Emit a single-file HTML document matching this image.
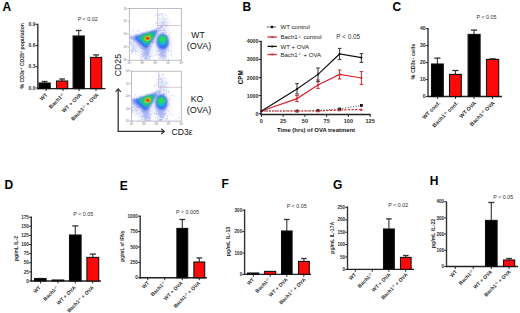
<!DOCTYPE html>
<html><head><meta charset="utf-8"><style>
html,body{margin:0;padding:0;background:#fff;}
svg{display:block;font-family:"Liberation Sans", sans-serif;}
</style></head><body>
<svg width="520" height="313" viewBox="0 0 520 313">
<defs>
<filter id="b03" x="-50%" y="-50%" width="200%" height="200%"><feGaussianBlur stdDeviation="0.35"/></filter>
<filter id="b05" x="-50%" y="-50%" width="200%" height="200%"><feGaussianBlur stdDeviation="0.6"/></filter>
<filter id="b08" x="-50%" y="-50%" width="200%" height="200%"><feGaussianBlur stdDeviation="0.8"/></filter>
<filter id="b1" x="-50%" y="-50%" width="200%" height="200%"><feGaussianBlur stdDeviation="1"/></filter>
<filter id="b15" x="-50%" y="-50%" width="200%" height="200%"><feGaussianBlur stdDeviation="1.5"/></filter>
<filter id="b2" x="-50%" y="-50%" width="200%" height="200%"><feGaussianBlur stdDeviation="2.2"/></filter>
<filter id="b3" x="-50%" y="-50%" width="200%" height="200%"><feGaussianBlur stdDeviation="3"/></filter>
<filter id="b4" x="-50%" y="-50%" width="200%" height="200%"><feGaussianBlur stdDeviation="4"/></filter>
</defs>
<rect width="520" height="313" fill="#fff"/>
<text x="2.6" y="11" font-size="12" text-anchor="start" font-weight="bold" fill="#000">A</text>
<line x1="37.8" y1="23.7" x2="37.8" y2="89.19999999999999" stroke="#333" stroke-width="1.4"/>
<line x1="37.199999999999996" y1="88.6" x2="105.5" y2="88.6" stroke="#222" stroke-width="1.4"/>
<line x1="35.599999999999994" y1="24.3" x2="37.8" y2="24.3" stroke="#222" stroke-width="1.0"/>
<text x="35.4" y="26.064" font-size="4.9" text-anchor="end" font-weight="bold" fill="#2a2a2a">0.9</text>
<line x1="35.599999999999994" y1="45.5" x2="37.8" y2="45.5" stroke="#222" stroke-width="1.0"/>
<text x="35.4" y="47.264" font-size="4.9" text-anchor="end" font-weight="bold" fill="#2a2a2a">0.6</text>
<line x1="35.599999999999994" y1="66.7" x2="37.8" y2="66.7" stroke="#222" stroke-width="1.0"/>
<text x="35.4" y="68.464" font-size="4.9" text-anchor="end" font-weight="bold" fill="#2a2a2a">0.3</text>
<line x1="35.599999999999994" y1="88" x2="37.8" y2="88" stroke="#222" stroke-width="1.0"/>
<text x="35.4" y="89.764" font-size="4.9" text-anchor="end" font-weight="bold" fill="#2a2a2a">0.0</text>
<line x1="44.6" y1="83" x2="44.6" y2="81.5" stroke="#333" stroke-width="1.1"/>
<line x1="41.688" y1="81.5" x2="47.512" y2="81.5" stroke="#333" stroke-width="1.32"/>
<rect x="39.0" y="83" width="11.200000000000003" height="5.599999999999994" fill="#000" stroke="#111" stroke-width="1.1"/>
<line x1="62.1" y1="81" x2="62.1" y2="79.0" stroke="#333" stroke-width="1.1"/>
<line x1="59.188" y1="79.0" x2="65.012" y2="79.0" stroke="#333" stroke-width="1.32"/>
<rect x="56.5" y="81" width="11.200000000000003" height="7.599999999999994" fill="#fc0a0a" stroke="#111" stroke-width="1.1"/>
<line x1="78.69999999999999" y1="36" x2="78.69999999999999" y2="30.5" stroke="#333" stroke-width="1.1"/>
<line x1="75.78799999999998" y1="30.5" x2="81.612" y2="30.5" stroke="#333" stroke-width="1.32"/>
<rect x="73.1" y="36" width="11.200000000000003" height="52.599999999999994" fill="#000" stroke="#111" stroke-width="1.1"/>
<line x1="96.1" y1="57.4" x2="96.1" y2="54.9" stroke="#333" stroke-width="1.1"/>
<line x1="93.18799999999999" y1="54.9" x2="99.012" y2="54.9" stroke="#333" stroke-width="1.32"/>
<rect x="90.5" y="57.4" width="11.200000000000003" height="31.199999999999996" fill="#fc0a0a" stroke="#111" stroke-width="1.1"/>
<line x1="46.1" y1="88.6" x2="46.1" y2="91.0" stroke="#222" stroke-width="1.0"/>
<line x1="63.0" y1="88.6" x2="63.0" y2="91.0" stroke="#222" stroke-width="1.0"/>
<line x1="79.1" y1="88.6" x2="79.1" y2="91.0" stroke="#222" stroke-width="1.0"/>
<line x1="96.0" y1="88.6" x2="96.0" y2="91.0" stroke="#222" stroke-width="1.0"/>
<text x="47.8" y="95.19999999999999" font-size="5.3" text-anchor="end" font-weight="bold" fill="#2a2a2a" transform="rotate(-45 47.8 95.19999999999999)">WT</text>
<text x="64.8" y="95.19999999999999" font-size="5.3" text-anchor="end" font-weight="bold" fill="#2a2a2a" transform="rotate(-45 64.8 95.19999999999999)">Bach1<tspan font-size="70%" dy="-1.6">-/-</tspan><tspan dy="1.6"></tspan></text>
<text x="82" y="95.19999999999999" font-size="5.3" text-anchor="end" font-weight="bold" fill="#2a2a2a" transform="rotate(-45 82 95.19999999999999)">WT + OVA</text>
<text x="99" y="95.19999999999999" font-size="5.3" text-anchor="end" font-weight="bold" fill="#2a2a2a" transform="rotate(-45 99 95.19999999999999)">Bach1<tspan font-size="70%" dy="-1.6">-/-</tspan><tspan dy="1.6"> + OVA</tspan></text>
<text x="23.7" y="55.8" font-size="5.3" text-anchor="middle" font-weight="bold" fill="#2a2a2a" transform="rotate(-90 23.7 55.8)" textLength="65.6" lengthAdjust="spacingAndGlyphs">% CD3ε<tspan font-size="70%" dy="-1.6">+</tspan><tspan dy="1.6"> CD25</tspan><tspan font-size="70%" dy="-1.6">+</tspan><tspan dy="1.6"> population</tspan></text>
<text x="87.7" y="21.3" font-size="5.4" text-anchor="middle" font-weight="normal" fill="#333">P &lt; 0.02</text>
<text x="392.5" y="11" font-size="12" text-anchor="start" font-weight="bold" fill="#000">C</text>
<line x1="428" y1="28.0" x2="428" y2="97.1" stroke="#333" stroke-width="1.4"/>
<line x1="427.4" y1="96.5" x2="502" y2="96.5" stroke="#222" stroke-width="1.4"/>
<line x1="425.8" y1="28.6" x2="428" y2="28.6" stroke="#222" stroke-width="1.0"/>
<text x="425.6" y="30.400000000000002" font-size="5.0" text-anchor="end" font-weight="bold" fill="#2a2a2a">40</text>
<line x1="425.8" y1="45.6" x2="428" y2="45.6" stroke="#222" stroke-width="1.0"/>
<text x="425.6" y="47.4" font-size="5.0" text-anchor="end" font-weight="bold" fill="#2a2a2a">30</text>
<line x1="425.8" y1="62.6" x2="428" y2="62.6" stroke="#222" stroke-width="1.0"/>
<text x="425.6" y="64.4" font-size="5.0" text-anchor="end" font-weight="bold" fill="#2a2a2a">20</text>
<line x1="425.8" y1="79.6" x2="428" y2="79.6" stroke="#222" stroke-width="1.0"/>
<text x="425.6" y="81.39999999999999" font-size="5.0" text-anchor="end" font-weight="bold" fill="#2a2a2a">10</text>
<line x1="425.8" y1="96.6" x2="428" y2="96.6" stroke="#222" stroke-width="1.0"/>
<text x="425.6" y="98.39999999999999" font-size="5.0" text-anchor="end" font-weight="bold" fill="#2a2a2a">0</text>
<line x1="437.4" y1="64" x2="437.4" y2="58.1" stroke="#333" stroke-width="1.1"/>
<line x1="434.332" y1="58.1" x2="440.46799999999996" y2="58.1" stroke="#333" stroke-width="1.32"/>
<rect x="431.5" y="64" width="11.800000000000011" height="32.5" fill="#000" stroke="#111" stroke-width="1.1"/>
<line x1="455.4" y1="74.4" x2="455.4" y2="70.5" stroke="#333" stroke-width="1.1"/>
<line x1="452.332" y1="70.5" x2="458.46799999999996" y2="70.5" stroke="#333" stroke-width="1.32"/>
<rect x="449.5" y="74.4" width="11.800000000000011" height="22.099999999999994" fill="#fc0a0a" stroke="#111" stroke-width="1.1"/>
<line x1="474.1" y1="34.4" x2="474.1" y2="30.1" stroke="#333" stroke-width="1.1"/>
<line x1="470.98" y1="30.1" x2="477.22" y2="30.1" stroke="#333" stroke-width="1.32"/>
<rect x="468.1" y="34.4" width="11.999999999999943" height="62.1" fill="#000" stroke="#111" stroke-width="1.1"/>
<line x1="492.6" y1="59.4" x2="492.6" y2="58.9" stroke="#333" stroke-width="1.1"/>
<line x1="489.428" y1="58.9" x2="495.77200000000005" y2="58.9" stroke="#333" stroke-width="1.32"/>
<rect x="486.5" y="59.4" width="12.199999999999989" height="37.1" fill="#fc0a0a" stroke="#111" stroke-width="1.1"/>
<line x1="437.6" y1="96.5" x2="437.6" y2="98.9" stroke="#222" stroke-width="1.0"/>
<line x1="455.5" y1="96.5" x2="455.5" y2="98.9" stroke="#222" stroke-width="1.0"/>
<line x1="474.1" y1="96.5" x2="474.1" y2="98.9" stroke="#222" stroke-width="1.0"/>
<line x1="492.5" y1="96.5" x2="492.5" y2="98.9" stroke="#222" stroke-width="1.0"/>
<text x="440.6" y="103.5" font-size="5.4" text-anchor="end" font-weight="bold" fill="#2a2a2a" transform="rotate(-45 440.6 103.5)">WT conf.</text>
<text x="458.6" y="103.5" font-size="5.4" text-anchor="end" font-weight="bold" fill="#2a2a2a" transform="rotate(-45 458.6 103.5)">Bach1<tspan font-size="70%" dy="-1.6">-/-</tspan><tspan dy="1.6"> conf.</tspan></text>
<text x="476.5" y="103.5" font-size="5.4" text-anchor="end" font-weight="bold" fill="#2a2a2a" transform="rotate(-45 476.5 103.5)">WT OVA</text>
<text x="495" y="103.5" font-size="5.4" text-anchor="end" font-weight="bold" fill="#2a2a2a" transform="rotate(-45 495 103.5)">Bach1<tspan font-size="70%" dy="-1.6">-/-</tspan><tspan dy="1.6"> OVA</tspan></text>
<text x="415.2" y="61.6" font-size="5.3" text-anchor="middle" font-weight="bold" fill="#2a2a2a" transform="rotate(-90 415.2 61.6)" textLength="35.6" lengthAdjust="spacingAndGlyphs">% CD3ε<tspan font-size="70%" dy="-1.6">+</tspan><tspan dy="1.6"> cells</tspan></text>
<text x="486.5" y="19.4" font-size="5.4" text-anchor="middle" font-weight="normal" fill="#333">P &lt; 0.05</text>
<text x="4.5" y="189" font-size="12" text-anchor="start" font-weight="bold" fill="#000">D</text>
<line x1="31.3" y1="216.4" x2="31.3" y2="281.6" stroke="#333" stroke-width="1.4"/>
<line x1="30.7" y1="281" x2="101" y2="281" stroke="#222" stroke-width="1.4"/>
<line x1="29.1" y1="217.16000000000003" x2="31.3" y2="217.16000000000003" stroke="#222" stroke-width="1.0"/>
<text x="28.900000000000002" y="218.81600000000003" font-size="4.6" text-anchor="end" font-weight="bold" fill="#2a2a2a">175</text>
<line x1="29.1" y1="226.28" x2="31.3" y2="226.28" stroke="#222" stroke-width="1.0"/>
<text x="28.900000000000002" y="227.936" font-size="4.6" text-anchor="end" font-weight="bold" fill="#2a2a2a">150</text>
<line x1="29.1" y1="235.4" x2="31.3" y2="235.4" stroke="#222" stroke-width="1.0"/>
<text x="28.900000000000002" y="237.056" font-size="4.6" text-anchor="end" font-weight="bold" fill="#2a2a2a">125</text>
<line x1="29.1" y1="244.52" x2="31.3" y2="244.52" stroke="#222" stroke-width="1.0"/>
<text x="28.900000000000002" y="246.17600000000002" font-size="4.6" text-anchor="end" font-weight="bold" fill="#2a2a2a">100</text>
<line x1="29.1" y1="253.64000000000001" x2="31.3" y2="253.64000000000001" stroke="#222" stroke-width="1.0"/>
<text x="28.900000000000002" y="255.29600000000002" font-size="4.6" text-anchor="end" font-weight="bold" fill="#2a2a2a">75</text>
<line x1="29.1" y1="262.76" x2="31.3" y2="262.76" stroke="#222" stroke-width="1.0"/>
<text x="28.900000000000002" y="264.416" font-size="4.6" text-anchor="end" font-weight="bold" fill="#2a2a2a">50</text>
<line x1="29.1" y1="271.88" x2="31.3" y2="271.88" stroke="#222" stroke-width="1.0"/>
<text x="28.900000000000002" y="273.536" font-size="4.6" text-anchor="end" font-weight="bold" fill="#2a2a2a">25</text>
<line x1="29.1" y1="281.0" x2="31.3" y2="281.0" stroke="#222" stroke-width="1.0"/>
<text x="28.900000000000002" y="282.656" font-size="4.6" text-anchor="end" font-weight="bold" fill="#2a2a2a">0</text>
<line x1="40.3" y1="278.6" x2="40.3" y2="278.5" stroke="#333" stroke-width="1.1"/>
<line x1="37.284" y1="278.5" x2="43.315999999999995" y2="278.5" stroke="#333" stroke-width="1.32"/>
<rect x="34.5" y="278.6" width="11.600000000000001" height="2.3999999999999773" fill="#000" stroke="#111" stroke-width="1.1"/>
<rect x="52.1" y="280" width="11.600000000000001" height="1" fill="#000" stroke="#111" stroke-width="1.1"/>
<line x1="75.30000000000001" y1="235" x2="75.30000000000001" y2="225.9" stroke="#333" stroke-width="1.1"/>
<line x1="72.284" y1="225.9" x2="78.31600000000002" y2="225.9" stroke="#333" stroke-width="1.32"/>
<rect x="69.5" y="235" width="11.600000000000009" height="46" fill="#000" stroke="#111" stroke-width="1.1"/>
<line x1="92.80000000000001" y1="257.4" x2="92.80000000000001" y2="254.1" stroke="#333" stroke-width="1.1"/>
<line x1="89.73200000000001" y1="254.1" x2="95.86800000000001" y2="254.1" stroke="#333" stroke-width="1.32"/>
<rect x="86.9" y="257.4" width="11.799999999999997" height="23.600000000000023" fill="#fc0a0a" stroke="#111" stroke-width="1.1"/>
<line x1="40.5" y1="281" x2="40.5" y2="283.4" stroke="#222" stroke-width="1.0"/>
<line x1="58.0" y1="281" x2="58.0" y2="283.4" stroke="#222" stroke-width="1.0"/>
<line x1="75.3" y1="281" x2="75.3" y2="283.4" stroke="#222" stroke-width="1.0"/>
<line x1="92.7" y1="281" x2="92.7" y2="283.4" stroke="#222" stroke-width="1.0"/>
<text x="41" y="288" font-size="5.1" text-anchor="end" font-weight="bold" fill="#2a2a2a" transform="rotate(-45 41 288)">WT</text>
<text x="58.5" y="288" font-size="5.1" text-anchor="end" font-weight="bold" fill="#2a2a2a" transform="rotate(-45 58.5 288)">Bach1<tspan font-size="70%" dy="-1.6">-/-</tspan><tspan dy="1.6"></tspan></text>
<text x="76" y="288" font-size="5.1" text-anchor="end" font-weight="bold" fill="#2a2a2a" transform="rotate(-45 76 288)">WT + OVA</text>
<text x="94" y="288" font-size="5.1" text-anchor="end" font-weight="bold" fill="#2a2a2a" transform="rotate(-45 94 288)">Bach1<tspan font-size="70%" dy="-1.6">-/-</tspan><tspan dy="1.6"> + OVA</tspan></text>
<text x="18.3" y="248.5" font-size="5.0" text-anchor="middle" font-weight="bold" fill="#2a2a2a" transform="rotate(-90 18.3 248.5)" textLength="25" lengthAdjust="spacingAndGlyphs">pg/mL IL-2</text>
<text x="83.3" y="215.79999999999998" font-size="5.4" text-anchor="middle" font-weight="normal" fill="#333">P &lt; 0.05</text>
<text x="119.8" y="189.5" font-size="12" text-anchor="start" font-weight="bold" fill="#000">E</text>
<line x1="140.2" y1="215.6" x2="140.2" y2="278.40000000000003" stroke="#333" stroke-width="1.4"/>
<line x1="139.6" y1="277.8" x2="207" y2="277.8" stroke="#222" stroke-width="1.4"/>
<line x1="138.0" y1="216.20000000000002" x2="140.2" y2="216.20000000000002" stroke="#222" stroke-width="1.0"/>
<text x="137.79999999999998" y="217.85600000000002" font-size="4.6" text-anchor="end" font-weight="bold" fill="#2a2a2a">1000</text>
<line x1="138.0" y1="231.60000000000002" x2="140.2" y2="231.60000000000002" stroke="#222" stroke-width="1.0"/>
<text x="137.79999999999998" y="233.25600000000003" font-size="4.6" text-anchor="end" font-weight="bold" fill="#2a2a2a">750</text>
<line x1="138.0" y1="247.0" x2="140.2" y2="247.0" stroke="#222" stroke-width="1.0"/>
<text x="137.79999999999998" y="248.656" font-size="4.6" text-anchor="end" font-weight="bold" fill="#2a2a2a">500</text>
<line x1="138.0" y1="262.40000000000003" x2="140.2" y2="262.40000000000003" stroke="#222" stroke-width="1.0"/>
<text x="137.79999999999998" y="264.05600000000004" font-size="4.6" text-anchor="end" font-weight="bold" fill="#2a2a2a">250</text>
<line x1="138.0" y1="277.8" x2="140.2" y2="277.8" stroke="#222" stroke-width="1.0"/>
<text x="137.79999999999998" y="279.456" font-size="4.6" text-anchor="end" font-weight="bold" fill="#2a2a2a">0</text>
<rect x="142.0" y="277.8" width="11.199999999999989" height="0.0" fill="#000" stroke="#111" stroke-width="1.1"/>
<rect x="159.0" y="277.8" width="11.199999999999989" height="0.0" fill="#000" stroke="#111" stroke-width="1.1"/>
<line x1="182.3" y1="228.4" x2="182.3" y2="219.5" stroke="#333" stroke-width="1.1"/>
<line x1="179.49200000000002" y1="219.5" x2="185.108" y2="219.5" stroke="#333" stroke-width="1.32"/>
<rect x="176.9" y="228.4" width="10.799999999999983" height="49.400000000000006" fill="#000" stroke="#111" stroke-width="1.1"/>
<line x1="199.3" y1="262" x2="199.3" y2="257.9" stroke="#333" stroke-width="1.1"/>
<line x1="196.49200000000002" y1="257.9" x2="202.108" y2="257.9" stroke="#333" stroke-width="1.32"/>
<rect x="193.9" y="262" width="10.799999999999983" height="15.800000000000011" fill="#fc0a0a" stroke="#111" stroke-width="1.1"/>
<line x1="147.8" y1="277.8" x2="147.8" y2="280.2" stroke="#222" stroke-width="1.0"/>
<line x1="164.7" y1="277.8" x2="164.7" y2="280.2" stroke="#222" stroke-width="1.0"/>
<line x1="182.29999999999998" y1="277.8" x2="182.29999999999998" y2="280.2" stroke="#222" stroke-width="1.0"/>
<line x1="199.2" y1="277.8" x2="199.2" y2="280.2" stroke="#222" stroke-width="1.0"/>
<text x="149.5" y="283.40000000000003" font-size="5.1" text-anchor="end" font-weight="bold" fill="#2a2a2a" transform="rotate(-45 149.5 283.40000000000003)">WT</text>
<text x="166" y="283.40000000000003" font-size="5.1" text-anchor="end" font-weight="bold" fill="#2a2a2a" transform="rotate(-45 166 283.40000000000003)">Bach1<tspan font-size="70%" dy="-1.6">-/-</tspan><tspan dy="1.6"></tspan></text>
<text x="183" y="283.40000000000003" font-size="5.1" text-anchor="end" font-weight="bold" fill="#2a2a2a" transform="rotate(-45 183 283.40000000000003)">WT + OVA</text>
<text x="200.5" y="283.40000000000003" font-size="5.1" text-anchor="end" font-weight="bold" fill="#2a2a2a" transform="rotate(-45 200.5 283.40000000000003)">Bach1<tspan font-size="70%" dy="-1.6">-/-</tspan><tspan dy="1.6"> + OVA</tspan></text>
<text x="124.3" y="246.2" font-size="5.0" text-anchor="middle" font-weight="bold" fill="#2a2a2a" transform="rotate(-90 124.3 246.2)" textLength="31" lengthAdjust="spacingAndGlyphs">pg/mL of IFNγ</text>
<text x="187.5" y="214.4" font-size="5.4" text-anchor="middle" font-weight="normal" fill="#333">P &lt; 0.005</text>
<text x="221.5" y="188.3" font-size="12" text-anchor="start" font-weight="bold" fill="#000">F</text>
<line x1="244.6" y1="209.4" x2="244.6" y2="275.0" stroke="#333" stroke-width="1.4"/>
<line x1="244.0" y1="274.4" x2="311" y2="274.4" stroke="#222" stroke-width="1.4"/>
<line x1="242.4" y1="210.2" x2="244.6" y2="210.2" stroke="#222" stroke-width="1.0"/>
<text x="242.2" y="211.856" font-size="4.6" text-anchor="end" font-weight="bold" fill="#2a2a2a">300</text>
<line x1="242.4" y1="231.59999999999997" x2="244.6" y2="231.59999999999997" stroke="#222" stroke-width="1.0"/>
<text x="242.2" y="233.25599999999997" font-size="4.6" text-anchor="end" font-weight="bold" fill="#2a2a2a">200</text>
<line x1="242.4" y1="252.99999999999997" x2="244.6" y2="252.99999999999997" stroke="#222" stroke-width="1.0"/>
<text x="242.2" y="254.65599999999998" font-size="4.6" text-anchor="end" font-weight="bold" fill="#2a2a2a">100</text>
<line x1="242.4" y1="274.4" x2="244.6" y2="274.4" stroke="#222" stroke-width="1.0"/>
<text x="242.2" y="276.056" font-size="4.6" text-anchor="end" font-weight="bold" fill="#2a2a2a">0</text>
<rect x="247.5" y="273" width="11.199999999999989" height="1.3999999999999773" fill="#000" stroke="#111" stroke-width="1.1"/>
<rect x="264.5" y="271.4" width="11.199999999999989" height="3.0" fill="#fc0a0a" stroke="#111" stroke-width="1.1"/>
<line x1="286.79999999999995" y1="231" x2="286.79999999999995" y2="219.5" stroke="#333" stroke-width="1.1"/>
<line x1="284.044" y1="219.5" x2="289.5559999999999" y2="219.5" stroke="#333" stroke-width="1.32"/>
<rect x="281.5" y="231" width="10.599999999999966" height="43.39999999999998" fill="#000" stroke="#111" stroke-width="1.1"/>
<line x1="303.9" y1="261.4" x2="303.9" y2="258.5" stroke="#333" stroke-width="1.1"/>
<line x1="301.092" y1="258.5" x2="306.70799999999997" y2="258.5" stroke="#333" stroke-width="1.32"/>
<rect x="298.5" y="261.4" width="10.800000000000011" height="13.0" fill="#fc0a0a" stroke="#111" stroke-width="1.1"/>
<line x1="253.3" y1="274.4" x2="253.3" y2="276.79999999999995" stroke="#222" stroke-width="1.0"/>
<line x1="270.2" y1="274.4" x2="270.2" y2="276.79999999999995" stroke="#222" stroke-width="1.0"/>
<line x1="286.8" y1="274.4" x2="286.8" y2="276.79999999999995" stroke="#222" stroke-width="1.0"/>
<line x1="303.8" y1="274.4" x2="303.8" y2="276.79999999999995" stroke="#222" stroke-width="1.0"/>
<text x="254.5" y="280.0" font-size="5.1" text-anchor="end" font-weight="bold" fill="#2a2a2a" transform="rotate(-45 254.5 280.0)">WT</text>
<text x="270.5" y="280.0" font-size="5.1" text-anchor="end" font-weight="bold" fill="#2a2a2a" transform="rotate(-45 270.5 280.0)">Bach1<tspan font-size="70%" dy="-1.6">-/-</tspan><tspan dy="1.6"></tspan></text>
<text x="288" y="280.0" font-size="5.1" text-anchor="end" font-weight="bold" fill="#2a2a2a" transform="rotate(-45 288 280.0)">WT + OVA</text>
<text x="306" y="280.0" font-size="5.1" text-anchor="end" font-weight="bold" fill="#2a2a2a" transform="rotate(-45 306 280.0)">Bach1<tspan font-size="70%" dy="-1.6">-/-</tspan><tspan dy="1.6"> + OVA</tspan></text>
<text x="229.8" y="241.5" font-size="5.0" text-anchor="middle" font-weight="bold" fill="#2a2a2a" transform="rotate(-90 229.8 241.5)" textLength="29.5" lengthAdjust="spacingAndGlyphs">pg/mL  IL-13</text>
<text x="296.7" y="208.4" font-size="5.4" text-anchor="middle" font-weight="normal" fill="#333">P &lt; 0.05</text>
<text x="333" y="188.7" font-size="12" text-anchor="start" font-weight="bold" fill="#000">G</text>
<line x1="347.5" y1="206.4" x2="347.5" y2="270.0" stroke="#333" stroke-width="1.4"/>
<line x1="346.9" y1="269.4" x2="414" y2="269.4" stroke="#222" stroke-width="1.4"/>
<line x1="345.3" y1="207.39999999999998" x2="347.5" y2="207.39999999999998" stroke="#222" stroke-width="1.0"/>
<text x="345.1" y="209.05599999999998" font-size="4.6" text-anchor="end" font-weight="bold" fill="#2a2a2a">250</text>
<line x1="345.3" y1="219.79999999999998" x2="347.5" y2="219.79999999999998" stroke="#222" stroke-width="1.0"/>
<text x="345.1" y="221.456" font-size="4.6" text-anchor="end" font-weight="bold" fill="#2a2a2a">200</text>
<line x1="345.3" y1="232.2" x2="347.5" y2="232.2" stroke="#222" stroke-width="1.0"/>
<text x="345.1" y="233.856" font-size="4.6" text-anchor="end" font-weight="bold" fill="#2a2a2a">150</text>
<line x1="345.3" y1="244.59999999999997" x2="347.5" y2="244.59999999999997" stroke="#222" stroke-width="1.0"/>
<text x="345.1" y="246.25599999999997" font-size="4.6" text-anchor="end" font-weight="bold" fill="#2a2a2a">100</text>
<line x1="345.3" y1="257.0" x2="347.5" y2="257.0" stroke="#222" stroke-width="1.0"/>
<text x="345.1" y="258.656" font-size="4.6" text-anchor="end" font-weight="bold" fill="#2a2a2a">50</text>
<line x1="345.3" y1="269.4" x2="347.5" y2="269.4" stroke="#222" stroke-width="1.0"/>
<text x="345.1" y="271.056" font-size="4.6" text-anchor="end" font-weight="bold" fill="#2a2a2a">0</text>
<rect x="349.5" y="269.4" width="11.199999999999989" height="0.0" fill="#000" stroke="#111" stroke-width="1.1"/>
<rect x="366.5" y="269.4" width="11.199999999999989" height="0.0" fill="#000" stroke="#111" stroke-width="1.1"/>
<line x1="388.9" y1="229" x2="388.9" y2="218.9" stroke="#333" stroke-width="1.1"/>
<line x1="386.092" y1="218.9" x2="391.70799999999997" y2="218.9" stroke="#333" stroke-width="1.32"/>
<rect x="383.5" y="229" width="10.800000000000011" height="40.39999999999998" fill="#000" stroke="#111" stroke-width="1.1"/>
<line x1="405.79999999999995" y1="257.4" x2="405.79999999999995" y2="255.5" stroke="#333" stroke-width="1.1"/>
<line x1="403.044" y1="255.5" x2="408.5559999999999" y2="255.5" stroke="#333" stroke-width="1.32"/>
<rect x="400.5" y="257.4" width="10.599999999999966" height="12.0" fill="#fc0a0a" stroke="#111" stroke-width="1.1"/>
<line x1="355.3" y1="269.4" x2="355.3" y2="271.79999999999995" stroke="#222" stroke-width="1.0"/>
<line x1="372.2" y1="269.4" x2="372.2" y2="271.79999999999995" stroke="#222" stroke-width="1.0"/>
<line x1="388.90000000000003" y1="269.4" x2="388.90000000000003" y2="271.79999999999995" stroke="#222" stroke-width="1.0"/>
<line x1="405.7" y1="269.4" x2="405.7" y2="271.79999999999995" stroke="#222" stroke-width="1.0"/>
<text x="356.5" y="275.0" font-size="5.1" text-anchor="end" font-weight="bold" fill="#2a2a2a" transform="rotate(-45 356.5 275.0)">WT</text>
<text x="373" y="275.0" font-size="5.1" text-anchor="end" font-weight="bold" fill="#2a2a2a" transform="rotate(-45 373 275.0)">Bach1<tspan font-size="70%" dy="-1.6">-/-</tspan><tspan dy="1.6"></tspan></text>
<text x="391" y="275.0" font-size="5.1" text-anchor="end" font-weight="bold" fill="#2a2a2a" transform="rotate(-45 391 275.0)">WT + OVA</text>
<text x="408" y="275.0" font-size="5.1" text-anchor="end" font-weight="bold" fill="#2a2a2a" transform="rotate(-45 408 275.0)">Bach1<tspan font-size="70%" dy="-1.6">-/-</tspan><tspan dy="1.6"> + OVA</tspan></text>
<text x="334.2" y="237.8" font-size="5.0" text-anchor="middle" font-weight="bold" fill="#2a2a2a" transform="rotate(-90 334.2 237.8)" textLength="31.7" lengthAdjust="spacingAndGlyphs">pg/mL  IL-17A</text>
<text x="398.3" y="207.4" font-size="5.4" text-anchor="middle" font-weight="normal" fill="#333">P &lt; 0.02</text>
<text x="429.8" y="184.7" font-size="12" text-anchor="start" font-weight="bold" fill="#000">H</text>
<line x1="446.5" y1="201.4" x2="446.5" y2="267.1" stroke="#333" stroke-width="1.4"/>
<line x1="445.9" y1="266.5" x2="518" y2="266.5" stroke="#222" stroke-width="1.4"/>
<line x1="444.3" y1="201.7" x2="446.5" y2="201.7" stroke="#222" stroke-width="1.0"/>
<text x="444.1" y="203.356" font-size="4.6" text-anchor="end" font-weight="bold" fill="#2a2a2a">400</text>
<line x1="444.3" y1="217.9" x2="446.5" y2="217.9" stroke="#222" stroke-width="1.0"/>
<text x="444.1" y="219.556" font-size="4.6" text-anchor="end" font-weight="bold" fill="#2a2a2a">300</text>
<line x1="444.3" y1="234.1" x2="446.5" y2="234.1" stroke="#222" stroke-width="1.0"/>
<text x="444.1" y="235.756" font-size="4.6" text-anchor="end" font-weight="bold" fill="#2a2a2a">200</text>
<line x1="444.3" y1="250.3" x2="446.5" y2="250.3" stroke="#222" stroke-width="1.0"/>
<text x="444.1" y="251.95600000000002" font-size="4.6" text-anchor="end" font-weight="bold" fill="#2a2a2a">100</text>
<line x1="444.3" y1="266.5" x2="446.5" y2="266.5" stroke="#222" stroke-width="1.0"/>
<text x="444.1" y="268.156" font-size="4.6" text-anchor="end" font-weight="bold" fill="#2a2a2a">0</text>
<rect x="449.5" y="266.5" width="11.199999999999989" height="0.0" fill="#000" stroke="#111" stroke-width="1.1"/>
<rect x="467.5" y="266.5" width="11.199999999999989" height="0.0" fill="#000" stroke="#111" stroke-width="1.1"/>
<line x1="491.29999999999995" y1="220.4" x2="491.29999999999995" y2="202.5" stroke="#333" stroke-width="1.1"/>
<line x1="488.284" y1="202.5" x2="494.3159999999999" y2="202.5" stroke="#333" stroke-width="1.32"/>
<rect x="485.5" y="220.4" width="11.599999999999966" height="46.099999999999994" fill="#000" stroke="#111" stroke-width="1.1"/>
<line x1="509.1" y1="260" x2="509.1" y2="258.5" stroke="#333" stroke-width="1.1"/>
<line x1="506.188" y1="258.5" x2="512.0120000000001" y2="258.5" stroke="#333" stroke-width="1.32"/>
<rect x="503.5" y="260" width="11.200000000000045" height="6.5" fill="#fc0a0a" stroke="#111" stroke-width="1.1"/>
<line x1="455.3" y1="266.5" x2="455.3" y2="268.9" stroke="#222" stroke-width="1.0"/>
<line x1="473.2" y1="266.5" x2="473.2" y2="268.9" stroke="#222" stroke-width="1.0"/>
<line x1="491.3" y1="266.5" x2="491.3" y2="268.9" stroke="#222" stroke-width="1.0"/>
<line x1="509.0" y1="266.5" x2="509.0" y2="268.9" stroke="#222" stroke-width="1.0"/>
<text x="457.5" y="272.1" font-size="5.1" text-anchor="end" font-weight="bold" fill="#2a2a2a" transform="rotate(-45 457.5 272.1)">WT</text>
<text x="474" y="272.1" font-size="5.1" text-anchor="end" font-weight="bold" fill="#2a2a2a" transform="rotate(-45 474 272.1)">Bach1<tspan font-size="70%" dy="-1.6">-/-</tspan><tspan dy="1.6"></tspan></text>
<text x="492.5" y="272.1" font-size="5.1" text-anchor="end" font-weight="bold" fill="#2a2a2a" transform="rotate(-45 492.5 272.1)">WT + OVA</text>
<text x="511" y="272.1" font-size="5.1" text-anchor="end" font-weight="bold" fill="#2a2a2a" transform="rotate(-45 511 272.1)">Bach1<tspan font-size="70%" dy="-1.6">-/-</tspan><tspan dy="1.6"> + OVA</tspan></text>
<text x="435" y="233.5" font-size="5.0" text-anchor="middle" font-weight="bold" fill="#2a2a2a" transform="rotate(-90 435 233.5)" textLength="29.5" lengthAdjust="spacingAndGlyphs">pg/mL  IL-22</text>
<text x="503.3" y="198.79999999999998" font-size="5.4" text-anchor="middle" font-weight="normal" fill="#333">P &lt; 0.05</text>
<text x="242.5" y="11" font-size="12" text-anchor="start" font-weight="bold" fill="#000">B</text>
<line x1="261.1" y1="40.8" x2="261.1" y2="115.1" stroke="#222" stroke-width="1.4"/>
<line x1="260.5" y1="114.5" x2="370.6" y2="114.5" stroke="#222" stroke-width="1.4"/>
<line x1="258.70000000000005" y1="41.4" x2="261.1" y2="41.4" stroke="#222" stroke-width="1.0"/>
<text x="258.5" y="43.3" font-size="5.3" text-anchor="end" font-weight="bold" fill="#2a2a2a">4000</text>
<line x1="258.70000000000005" y1="59.4" x2="261.1" y2="59.4" stroke="#222" stroke-width="1.0"/>
<text x="258.5" y="61.3" font-size="5.3" text-anchor="end" font-weight="bold" fill="#2a2a2a">3000</text>
<line x1="258.70000000000005" y1="77.6" x2="261.1" y2="77.6" stroke="#222" stroke-width="1.0"/>
<text x="258.5" y="79.5" font-size="5.3" text-anchor="end" font-weight="bold" fill="#2a2a2a">2000</text>
<line x1="258.70000000000005" y1="95.6" x2="261.1" y2="95.6" stroke="#222" stroke-width="1.0"/>
<text x="258.5" y="97.5" font-size="5.3" text-anchor="end" font-weight="bold" fill="#2a2a2a">1000</text>
<line x1="258.70000000000005" y1="113.6" x2="261.1" y2="113.6" stroke="#222" stroke-width="1.0"/>
<text x="258.5" y="115.5" font-size="5.3" text-anchor="end" font-weight="bold" fill="#2a2a2a">0</text>
<line x1="261.4" y1="114.5" x2="261.4" y2="116.9" stroke="#222" stroke-width="1.0"/>
<text x="261.4" y="122.7" font-size="5.5" text-anchor="middle" font-weight="bold" fill="#2a2a2a">0</text>
<line x1="283.15" y1="114.5" x2="283.15" y2="116.9" stroke="#222" stroke-width="1.0"/>
<text x="283.15" y="122.7" font-size="5.5" text-anchor="middle" font-weight="bold" fill="#2a2a2a">25</text>
<line x1="304.9" y1="114.5" x2="304.9" y2="116.9" stroke="#222" stroke-width="1.0"/>
<text x="304.9" y="122.7" font-size="5.5" text-anchor="middle" font-weight="bold" fill="#2a2a2a">50</text>
<line x1="326.65" y1="114.5" x2="326.65" y2="116.9" stroke="#222" stroke-width="1.0"/>
<text x="326.65" y="122.7" font-size="5.5" text-anchor="middle" font-weight="bold" fill="#2a2a2a">75</text>
<line x1="348.4" y1="114.5" x2="348.4" y2="116.9" stroke="#222" stroke-width="1.0"/>
<text x="348.4" y="122.7" font-size="5.5" text-anchor="middle" font-weight="bold" fill="#2a2a2a">100</text>
<line x1="370.15" y1="114.5" x2="370.15" y2="116.9" stroke="#222" stroke-width="1.0"/>
<text x="370.15" y="122.7" font-size="5.5" text-anchor="middle" font-weight="bold" fill="#2a2a2a">125</text>
<text x="316" y="131.6" font-size="6.2" text-anchor="middle" font-weight="bold" fill="#111" textLength="78" lengthAdjust="spacingAndGlyphs">Time (hrs) of OVA treatment</text>
<text x="242.6" y="77.3" font-size="6.3" text-anchor="middle" font-weight="bold" fill="#111" transform="rotate(-90 242.6 77.3)">CPM</text>
<text x="348.2" y="38.5" font-size="6.4" text-anchor="middle" font-weight="normal" fill="#333">P &lt; 0.05</text>
<polyline points="261.5,111 297,111 318,110.5 339.6,109 361.4,105.4" fill="none" stroke="#222" stroke-width="1.0" stroke-dasharray="0.9,1.8"/>
<polyline points="261.5,111 297,111 318,111 339.6,110 361.4,109.4" fill="none" stroke="#d8262c" stroke-width="1.2" stroke-dasharray="2.2,1.4"/>
<rect x="295.6" y="109.6" width="2.8" height="2.8" fill="#111"/>
<rect x="316.6" y="109.1" width="2.8" height="2.8" fill="#111"/>
<rect x="338.20000000000005" y="107.6" width="2.8" height="2.8" fill="#111"/>
<rect x="360.0" y="104.0" width="2.8" height="2.8" fill="#111"/>
<polygon points="295.4,112.3 298.6,112.3 297,109.5" fill="#d8262c"/>
<polygon points="316.4,112.3 319.6,112.3 318,109.5" fill="#d8262c"/>
<polygon points="338.0,111.3 341.20000000000005,111.3 339.6,108.5" fill="#d8262c"/>
<polygon points="359.79999999999995,110.7 363.0,110.7 361.4,107.9" fill="#d8262c"/>
<line x1="297" y1="95.6" x2="297" y2="101.6" stroke="#d8262c" stroke-width="1.0"/>
<line x1="295.2" y1="95.6" x2="298.8" y2="95.6" stroke="#d8262c" stroke-width="1.0"/>
<line x1="295.2" y1="101.6" x2="298.8" y2="101.6" stroke="#d8262c" stroke-width="1.0"/>
<line x1="318" y1="80" x2="318" y2="88.4" stroke="#d8262c" stroke-width="1.0"/>
<line x1="316.2" y1="80" x2="319.8" y2="80" stroke="#d8262c" stroke-width="1.0"/>
<line x1="316.2" y1="88.4" x2="319.8" y2="88.4" stroke="#d8262c" stroke-width="1.0"/>
<line x1="339.6" y1="70" x2="339.6" y2="79" stroke="#d8262c" stroke-width="1.0"/>
<line x1="337.8" y1="70" x2="341.40000000000003" y2="70" stroke="#d8262c" stroke-width="1.0"/>
<line x1="337.8" y1="79" x2="341.40000000000003" y2="79" stroke="#d8262c" stroke-width="1.0"/>
<line x1="361.4" y1="71.6" x2="361.4" y2="84.4" stroke="#d8262c" stroke-width="1.0"/>
<line x1="359.59999999999997" y1="71.6" x2="363.2" y2="71.6" stroke="#d8262c" stroke-width="1.0"/>
<line x1="359.59999999999997" y1="84.4" x2="363.2" y2="84.4" stroke="#d8262c" stroke-width="1.0"/>
<polyline points="261.5,111 297,98.6 318,85 339.6,74.4 361.4,78" fill="none" stroke="#d8262c" stroke-width="1.2"/>
<line x1="297" y1="83.6" x2="297" y2="94" stroke="#333" stroke-width="1.0"/>
<line x1="295.2" y1="83.6" x2="298.8" y2="83.6" stroke="#333" stroke-width="1.0"/>
<line x1="295.2" y1="94" x2="298.8" y2="94" stroke="#333" stroke-width="1.0"/>
<line x1="318" y1="68" x2="318" y2="81.6" stroke="#333" stroke-width="1.0"/>
<line x1="316.2" y1="68" x2="319.8" y2="68" stroke="#333" stroke-width="1.0"/>
<line x1="316.2" y1="81.6" x2="319.8" y2="81.6" stroke="#333" stroke-width="1.0"/>
<line x1="339.6" y1="48.4" x2="339.6" y2="59.6" stroke="#333" stroke-width="1.0"/>
<line x1="337.8" y1="48.4" x2="341.40000000000003" y2="48.4" stroke="#333" stroke-width="1.0"/>
<line x1="337.8" y1="59.6" x2="341.40000000000003" y2="59.6" stroke="#333" stroke-width="1.0"/>
<line x1="361.4" y1="53.6" x2="361.4" y2="62.4" stroke="#333" stroke-width="1.0"/>
<line x1="359.59999999999997" y1="53.6" x2="363.2" y2="53.6" stroke="#333" stroke-width="1.0"/>
<line x1="359.59999999999997" y1="62.4" x2="363.2" y2="62.4" stroke="#333" stroke-width="1.0"/>
<polyline points="261.5,111 297,89 318,74.4 339.6,54 361.4,57.6" fill="none" stroke="#111" stroke-width="1.2"/>
<circle cx="261.5" cy="111" r="1.1" fill="#d8262c"/>
<circle cx="297" cy="98.6" r="1.1" fill="#d8262c"/>
<circle cx="318" cy="85" r="1.1" fill="#d8262c"/>
<circle cx="339.6" cy="74.4" r="1.1" fill="#d8262c"/>
<circle cx="361.4" cy="78" r="1.1" fill="#d8262c"/>
<circle cx="261.5" cy="111" r="1.1" fill="#111"/>
<circle cx="297" cy="89" r="1.1" fill="#111"/>
<circle cx="318" cy="74.4" r="1.1" fill="#111"/>
<circle cx="339.6" cy="54" r="1.1" fill="#111"/>
<circle cx="361.4" cy="57.6" r="1.1" fill="#111"/>
<line x1="267.5" y1="27" x2="276.8" y2="27" stroke="#111" stroke-width="1.3" stroke-dasharray="0.9,1.4"/>
<rect x="271.0" y="25.8" width="2.4" height="2.4" fill="#111"/>
<text x="280.4" y="29.2" font-size="6.1" text-anchor="start" font-weight="normal" fill="#1a1a1a">WT control</text>
<line x1="267.5" y1="37" x2="276.8" y2="37" stroke="#d8262c" stroke-width="1.3"/>
<polygon points="270.9,38.1 273.5,38.1 272.2,35.8" fill="#d8262c"/>
<text x="280.4" y="39.2" font-size="6.1" text-anchor="start" font-weight="normal" fill="#1a1a1a">Bach1<tspan font-size="70%" dy="-1.6">-/-</tspan><tspan dy="1.6"> control</tspan></text>
<line x1="267.5" y1="46.4" x2="276.8" y2="46.4" stroke="#111" stroke-width="1.3"/>
<circle cx="272.2" cy="46.4" r="1" fill="#111"/>
<text x="280.4" y="48.6" font-size="6.1" text-anchor="start" font-weight="normal" fill="#1a1a1a">WT + OVA</text>
<line x1="267.5" y1="54.5" x2="276.8" y2="54.5" stroke="#d8262c" stroke-width="1.3"/>
<circle cx="272.2" cy="54.5" r="1" fill="#d8262c"/>
<text x="280.4" y="56.7" font-size="6.1" text-anchor="start" font-weight="normal" fill="#1a1a1a">Bach1<tspan font-size="70%" dy="-1.6">-/-</tspan><tspan dy="1.6">  + OVA</tspan></text>
<rect x="129.3" y="8.5" width="52.0" height="51.7" fill="#fff" stroke="#a6a2b0" stroke-width="0.7"/>
<clipPath id="clip1"><rect x="129.70000000000002" y="8.9" width="51.2" height="50.900000000000006"/></clipPath>
<g clip-path="url(#clip1)">
<polygon points="127.45,38.70 162.40,28.05 146.05,55.65" fill="#dfe2f8" filter="url(#b3)"/>
<ellipse cx="146.1" cy="53.2" rx="4.5" ry="7" fill="#d6dbf6" filter="url(#b2)"/>
<ellipse cx="162.5" cy="44.2" rx="8" ry="13" fill="#dfe2f8" filter="url(#b3)"/>
<ellipse cx="163.5" cy="24.200000000000003" rx="5" ry="7" fill="#e3e5f8" filter="url(#b2)"/>
<ellipse cx="134.6" cy="44.2" rx="4" ry="7" fill="#e3e5f8" filter="url(#b2)"/>
<rect x="152.84" y="41.27" width="0.9" height="0.9" fill="#b0a8ee" opacity="0.5"/>
<rect x="151.33" y="33.75" width="0.9" height="0.9" fill="#9aa8f4" opacity="0.5"/>
<rect x="137.57" y="37.29" width="0.9" height="0.9" fill="#5a76ee" opacity="0.5"/>
<rect x="153.05" y="32.22" width="0.9" height="0.9" fill="#7f93f2" opacity="0.5"/>
<rect x="151.58" y="36.33" width="0.9" height="0.9" fill="#9aa8f4" opacity="0.5"/>
<rect x="154.28" y="29.37" width="0.9" height="0.9" fill="#b0a8ee" opacity="0.5"/>
<rect x="145.39" y="51.94" width="0.9" height="0.9" fill="#b0a8ee" opacity="0.5"/>
<rect x="139.95" y="41.38" width="0.9" height="0.9" fill="#b0a8ee" opacity="0.5"/>
<rect x="146.09" y="37.04" width="0.9" height="0.9" fill="#b0a8ee" opacity="0.5"/>
<rect x="148.84" y="41.87" width="0.9" height="0.9" fill="#b0a8ee" opacity="0.5"/>
<rect x="144.79" y="38.63" width="0.9" height="0.9" fill="#b0a8ee" opacity="0.5"/>
<rect x="146.39" y="47.53" width="0.9" height="0.9" fill="#7f93f2" opacity="0.5"/>
<rect x="129.24" y="36.64" width="0.9" height="0.9" fill="#b0a8ee" opacity="0.5"/>
<rect x="149.61" y="30.73" width="0.9" height="0.9" fill="#9aa8f4" opacity="0.5"/>
<rect x="130.64" y="38.47" width="0.9" height="0.9" fill="#7f93f2" opacity="0.5"/>
<rect x="142.62" y="47.14" width="0.9" height="0.9" fill="#7f93f2" opacity="0.5"/>
<rect x="151.34" y="31.46" width="0.9" height="0.9" fill="#7f93f2" opacity="0.5"/>
<rect x="148.59" y="42.08" width="0.9" height="0.9" fill="#5a76ee" opacity="0.5"/>
<rect x="143.99" y="32.90" width="0.9" height="0.9" fill="#9aa8f4" opacity="0.5"/>
<rect x="144.93" y="34.60" width="0.9" height="0.9" fill="#7f93f2" opacity="0.5"/>
<rect x="137.41" y="38.38" width="0.9" height="0.9" fill="#5a76ee" opacity="0.5"/>
<rect x="142.71" y="32.67" width="0.9" height="0.9" fill="#5a76ee" opacity="0.5"/>
<rect x="148.37" y="34.12" width="0.9" height="0.9" fill="#7f93f2" opacity="0.5"/>
<rect x="148.04" y="40.44" width="0.9" height="0.9" fill="#5a76ee" opacity="0.5"/>
<rect x="148.28" y="48.76" width="0.9" height="0.9" fill="#b0a8ee" opacity="0.5"/>
<rect x="153.99" y="36.61" width="0.9" height="0.9" fill="#5a76ee" opacity="0.5"/>
<rect x="150.44" y="31.98" width="0.9" height="0.9" fill="#b0a8ee" opacity="0.5"/>
<rect x="156.03" y="29.92" width="0.9" height="0.9" fill="#7f93f2" opacity="0.5"/>
<rect x="148.23" y="47.84" width="0.9" height="0.9" fill="#5a76ee" opacity="0.5"/>
<rect x="140.05" y="45.07" width="0.9" height="0.9" fill="#b0a8ee" opacity="0.5"/>
<rect x="146.50" y="36.08" width="0.9" height="0.9" fill="#5a76ee" opacity="0.5"/>
<rect x="148.47" y="43.61" width="0.9" height="0.9" fill="#5a76ee" opacity="0.5"/>
<rect x="136.27" y="36.44" width="0.9" height="0.9" fill="#5a76ee" opacity="0.5"/>
<rect x="146.46" y="34.33" width="0.9" height="0.9" fill="#7f93f2" opacity="0.5"/>
<rect x="143.18" y="35.64" width="0.9" height="0.9" fill="#7f93f2" opacity="0.5"/>
<rect x="144.96" y="42.55" width="0.9" height="0.9" fill="#b0a8ee" opacity="0.5"/>
<rect x="147.65" y="39.86" width="0.9" height="0.9" fill="#9aa8f4" opacity="0.5"/>
<rect x="141.08" y="47.94" width="0.9" height="0.9" fill="#5a76ee" opacity="0.5"/>
<rect x="145.04" y="38.14" width="0.9" height="0.9" fill="#b0a8ee" opacity="0.5"/>
<rect x="138.85" y="42.84" width="0.9" height="0.9" fill="#5a76ee" opacity="0.5"/>
<rect x="154.81" y="36.72" width="0.9" height="0.9" fill="#7f93f2" opacity="0.5"/>
<rect x="138.38" y="40.33" width="0.9" height="0.9" fill="#b0a8ee" opacity="0.5"/>
<rect x="145.70" y="42.44" width="0.9" height="0.9" fill="#b0a8ee" opacity="0.5"/>
<rect x="139.75" y="43.26" width="0.9" height="0.9" fill="#9aa8f4" opacity="0.5"/>
<rect x="149.57" y="31.15" width="0.9" height="0.9" fill="#b0a8ee" opacity="0.5"/>
<rect x="152.93" y="38.84" width="0.9" height="0.9" fill="#b0a8ee" opacity="0.5"/>
<rect x="149.21" y="39.08" width="0.9" height="0.9" fill="#9aa8f4" opacity="0.5"/>
<rect x="150.41" y="39.61" width="0.9" height="0.9" fill="#b0a8ee" opacity="0.5"/>
<rect x="147.63" y="33.99" width="0.9" height="0.9" fill="#9aa8f4" opacity="0.5"/>
<rect x="147.53" y="31.08" width="0.9" height="0.9" fill="#9aa8f4" opacity="0.5"/>
<rect x="142.76" y="32.62" width="0.9" height="0.9" fill="#9aa8f4" opacity="0.5"/>
<rect x="137.82" y="45.06" width="0.9" height="0.9" fill="#5a76ee" opacity="0.5"/>
<rect x="131.47" y="37.32" width="0.9" height="0.9" fill="#7f93f2" opacity="0.5"/>
<rect x="139.93" y="42.64" width="0.9" height="0.9" fill="#7f93f2" opacity="0.5"/>
<rect x="137.60" y="44.68" width="0.9" height="0.9" fill="#9aa8f4" opacity="0.5"/>
<rect x="151.44" y="38.75" width="0.9" height="0.9" fill="#7f93f2" opacity="0.5"/>
<rect x="153.06" y="38.49" width="0.9" height="0.9" fill="#5a76ee" opacity="0.5"/>
<rect x="139.18" y="35.17" width="0.9" height="0.9" fill="#9aa8f4" opacity="0.5"/>
<rect x="148.67" y="42.66" width="0.9" height="0.9" fill="#9aa8f4" opacity="0.5"/>
<rect x="141.56" y="34.19" width="0.9" height="0.9" fill="#5a76ee" opacity="0.5"/>
<rect x="137.55" y="38.63" width="0.9" height="0.9" fill="#b0a8ee" opacity="0.5"/>
<rect x="146.59" y="37.53" width="0.9" height="0.9" fill="#7f93f2" opacity="0.5"/>
<rect x="147.57" y="39.38" width="0.9" height="0.9" fill="#b0a8ee" opacity="0.5"/>
<rect x="143.23" y="43.10" width="0.9" height="0.9" fill="#b0a8ee" opacity="0.5"/>
<rect x="135.27" y="34.96" width="0.9" height="0.9" fill="#5a76ee" opacity="0.5"/>
<rect x="149.71" y="32.82" width="0.9" height="0.9" fill="#b0a8ee" opacity="0.5"/>
<rect x="139.62" y="35.24" width="0.9" height="0.9" fill="#b0a8ee" opacity="0.5"/>
<rect x="146.07" y="50.81" width="0.9" height="0.9" fill="#7f93f2" opacity="0.5"/>
<rect x="136.65" y="34.54" width="0.9" height="0.9" fill="#7f93f2" opacity="0.5"/>
<rect x="141.57" y="47.83" width="0.9" height="0.9" fill="#5a76ee" opacity="0.5"/>
<rect x="153.27" y="31.74" width="0.9" height="0.9" fill="#7f93f2" opacity="0.5"/>
<rect x="143.22" y="33.47" width="0.9" height="0.9" fill="#7f93f2" opacity="0.5"/>
<rect x="140.87" y="40.08" width="0.9" height="0.9" fill="#b0a8ee" opacity="0.5"/>
<rect x="134.29" y="38.69" width="0.9" height="0.9" fill="#b0a8ee" opacity="0.5"/>
<rect x="136.84" y="35.75" width="0.9" height="0.9" fill="#b0a8ee" opacity="0.5"/>
<rect x="130.13" y="38.16" width="0.9" height="0.9" fill="#9aa8f4" opacity="0.5"/>
<rect x="150.82" y="35.00" width="0.9" height="0.9" fill="#7f93f2" opacity="0.5"/>
<rect x="146.98" y="41.01" width="0.9" height="0.9" fill="#b0a8ee" opacity="0.5"/>
<rect x="153.61" y="35.89" width="0.9" height="0.9" fill="#9aa8f4" opacity="0.5"/>
<rect x="151.64" y="34.96" width="0.9" height="0.9" fill="#b0a8ee" opacity="0.5"/>
<rect x="151.68" y="42.85" width="0.9" height="0.9" fill="#b0a8ee" opacity="0.5"/>
<rect x="153.05" y="33.30" width="0.9" height="0.9" fill="#5a76ee" opacity="0.5"/>
<rect x="143.53" y="34.35" width="0.9" height="0.9" fill="#b0a8ee" opacity="0.5"/>
<rect x="138.69" y="40.69" width="0.9" height="0.9" fill="#5a76ee" opacity="0.5"/>
<rect x="138.08" y="42.54" width="0.9" height="0.9" fill="#b0a8ee" opacity="0.5"/>
<rect x="132.10" y="36.31" width="0.9" height="0.9" fill="#5a76ee" opacity="0.5"/>
<rect x="144.91" y="41.18" width="0.9" height="0.9" fill="#5a76ee" opacity="0.5"/>
<rect x="142.90" y="39.92" width="0.9" height="0.9" fill="#5a76ee" opacity="0.5"/>
<rect x="150.14" y="44.80" width="0.9" height="0.9" fill="#b0a8ee" opacity="0.5"/>
<rect x="153.62" y="39.31" width="0.9" height="0.9" fill="#b0a8ee" opacity="0.5"/>
<rect x="144.94" y="40.84" width="0.9" height="0.9" fill="#5a76ee" opacity="0.5"/>
<rect x="155.26" y="34.02" width="0.9" height="0.9" fill="#7f93f2" opacity="0.5"/>
<rect x="152.43" y="38.67" width="0.9" height="0.9" fill="#b0a8ee" opacity="0.5"/>
<rect x="152.84" y="39.27" width="0.9" height="0.9" fill="#5a76ee" opacity="0.5"/>
<rect x="143.62" y="37.72" width="0.9" height="0.9" fill="#b0a8ee" opacity="0.5"/>
<rect x="145.51" y="44.02" width="0.9" height="0.9" fill="#7f93f2" opacity="0.5"/>
<rect x="135.70" y="34.77" width="0.9" height="0.9" fill="#b0a8ee" opacity="0.5"/>
<rect x="133.38" y="40.82" width="0.9" height="0.9" fill="#7f93f2" opacity="0.5"/>
<rect x="145.54" y="49.53" width="0.9" height="0.9" fill="#9aa8f4" opacity="0.5"/>
<rect x="156.65" y="27.98" width="0.9" height="0.9" fill="#b0a8ee" opacity="0.5"/>
<rect x="144.96" y="38.22" width="0.9" height="0.9" fill="#5a76ee" opacity="0.5"/>
<rect x="143.87" y="40.03" width="0.9" height="0.9" fill="#b0a8ee" opacity="0.5"/>
<rect x="140.98" y="36.47" width="0.9" height="0.9" fill="#5a76ee" opacity="0.5"/>
<rect x="135.51" y="36.15" width="0.9" height="0.9" fill="#b0a8ee" opacity="0.5"/>
<rect x="136.33" y="35.22" width="0.9" height="0.9" fill="#9aa8f4" opacity="0.5"/>
<rect x="148.92" y="46.26" width="0.9" height="0.9" fill="#b0a8ee" opacity="0.5"/>
<rect x="144.28" y="49.06" width="0.9" height="0.9" fill="#b0a8ee" opacity="0.5"/>
<rect x="152.64" y="41.10" width="0.9" height="0.9" fill="#b0a8ee" opacity="0.5"/>
<rect x="131.29" y="38.20" width="0.9" height="0.9" fill="#5a76ee" opacity="0.5"/>
<rect x="132.26" y="39.45" width="0.9" height="0.9" fill="#7f93f2" opacity="0.5"/>
<rect x="140.89" y="41.73" width="0.9" height="0.9" fill="#5a76ee" opacity="0.5"/>
<rect x="147.64" y="34.52" width="0.9" height="0.9" fill="#b0a8ee" opacity="0.5"/>
<rect x="136.88" y="34.63" width="0.9" height="0.9" fill="#7f93f2" opacity="0.5"/>
<rect x="139.99" y="33.74" width="0.9" height="0.9" fill="#7f93f2" opacity="0.5"/>
<rect x="152.39" y="30.01" width="0.9" height="0.9" fill="#b0a8ee" opacity="0.5"/>
<rect x="145.31" y="34.14" width="0.9" height="0.9" fill="#b0a8ee" opacity="0.5"/>
<rect x="152.32" y="42.08" width="0.9" height="0.9" fill="#7f93f2" opacity="0.5"/>
<rect x="136.72" y="37.14" width="0.9" height="0.9" fill="#9aa8f4" opacity="0.5"/>
<rect x="143.84" y="34.48" width="0.9" height="0.9" fill="#9aa8f4" opacity="0.5"/>
<rect x="145.52" y="52.19" width="0.9" height="0.9" fill="#b0a8ee" opacity="0.5"/>
<rect x="139.55" y="43.52" width="0.9" height="0.9" fill="#9aa8f4" opacity="0.5"/>
<rect x="147.04" y="39.24" width="0.9" height="0.9" fill="#b0a8ee" opacity="0.5"/>
<rect x="153.87" y="36.07" width="0.9" height="0.9" fill="#9aa8f4" opacity="0.5"/>
<rect x="159.38" y="29.73" width="0.9" height="0.9" fill="#7f93f2" opacity="0.5"/>
<rect x="145.03" y="39.69" width="0.9" height="0.9" fill="#9aa8f4" opacity="0.5"/>
<rect x="137.72" y="33.69" width="0.9" height="0.9" fill="#5a76ee" opacity="0.5"/>
<rect x="148.83" y="48.02" width="0.9" height="0.9" fill="#b0a8ee" opacity="0.5"/>
<rect x="145.91" y="45.25" width="0.9" height="0.9" fill="#9aa8f4" opacity="0.5"/>
<rect x="152.74" y="40.65" width="0.9" height="0.9" fill="#5a76ee" opacity="0.5"/>
<rect x="142.44" y="41.41" width="0.9" height="0.9" fill="#9aa8f4" opacity="0.5"/>
<rect x="157.94" y="28.71" width="0.9" height="0.9" fill="#b0a8ee" opacity="0.5"/>
<rect x="145.83" y="44.78" width="0.9" height="0.9" fill="#5a76ee" opacity="0.5"/>
<rect x="143.08" y="32.31" width="0.9" height="0.9" fill="#b0a8ee" opacity="0.5"/>
<rect x="146.57" y="44.68" width="0.9" height="0.9" fill="#5a76ee" opacity="0.5"/>
<rect x="141.70" y="33.27" width="0.9" height="0.9" fill="#7f93f2" opacity="0.5"/>
<rect x="135.44" y="40.88" width="0.9" height="0.9" fill="#9aa8f4" opacity="0.5"/>
<rect x="161.08" y="27.35" width="0.9" height="0.9" fill="#7f93f2" opacity="0.5"/>
<rect x="145.50" y="44.92" width="0.9" height="0.9" fill="#5a76ee" opacity="0.5"/>
<rect x="143.61" y="35.65" width="0.9" height="0.9" fill="#b0a8ee" opacity="0.5"/>
<rect x="160.87" y="27.27" width="0.9" height="0.9" fill="#5a76ee" opacity="0.5"/>
<rect x="151.95" y="41.54" width="0.9" height="0.9" fill="#9aa8f4" opacity="0.5"/>
<rect x="143.27" y="35.96" width="0.9" height="0.9" fill="#7f93f2" opacity="0.5"/>
<rect x="140.89" y="41.29" width="0.9" height="0.9" fill="#9aa8f4" opacity="0.5"/>
<rect x="146.02" y="42.48" width="0.9" height="0.9" fill="#7f93f2" opacity="0.5"/>
<rect x="137.80" y="36.02" width="0.9" height="0.9" fill="#9aa8f4" opacity="0.5"/>
<rect x="158.20" y="29.78" width="0.9" height="0.9" fill="#5a76ee" opacity="0.5"/>
<rect x="152.65" y="41.50" width="0.9" height="0.9" fill="#7f93f2" opacity="0.5"/>
<rect x="146.51" y="33.11" width="0.9" height="0.9" fill="#9aa8f4" opacity="0.5"/>
<rect x="143.03" y="33.83" width="0.9" height="0.9" fill="#9aa8f4" opacity="0.5"/>
<rect x="145.31" y="50.35" width="0.9" height="0.9" fill="#b0a8ee" opacity="0.5"/>
<rect x="144.68" y="47.05" width="0.9" height="0.9" fill="#7f93f2" opacity="0.5"/>
<rect x="143.81" y="37.87" width="0.9" height="0.9" fill="#9aa8f4" opacity="0.5"/>
<rect x="141.89" y="34.49" width="0.9" height="0.9" fill="#5a76ee" opacity="0.5"/>
<rect x="151.87" y="31.10" width="0.9" height="0.9" fill="#b0a8ee" opacity="0.5"/>
<rect x="147.99" y="38.83" width="0.9" height="0.9" fill="#7f93f2" opacity="0.5"/>
<rect x="146.31" y="31.04" width="0.9" height="0.9" fill="#b0a8ee" opacity="0.5"/>
<rect x="145.61" y="45.79" width="0.9" height="0.9" fill="#5a76ee" opacity="0.5"/>
<rect x="153.26" y="30.77" width="0.9" height="0.9" fill="#5a76ee" opacity="0.5"/>
<rect x="149.81" y="41.20" width="0.9" height="0.9" fill="#7f93f2" opacity="0.5"/>
<rect x="154.76" y="36.92" width="0.9" height="0.9" fill="#9aa8f4" opacity="0.5"/>
<rect x="141.85" y="39.90" width="0.9" height="0.9" fill="#9aa8f4" opacity="0.5"/>
<rect x="143.74" y="49.30" width="0.9" height="0.9" fill="#5a76ee" opacity="0.5"/>
<rect x="141.18" y="42.58" width="0.9" height="0.9" fill="#5a76ee" opacity="0.5"/>
<rect x="145.21" y="48.84" width="0.9" height="0.9" fill="#5a76ee" opacity="0.5"/>
<rect x="143.73" y="49.86" width="0.9" height="0.9" fill="#b0a8ee" opacity="0.5"/>
<rect x="151.91" y="30.84" width="0.9" height="0.9" fill="#b0a8ee" opacity="0.5"/>
<rect x="148.85" y="44.02" width="0.9" height="0.9" fill="#5a76ee" opacity="0.5"/>
<rect x="140.99" y="32.68" width="0.9" height="0.9" fill="#5a76ee" opacity="0.5"/>
<rect x="137.57" y="37.93" width="0.9" height="0.9" fill="#5a76ee" opacity="0.5"/>
<rect x="155.33" y="31.94" width="0.9" height="0.9" fill="#5a76ee" opacity="0.5"/>
<rect x="140.87" y="37.81" width="0.9" height="0.9" fill="#5a76ee" opacity="0.5"/>
<rect x="148.58" y="39.16" width="0.9" height="0.9" fill="#9aa8f4" opacity="0.5"/>
<rect x="152.15" y="41.04" width="0.9" height="0.9" fill="#9aa8f4" opacity="0.5"/>
<rect x="129.24" y="36.09" width="0.9" height="0.9" fill="#b0a8ee" opacity="0.5"/>
<rect x="130.02" y="36.94" width="0.9" height="0.9" fill="#5a76ee" opacity="0.5"/>
<rect x="136.22" y="34.30" width="0.9" height="0.9" fill="#9aa8f4" opacity="0.5"/>
<rect x="139.23" y="41.35" width="0.9" height="0.9" fill="#b0a8ee" opacity="0.5"/>
<rect x="136.39" y="43.28" width="0.9" height="0.9" fill="#b0a8ee" opacity="0.5"/>
<rect x="146.28" y="39.00" width="0.9" height="0.9" fill="#5a76ee" opacity="0.5"/>
<rect x="139.48" y="42.65" width="0.9" height="0.9" fill="#7f93f2" opacity="0.5"/>
<rect x="136.64" y="41.94" width="0.9" height="0.9" fill="#7f93f2" opacity="0.5"/>
<rect x="149.64" y="37.10" width="0.9" height="0.9" fill="#7f93f2" opacity="0.5"/>
<rect x="140.54" y="46.25" width="0.9" height="0.9" fill="#7f93f2" opacity="0.5"/>
<rect x="150.59" y="35.82" width="0.9" height="0.9" fill="#7f93f2" opacity="0.5"/>
<rect x="141.68" y="33.72" width="0.9" height="0.9" fill="#b0a8ee" opacity="0.5"/>
<rect x="140.22" y="36.47" width="0.9" height="0.9" fill="#5a76ee" opacity="0.5"/>
<rect x="146.42" y="34.09" width="0.9" height="0.9" fill="#b0a8ee" opacity="0.5"/>
<rect x="140.19" y="44.11" width="0.9" height="0.9" fill="#9aa8f4" opacity="0.5"/>
<rect x="134.73" y="36.58" width="0.9" height="0.9" fill="#9aa8f4" opacity="0.5"/>
<rect x="144.85" y="46.64" width="0.9" height="0.9" fill="#5a76ee" opacity="0.5"/>
<rect x="138.05" y="37.45" width="0.9" height="0.9" fill="#b0a8ee" opacity="0.5"/>
<rect x="148.99" y="37.93" width="0.9" height="0.9" fill="#7f93f2" opacity="0.5"/>
<rect x="146.71" y="43.16" width="0.9" height="0.9" fill="#9aa8f4" opacity="0.5"/>
<rect x="149.82" y="35.97" width="0.9" height="0.9" fill="#9aa8f4" opacity="0.5"/>
<rect x="147.50" y="38.96" width="0.9" height="0.9" fill="#5a76ee" opacity="0.5"/>
<rect x="148.39" y="40.29" width="0.9" height="0.9" fill="#7f93f2" opacity="0.5"/>
<rect x="140.82" y="39.13" width="0.9" height="0.9" fill="#5a76ee" opacity="0.5"/>
<rect x="148.97" y="42.66" width="0.9" height="0.9" fill="#9aa8f4" opacity="0.5"/>
<rect x="144.13" y="45.12" width="0.9" height="0.9" fill="#b0a8ee" opacity="0.5"/>
<rect x="152.79" y="31.32" width="0.9" height="0.9" fill="#5a76ee" opacity="0.5"/>
<rect x="154.44" y="31.55" width="0.9" height="0.9" fill="#b0a8ee" opacity="0.5"/>
<rect x="145.28" y="44.77" width="0.9" height="0.9" fill="#7f93f2" opacity="0.5"/>
<rect x="139.99" y="46.02" width="0.9" height="0.9" fill="#7f93f2" opacity="0.5"/>
<rect x="148.44" y="32.32" width="0.9" height="0.9" fill="#b0a8ee" opacity="0.5"/>
<rect x="138.07" y="38.24" width="0.9" height="0.9" fill="#9aa8f4" opacity="0.5"/>
<rect x="156.39" y="34.93" width="0.9" height="0.9" fill="#7f93f2" opacity="0.5"/>
<rect x="142.13" y="42.75" width="0.9" height="0.9" fill="#b0a8ee" opacity="0.5"/>
<rect x="149.69" y="40.01" width="0.9" height="0.9" fill="#7f93f2" opacity="0.5"/>
<rect x="141.16" y="36.97" width="0.9" height="0.9" fill="#b0a8ee" opacity="0.5"/>
<rect x="150.54" y="37.05" width="0.9" height="0.9" fill="#b0a8ee" opacity="0.5"/>
<rect x="143.71" y="32.59" width="0.9" height="0.9" fill="#5a76ee" opacity="0.5"/>
<rect x="149.58" y="33.04" width="0.9" height="0.9" fill="#b0a8ee" opacity="0.5"/>
<rect x="155.46" y="34.90" width="0.9" height="0.9" fill="#b0a8ee" opacity="0.5"/>
<rect x="145.82" y="49.94" width="0.9" height="0.9" fill="#9aa8f4" opacity="0.5"/>
<rect x="152.28" y="36.08" width="0.9" height="0.9" fill="#9aa8f4" opacity="0.5"/>
<rect x="137.72" y="43.84" width="0.9" height="0.9" fill="#5a76ee" opacity="0.5"/>
<rect x="153.06" y="33.60" width="0.9" height="0.9" fill="#9aa8f4" opacity="0.5"/>
<rect x="136.84" y="35.54" width="0.9" height="0.9" fill="#b0a8ee" opacity="0.5"/>
<rect x="154.76" y="30.98" width="0.9" height="0.9" fill="#b0a8ee" opacity="0.5"/>
<rect x="129.63" y="37.37" width="0.9" height="0.9" fill="#b0a8ee" opacity="0.5"/>
<rect x="153.30" y="36.09" width="0.9" height="0.9" fill="#b0a8ee" opacity="0.5"/>
<rect x="135.19" y="35.98" width="0.9" height="0.9" fill="#b0a8ee" opacity="0.5"/>
<rect x="154.15" y="30.36" width="0.9" height="0.9" fill="#b0a8ee" opacity="0.5"/>
<rect x="136.97" y="41.62" width="0.9" height="0.9" fill="#5a76ee" opacity="0.5"/>
<rect x="149.10" y="36.73" width="0.9" height="0.9" fill="#7f93f2" opacity="0.5"/>
<rect x="140.81" y="37.61" width="0.9" height="0.9" fill="#9aa8f4" opacity="0.5"/>
<rect x="153.81" y="35.09" width="0.9" height="0.9" fill="#7f93f2" opacity="0.5"/>
<rect x="156.25" y="28.80" width="0.9" height="0.9" fill="#7f93f2" opacity="0.5"/>
<rect x="139.06" y="36.39" width="0.9" height="0.9" fill="#b0a8ee" opacity="0.5"/>
<rect x="151.43" y="32.20" width="0.9" height="0.9" fill="#5a76ee" opacity="0.5"/>
<rect x="147.31" y="37.33" width="0.9" height="0.9" fill="#b0a8ee" opacity="0.5"/>
<rect x="145.28" y="44.51" width="0.9" height="0.9" fill="#b0a8ee" opacity="0.5"/>
<rect x="129.69" y="36.11" width="0.9" height="0.9" fill="#9aa8f4" opacity="0.5"/>
<rect x="148.31" y="35.64" width="0.9" height="0.9" fill="#9aa8f4" opacity="0.5"/>
<rect x="140.38" y="41.51" width="0.9" height="0.9" fill="#b0a8ee" opacity="0.5"/>
<rect x="144.30" y="45.74" width="0.9" height="0.9" fill="#5a76ee" opacity="0.5"/>
<rect x="149.10" y="33.10" width="0.9" height="0.9" fill="#9aa8f4" opacity="0.5"/>
<rect x="135.38" y="34.36" width="0.9" height="0.9" fill="#5a76ee" opacity="0.5"/>
<rect x="137.21" y="37.28" width="0.9" height="0.9" fill="#b0a8ee" opacity="0.5"/>
<rect x="144.82" y="35.77" width="0.9" height="0.9" fill="#5a76ee" opacity="0.5"/>
<rect x="149.97" y="42.53" width="0.9" height="0.9" fill="#9aa8f4" opacity="0.5"/>
<rect x="142.04" y="42.66" width="0.9" height="0.9" fill="#7f93f2" opacity="0.5"/>
<rect x="140.20" y="32.74" width="0.9" height="0.9" fill="#b0a8ee" opacity="0.5"/>
<rect x="148.07" y="41.13" width="0.9" height="0.9" fill="#7f93f2" opacity="0.5"/>
<rect x="137.87" y="36.03" width="0.9" height="0.9" fill="#9aa8f4" opacity="0.5"/>
<rect x="142.56" y="47.53" width="0.9" height="0.9" fill="#7f93f2" opacity="0.5"/>
<rect x="148.62" y="32.81" width="0.9" height="0.9" fill="#7f93f2" opacity="0.5"/>
<rect x="147.08" y="48.87" width="0.9" height="0.9" fill="#5a76ee" opacity="0.5"/>
<rect x="144.28" y="33.42" width="0.9" height="0.9" fill="#9aa8f4" opacity="0.5"/>
<rect x="148.48" y="32.80" width="0.9" height="0.9" fill="#5a76ee" opacity="0.5"/>
<rect x="137.39" y="41.77" width="0.9" height="0.9" fill="#7f93f2" opacity="0.5"/>
<rect x="130.93" y="35.61" width="0.9" height="0.9" fill="#b0a8ee" opacity="0.5"/>
<rect x="142.03" y="41.90" width="0.9" height="0.9" fill="#9aa8f4" opacity="0.5"/>
<rect x="144.41" y="33.55" width="0.9" height="0.9" fill="#9aa8f4" opacity="0.5"/>
<rect x="160.01" y="27.81" width="0.9" height="0.9" fill="#9aa8f4" opacity="0.5"/>
<rect x="139.12" y="36.22" width="0.9" height="0.9" fill="#b0a8ee" opacity="0.5"/>
<rect x="145.24" y="44.35" width="0.9" height="0.9" fill="#5a76ee" opacity="0.5"/>
<rect x="161.14" y="26.30" width="0.9" height="0.9" fill="#5a76ee" opacity="0.5"/>
<rect x="145.68" y="37.26" width="0.9" height="0.9" fill="#9aa8f4" opacity="0.5"/>
<rect x="156.97" y="34.05" width="0.9" height="0.9" fill="#9aa8f4" opacity="0.5"/>
<rect x="159.87" y="35.82" width="0.9" height="0.9" fill="#b0a8ee" opacity="0.5"/>
<rect x="162.67" y="49.32" width="0.9" height="0.9" fill="#9aa8f4" opacity="0.5"/>
<rect x="159.06" y="42.86" width="0.9" height="0.9" fill="#9aa8f4" opacity="0.5"/>
<rect x="162.02" y="27.52" width="0.9" height="0.9" fill="#9aa8f4" opacity="0.5"/>
<rect x="161.41" y="40.94" width="0.9" height="0.9" fill="#b0a8ee" opacity="0.5"/>
<rect x="157.16" y="39.22" width="0.9" height="0.9" fill="#5a76ee" opacity="0.5"/>
<rect x="163.27" y="36.68" width="0.9" height="0.9" fill="#b0a8ee" opacity="0.5"/>
<rect x="162.39" y="48.01" width="0.9" height="0.9" fill="#9aa8f4" opacity="0.5"/>
<rect x="165.38" y="51.31" width="0.9" height="0.9" fill="#b0a8ee" opacity="0.5"/>
<rect x="166.63" y="43.17" width="0.9" height="0.9" fill="#5a76ee" opacity="0.5"/>
<rect x="162.51" y="40.30" width="0.9" height="0.9" fill="#7f93f2" opacity="0.5"/>
<rect x="167.77" y="59.09" width="0.9" height="0.9" fill="#9aa8f4" opacity="0.5"/>
<rect x="159.87" y="52.14" width="0.9" height="0.9" fill="#9aa8f4" opacity="0.5"/>
<rect x="166.02" y="43.04" width="0.9" height="0.9" fill="#b0a8ee" opacity="0.5"/>
<rect x="164.65" y="43.05" width="0.9" height="0.9" fill="#5a76ee" opacity="0.5"/>
<rect x="167.45" y="42.81" width="0.9" height="0.9" fill="#9aa8f4" opacity="0.5"/>
<rect x="158.84" y="43.47" width="0.9" height="0.9" fill="#9aa8f4" opacity="0.5"/>
<rect x="157.28" y="46.45" width="0.9" height="0.9" fill="#5a76ee" opacity="0.5"/>
<rect x="161.93" y="45.51" width="0.9" height="0.9" fill="#b0a8ee" opacity="0.5"/>
<rect x="167.11" y="44.21" width="0.9" height="0.9" fill="#5a76ee" opacity="0.5"/>
<rect x="160.69" y="37.62" width="0.9" height="0.9" fill="#b0a8ee" opacity="0.5"/>
<rect x="152.59" y="40.11" width="0.9" height="0.9" fill="#9aa8f4" opacity="0.5"/>
<rect x="156.00" y="43.59" width="0.9" height="0.9" fill="#b0a8ee" opacity="0.5"/>
<rect x="159.36" y="48.40" width="0.9" height="0.9" fill="#9aa8f4" opacity="0.5"/>
<rect x="163.05" y="31.86" width="0.9" height="0.9" fill="#9aa8f4" opacity="0.5"/>
<rect x="159.59" y="38.63" width="0.9" height="0.9" fill="#5a76ee" opacity="0.5"/>
<rect x="165.92" y="44.34" width="0.9" height="0.9" fill="#5a76ee" opacity="0.5"/>
<rect x="161.47" y="35.70" width="0.9" height="0.9" fill="#b0a8ee" opacity="0.5"/>
<rect x="161.45" y="34.49" width="0.9" height="0.9" fill="#b0a8ee" opacity="0.5"/>
<rect x="166.35" y="45.39" width="0.9" height="0.9" fill="#b0a8ee" opacity="0.5"/>
<rect x="159.03" y="40.01" width="0.9" height="0.9" fill="#7f93f2" opacity="0.5"/>
<rect x="165.34" y="59.71" width="0.9" height="0.9" fill="#7f93f2" opacity="0.5"/>
<rect x="157.09" y="36.40" width="0.9" height="0.9" fill="#7f93f2" opacity="0.5"/>
<rect x="167.70" y="44.52" width="0.9" height="0.9" fill="#7f93f2" opacity="0.5"/>
<rect x="164.23" y="48.09" width="0.9" height="0.9" fill="#b0a8ee" opacity="0.5"/>
<rect x="159.24" y="45.75" width="0.9" height="0.9" fill="#7f93f2" opacity="0.5"/>
<rect x="162.66" y="37.52" width="0.9" height="0.9" fill="#9aa8f4" opacity="0.5"/>
<rect x="168.65" y="37.47" width="0.9" height="0.9" fill="#b0a8ee" opacity="0.5"/>
<rect x="154.70" y="42.47" width="0.9" height="0.9" fill="#7f93f2" opacity="0.5"/>
<rect x="154.38" y="37.28" width="0.9" height="0.9" fill="#9aa8f4" opacity="0.5"/>
<rect x="152.15" y="43.04" width="0.9" height="0.9" fill="#5a76ee" opacity="0.5"/>
<rect x="161.85" y="32.23" width="0.9" height="0.9" fill="#5a76ee" opacity="0.5"/>
<rect x="167.60" y="41.38" width="0.9" height="0.9" fill="#5a76ee" opacity="0.5"/>
<rect x="162.22" y="51.13" width="0.9" height="0.9" fill="#b0a8ee" opacity="0.5"/>
<rect x="163.82" y="47.55" width="0.9" height="0.9" fill="#7f93f2" opacity="0.5"/>
<rect x="161.37" y="37.70" width="0.9" height="0.9" fill="#9aa8f4" opacity="0.5"/>
<rect x="159.75" y="43.93" width="0.9" height="0.9" fill="#b0a8ee" opacity="0.5"/>
<rect x="159.81" y="44.18" width="0.9" height="0.9" fill="#b0a8ee" opacity="0.5"/>
<rect x="160.06" y="29.95" width="0.9" height="0.9" fill="#5a76ee" opacity="0.5"/>
<rect x="156.41" y="42.96" width="0.9" height="0.9" fill="#7f93f2" opacity="0.5"/>
<rect x="162.25" y="29.95" width="0.9" height="0.9" fill="#7f93f2" opacity="0.5"/>
<rect x="163.75" y="32.74" width="0.9" height="0.9" fill="#b0a8ee" opacity="0.5"/>
<rect x="161.64" y="31.27" width="0.9" height="0.9" fill="#b0a8ee" opacity="0.5"/>
<rect x="155.70" y="40.09" width="0.9" height="0.9" fill="#9aa8f4" opacity="0.5"/>
<rect x="164.19" y="51.37" width="0.9" height="0.9" fill="#9aa8f4" opacity="0.5"/>
<rect x="159.15" y="35.56" width="0.9" height="0.9" fill="#7f93f2" opacity="0.5"/>
<rect x="155.66" y="32.88" width="0.9" height="0.9" fill="#9aa8f4" opacity="0.5"/>
<rect x="163.40" y="32.10" width="0.9" height="0.9" fill="#9aa8f4" opacity="0.5"/>
<rect x="167.97" y="34.06" width="0.9" height="0.9" fill="#5a76ee" opacity="0.5"/>
<rect x="158.70" y="53.15" width="0.9" height="0.9" fill="#7f93f2" opacity="0.5"/>
<rect x="165.64" y="36.11" width="0.9" height="0.9" fill="#b0a8ee" opacity="0.5"/>
<rect x="164.04" y="39.93" width="0.9" height="0.9" fill="#9aa8f4" opacity="0.5"/>
<rect x="162.91" y="37.16" width="0.9" height="0.9" fill="#9aa8f4" opacity="0.5"/>
<rect x="158.59" y="46.31" width="0.9" height="0.9" fill="#5a76ee" opacity="0.5"/>
<rect x="158.22" y="45.45" width="0.9" height="0.9" fill="#9aa8f4" opacity="0.5"/>
<rect x="163.10" y="43.00" width="0.9" height="0.9" fill="#7f93f2" opacity="0.5"/>
<rect x="161.59" y="36.66" width="0.9" height="0.9" fill="#7f93f2" opacity="0.5"/>
<rect x="161.09" y="51.69" width="0.9" height="0.9" fill="#b0a8ee" opacity="0.5"/>
<rect x="162.24" y="33.71" width="0.9" height="0.9" fill="#5a76ee" opacity="0.5"/>
<rect x="163.43" y="36.25" width="0.9" height="0.9" fill="#b0a8ee" opacity="0.5"/>
<rect x="166.01" y="35.84" width="0.9" height="0.9" fill="#5a76ee" opacity="0.5"/>
<rect x="165.82" y="31.96" width="0.9" height="0.9" fill="#7f93f2" opacity="0.5"/>
<rect x="159.57" y="27.68" width="0.9" height="0.9" fill="#9aa8f4" opacity="0.5"/>
<rect x="162.15" y="34.64" width="0.9" height="0.9" fill="#9aa8f4" opacity="0.5"/>
<rect x="164.74" y="46.22" width="0.9" height="0.9" fill="#5a76ee" opacity="0.5"/>
<rect x="161.46" y="40.83" width="0.9" height="0.9" fill="#b0a8ee" opacity="0.5"/>
<rect x="159.02" y="37.96" width="0.9" height="0.9" fill="#b0a8ee" opacity="0.5"/>
<rect x="160.73" y="42.12" width="0.9" height="0.9" fill="#7f93f2" opacity="0.5"/>
<rect x="166.64" y="46.19" width="0.9" height="0.9" fill="#b0a8ee" opacity="0.5"/>
<rect x="161.80" y="45.49" width="0.9" height="0.9" fill="#9aa8f4" opacity="0.5"/>
<rect x="162.88" y="40.09" width="0.9" height="0.9" fill="#9aa8f4" opacity="0.5"/>
<rect x="160.10" y="30.17" width="0.9" height="0.9" fill="#7f93f2" opacity="0.5"/>
<rect x="166.26" y="35.98" width="0.9" height="0.9" fill="#9aa8f4" opacity="0.5"/>
<rect x="165.70" y="44.06" width="0.9" height="0.9" fill="#5a76ee" opacity="0.5"/>
<rect x="164.66" y="37.01" width="0.9" height="0.9" fill="#5a76ee" opacity="0.5"/>
<rect x="156.26" y="39.39" width="0.9" height="0.9" fill="#5a76ee" opacity="0.5"/>
<rect x="159.04" y="38.89" width="0.9" height="0.9" fill="#9aa8f4" opacity="0.5"/>
<rect x="158.68" y="37.77" width="0.9" height="0.9" fill="#7f93f2" opacity="0.5"/>
<rect x="161.37" y="43.90" width="0.9" height="0.9" fill="#9aa8f4" opacity="0.5"/>
<rect x="161.17" y="47.55" width="0.9" height="0.9" fill="#9aa8f4" opacity="0.5"/>
<rect x="163.71" y="41.39" width="0.9" height="0.9" fill="#5a76ee" opacity="0.5"/>
<rect x="161.99" y="48.07" width="0.9" height="0.9" fill="#5a76ee" opacity="0.5"/>
<rect x="158.47" y="43.23" width="0.9" height="0.9" fill="#b0a8ee" opacity="0.5"/>
<rect x="161.73" y="45.42" width="0.9" height="0.9" fill="#9aa8f4" opacity="0.5"/>
<rect x="159.99" y="40.40" width="0.9" height="0.9" fill="#b0a8ee" opacity="0.5"/>
<rect x="168.12" y="42.00" width="0.9" height="0.9" fill="#9aa8f4" opacity="0.5"/>
<rect x="162.34" y="35.62" width="0.9" height="0.9" fill="#7f93f2" opacity="0.5"/>
<rect x="163.61" y="39.16" width="0.9" height="0.9" fill="#7f93f2" opacity="0.5"/>
<rect x="166.47" y="36.02" width="0.9" height="0.9" fill="#9aa8f4" opacity="0.5"/>
<rect x="161.50" y="39.92" width="0.9" height="0.9" fill="#9aa8f4" opacity="0.5"/>
<rect x="162.21" y="37.80" width="0.9" height="0.9" fill="#7f93f2" opacity="0.5"/>
<rect x="157.61" y="39.92" width="0.9" height="0.9" fill="#9aa8f4" opacity="0.5"/>
<rect x="164.85" y="43.77" width="0.9" height="0.9" fill="#b0a8ee" opacity="0.5"/>
<rect x="167.36" y="36.44" width="0.9" height="0.9" fill="#5a76ee" opacity="0.5"/>
<rect x="158.53" y="58.45" width="0.9" height="0.9" fill="#7f93f2" opacity="0.5"/>
<rect x="166.76" y="45.88" width="0.9" height="0.9" fill="#9aa8f4" opacity="0.5"/>
<rect x="164.36" y="29.85" width="0.9" height="0.9" fill="#9aa8f4" opacity="0.5"/>
<rect x="158.49" y="33.25" width="0.9" height="0.9" fill="#b0a8ee" opacity="0.5"/>
<rect x="162.20" y="53.10" width="0.9" height="0.9" fill="#b0a8ee" opacity="0.5"/>
<rect x="160.06" y="34.05" width="0.9" height="0.9" fill="#9aa8f4" opacity="0.5"/>
<rect x="161.48" y="51.40" width="0.9" height="0.9" fill="#5a76ee" opacity="0.5"/>
<rect x="166.10" y="44.11" width="0.9" height="0.9" fill="#b0a8ee" opacity="0.5"/>
<rect x="160.25" y="36.81" width="0.9" height="0.9" fill="#9aa8f4" opacity="0.5"/>
<rect x="161.06" y="40.45" width="0.9" height="0.9" fill="#b0a8ee" opacity="0.5"/>
<rect x="159.93" y="48.26" width="0.9" height="0.9" fill="#9aa8f4" opacity="0.5"/>
<rect x="164.16" y="34.64" width="0.9" height="0.9" fill="#5a76ee" opacity="0.5"/>
<rect x="165.20" y="39.07" width="0.9" height="0.9" fill="#b0a8ee" opacity="0.5"/>
<rect x="165.75" y="36.37" width="0.9" height="0.9" fill="#9aa8f4" opacity="0.5"/>
<rect x="159.80" y="42.52" width="0.9" height="0.9" fill="#7f93f2" opacity="0.5"/>
<rect x="165.01" y="31.48" width="0.9" height="0.9" fill="#5a76ee" opacity="0.5"/>
<rect x="159.64" y="45.47" width="0.9" height="0.9" fill="#7f93f2" opacity="0.5"/>
<rect x="161.56" y="47.61" width="0.9" height="0.9" fill="#7f93f2" opacity="0.5"/>
<rect x="168.00" y="48.66" width="0.9" height="0.9" fill="#9aa8f4" opacity="0.5"/>
<rect x="159.98" y="43.34" width="0.9" height="0.9" fill="#9aa8f4" opacity="0.5"/>
<rect x="161.12" y="38.08" width="0.9" height="0.9" fill="#b0a8ee" opacity="0.5"/>
<rect x="162.30" y="41.33" width="0.9" height="0.9" fill="#9aa8f4" opacity="0.5"/>
<rect x="157.19" y="38.70" width="0.9" height="0.9" fill="#b0a8ee" opacity="0.5"/>
<rect x="160.75" y="45.31" width="0.9" height="0.9" fill="#5a76ee" opacity="0.5"/>
<rect x="165.94" y="36.60" width="0.9" height="0.9" fill="#5a76ee" opacity="0.5"/>
<rect x="161.32" y="38.06" width="0.9" height="0.9" fill="#5a76ee" opacity="0.5"/>
<rect x="169.88" y="42.60" width="0.9" height="0.9" fill="#9aa8f4" opacity="0.5"/>
<rect x="162.51" y="43.77" width="0.9" height="0.9" fill="#7f93f2" opacity="0.5"/>
<rect x="162.85" y="33.47" width="0.9" height="0.9" fill="#5a76ee" opacity="0.5"/>
<rect x="166.62" y="42.64" width="0.9" height="0.9" fill="#7f93f2" opacity="0.5"/>
<rect x="153.91" y="40.93" width="0.9" height="0.9" fill="#7f93f2" opacity="0.5"/>
<rect x="160.31" y="39.76" width="0.9" height="0.9" fill="#9aa8f4" opacity="0.5"/>
<rect x="157.48" y="33.49" width="0.9" height="0.9" fill="#b0a8ee" opacity="0.5"/>
<rect x="165.09" y="40.62" width="0.9" height="0.9" fill="#9aa8f4" opacity="0.5"/>
<rect x="161.05" y="40.80" width="0.9" height="0.9" fill="#b0a8ee" opacity="0.5"/>
<rect x="147.14" y="54.89" width="0.9" height="0.9" fill="#9aa8f4" opacity="0.5"/>
<rect x="145.22" y="57.73" width="0.9" height="0.9" fill="#5a76ee" opacity="0.5"/>
<rect x="137.99" y="51.45" width="0.9" height="0.9" fill="#b0a8ee" opacity="0.5"/>
<rect x="146.63" y="53.71" width="0.9" height="0.9" fill="#7f93f2" opacity="0.5"/>
<rect x="145.96" y="57.83" width="0.9" height="0.9" fill="#9aa8f4" opacity="0.5"/>
<rect x="145.24" y="57.59" width="0.9" height="0.9" fill="#5a76ee" opacity="0.5"/>
<rect x="147.86" y="49.61" width="0.9" height="0.9" fill="#9aa8f4" opacity="0.5"/>
<rect x="149.37" y="48.44" width="0.9" height="0.9" fill="#9aa8f4" opacity="0.5"/>
<rect x="141.25" y="51.08" width="0.9" height="0.9" fill="#b0a8ee" opacity="0.5"/>
<rect x="145.35" y="50.53" width="0.9" height="0.9" fill="#9aa8f4" opacity="0.5"/>
<rect x="146.24" y="53.91" width="0.9" height="0.9" fill="#9aa8f4" opacity="0.5"/>
<rect x="149.26" y="57.90" width="0.9" height="0.9" fill="#7f93f2" opacity="0.5"/>
<rect x="145.83" y="47.80" width="0.9" height="0.9" fill="#5a76ee" opacity="0.5"/>
<rect x="145.34" y="47.59" width="0.9" height="0.9" fill="#b0a8ee" opacity="0.5"/>
<rect x="145.02" y="52.60" width="0.9" height="0.9" fill="#7f93f2" opacity="0.5"/>
<rect x="150.22" y="55.97" width="0.9" height="0.9" fill="#7f93f2" opacity="0.5"/>
<rect x="147.11" y="45.80" width="0.9" height="0.9" fill="#5a76ee" opacity="0.5"/>
<rect x="143.39" y="48.73" width="0.9" height="0.9" fill="#9aa8f4" opacity="0.5"/>
<rect x="142.94" y="48.61" width="0.9" height="0.9" fill="#b0a8ee" opacity="0.5"/>
<rect x="143.20" y="56.31" width="0.9" height="0.9" fill="#b0a8ee" opacity="0.5"/>
<rect x="147.25" y="53.01" width="0.9" height="0.9" fill="#5a76ee" opacity="0.5"/>
<rect x="145.94" y="54.21" width="0.9" height="0.9" fill="#b0a8ee" opacity="0.5"/>
<rect x="148.04" y="57.13" width="0.9" height="0.9" fill="#9aa8f4" opacity="0.5"/>
<rect x="144.28" y="52.36" width="0.9" height="0.9" fill="#b0a8ee" opacity="0.5"/>
<rect x="143.43" y="52.69" width="0.9" height="0.9" fill="#9aa8f4" opacity="0.5"/>
<rect x="152.20" y="55.65" width="0.9" height="0.9" fill="#9aa8f4" opacity="0.5"/>
<rect x="144.12" y="52.42" width="0.9" height="0.9" fill="#9aa8f4" opacity="0.5"/>
<rect x="151.26" y="46.41" width="0.9" height="0.9" fill="#7f93f2" opacity="0.5"/>
<rect x="148.03" y="51.74" width="0.9" height="0.9" fill="#b0a8ee" opacity="0.5"/>
<rect x="146.72" y="47.31" width="0.9" height="0.9" fill="#5a76ee" opacity="0.5"/>
<rect x="147.73" y="59.02" width="0.9" height="0.9" fill="#5a76ee" opacity="0.5"/>
<rect x="142.75" y="54.86" width="0.9" height="0.9" fill="#7f93f2" opacity="0.5"/>
<rect x="146.17" y="46.37" width="0.9" height="0.9" fill="#5a76ee" opacity="0.5"/>
<rect x="144.02" y="48.94" width="0.9" height="0.9" fill="#7f93f2" opacity="0.5"/>
<rect x="144.87" y="58.73" width="0.9" height="0.9" fill="#7f93f2" opacity="0.5"/>
<rect x="146.09" y="49.93" width="0.9" height="0.9" fill="#b0a8ee" opacity="0.5"/>
<rect x="145.88" y="57.65" width="0.9" height="0.9" fill="#5a76ee" opacity="0.5"/>
<rect x="144.82" y="50.42" width="0.9" height="0.9" fill="#5a76ee" opacity="0.5"/>
<rect x="141.83" y="54.30" width="0.9" height="0.9" fill="#9aa8f4" opacity="0.5"/>
<rect x="145.29" y="49.90" width="0.9" height="0.9" fill="#b0a8ee" opacity="0.5"/>
<rect x="145.58" y="53.54" width="0.9" height="0.9" fill="#b0a8ee" opacity="0.5"/>
<rect x="148.42" y="45.76" width="0.9" height="0.9" fill="#7f93f2" opacity="0.5"/>
<rect x="145.80" y="57.41" width="0.9" height="0.9" fill="#5a76ee" opacity="0.5"/>
<rect x="146.71" y="55.56" width="0.9" height="0.9" fill="#7f93f2" opacity="0.5"/>
<rect x="147.69" y="46.24" width="0.9" height="0.9" fill="#5a76ee" opacity="0.5"/>
<rect x="142.02" y="50.33" width="0.9" height="0.9" fill="#7f93f2" opacity="0.5"/>
<rect x="147.96" y="50.26" width="0.9" height="0.9" fill="#7f93f2" opacity="0.5"/>
<rect x="143.53" y="47.96" width="0.9" height="0.9" fill="#5a76ee" opacity="0.5"/>
<rect x="146.71" y="50.80" width="0.9" height="0.9" fill="#b0a8ee" opacity="0.5"/>
<rect x="145.00" y="50.17" width="0.9" height="0.9" fill="#9aa8f4" opacity="0.5"/>
<rect x="141.64" y="56.11" width="0.9" height="0.9" fill="#5a76ee" opacity="0.5"/>
<rect x="140.97" y="59.27" width="0.9" height="0.9" fill="#5a76ee" opacity="0.5"/>
<rect x="144.64" y="55.73" width="0.9" height="0.9" fill="#9aa8f4" opacity="0.5"/>
<rect x="150.17" y="46.49" width="0.9" height="0.9" fill="#7f93f2" opacity="0.5"/>
<rect x="140.52" y="46.17" width="0.9" height="0.9" fill="#5a76ee" opacity="0.5"/>
<rect x="143.08" y="48.93" width="0.9" height="0.9" fill="#9aa8f4" opacity="0.5"/>
<rect x="141.91" y="53.37" width="0.9" height="0.9" fill="#7f93f2" opacity="0.5"/>
<rect x="144.80" y="58.11" width="0.9" height="0.9" fill="#7f93f2" opacity="0.5"/>
<rect x="142.67" y="53.38" width="0.9" height="0.9" fill="#b0a8ee" opacity="0.5"/>
<rect x="148.47" y="57.25" width="0.9" height="0.9" fill="#b0a8ee" opacity="0.5"/>
<rect x="140.79" y="57.61" width="0.9" height="0.9" fill="#5a76ee" opacity="0.5"/>
<rect x="149.62" y="55.87" width="0.9" height="0.9" fill="#5a76ee" opacity="0.5"/>
<rect x="149.22" y="49.86" width="0.9" height="0.9" fill="#5a76ee" opacity="0.5"/>
<rect x="143.57" y="59.18" width="0.9" height="0.9" fill="#9aa8f4" opacity="0.5"/>
<rect x="144.11" y="54.53" width="0.9" height="0.9" fill="#9aa8f4" opacity="0.5"/>
<rect x="147.72" y="52.76" width="0.9" height="0.9" fill="#5a76ee" opacity="0.5"/>
<rect x="148.55" y="58.81" width="0.9" height="0.9" fill="#5a76ee" opacity="0.5"/>
<rect x="145.59" y="52.06" width="0.9" height="0.9" fill="#9aa8f4" opacity="0.5"/>
<rect x="146.18" y="55.18" width="0.9" height="0.9" fill="#b0a8ee" opacity="0.5"/>
<rect x="149.08" y="49.96" width="0.9" height="0.9" fill="#b0a8ee" opacity="0.5"/>
<rect x="159.67" y="47.03" width="0.9" height="0.9" fill="#7f93f2" opacity="0.5"/>
<rect x="160.60" y="47.59" width="0.9" height="0.9" fill="#9aa8f4" opacity="0.5"/>
<rect x="159.11" y="48.81" width="0.9" height="0.9" fill="#b0a8ee" opacity="0.5"/>
<rect x="164.82" y="59.26" width="0.9" height="0.9" fill="#b0a8ee" opacity="0.5"/>
<rect x="161.24" y="49.18" width="0.9" height="0.9" fill="#5a76ee" opacity="0.5"/>
<rect x="162.99" y="58.72" width="0.9" height="0.9" fill="#7f93f2" opacity="0.5"/>
<rect x="164.21" y="47.51" width="0.9" height="0.9" fill="#9aa8f4" opacity="0.5"/>
<rect x="158.88" y="55.10" width="0.9" height="0.9" fill="#5a76ee" opacity="0.5"/>
<rect x="163.93" y="47.63" width="0.9" height="0.9" fill="#5a76ee" opacity="0.5"/>
<rect x="162.32" y="55.47" width="0.9" height="0.9" fill="#5a76ee" opacity="0.5"/>
<rect x="162.90" y="59.70" width="0.9" height="0.9" fill="#5a76ee" opacity="0.5"/>
<rect x="160.21" y="53.80" width="0.9" height="0.9" fill="#9aa8f4" opacity="0.5"/>
<rect x="163.06" y="57.10" width="0.9" height="0.9" fill="#b0a8ee" opacity="0.5"/>
<rect x="160.65" y="54.95" width="0.9" height="0.9" fill="#b0a8ee" opacity="0.5"/>
<rect x="165.95" y="56.68" width="0.9" height="0.9" fill="#7f93f2" opacity="0.5"/>
<rect x="164.13" y="51.66" width="0.9" height="0.9" fill="#5a76ee" opacity="0.5"/>
<rect x="161.95" y="54.59" width="0.9" height="0.9" fill="#b0a8ee" opacity="0.5"/>
<rect x="163.07" y="50.64" width="0.9" height="0.9" fill="#7f93f2" opacity="0.5"/>
<rect x="162.34" y="48.42" width="0.9" height="0.9" fill="#7f93f2" opacity="0.5"/>
<rect x="164.87" y="55.33" width="0.9" height="0.9" fill="#9aa8f4" opacity="0.5"/>
<rect x="161.08" y="52.37" width="0.9" height="0.9" fill="#b0a8ee" opacity="0.5"/>
<rect x="163.99" y="52.40" width="0.9" height="0.9" fill="#5a76ee" opacity="0.5"/>
<rect x="160.22" y="56.54" width="0.9" height="0.9" fill="#b0a8ee" opacity="0.5"/>
<rect x="162.84" y="58.39" width="0.9" height="0.9" fill="#5a76ee" opacity="0.5"/>
<rect x="158.24" y="57.28" width="0.9" height="0.9" fill="#b0a8ee" opacity="0.5"/>
<rect x="160.39" y="50.47" width="0.9" height="0.9" fill="#b0a8ee" opacity="0.5"/>
<rect x="164.35" y="55.01" width="0.9" height="0.9" fill="#5a76ee" opacity="0.5"/>
<rect x="159.58" y="53.94" width="0.9" height="0.9" fill="#7f93f2" opacity="0.5"/>
<rect x="164.31" y="55.98" width="0.9" height="0.9" fill="#b0a8ee" opacity="0.5"/>
<rect x="160.04" y="50.12" width="0.9" height="0.9" fill="#7f93f2" opacity="0.5"/>
<rect x="163.79" y="57.47" width="0.9" height="0.9" fill="#b0a8ee" opacity="0.5"/>
<rect x="164.78" y="48.63" width="0.9" height="0.9" fill="#7f93f2" opacity="0.5"/>
<rect x="161.73" y="48.20" width="0.9" height="0.9" fill="#9aa8f4" opacity="0.5"/>
<rect x="159.99" y="57.28" width="0.9" height="0.9" fill="#b0a8ee" opacity="0.5"/>
<rect x="164.58" y="55.27" width="0.9" height="0.9" fill="#9aa8f4" opacity="0.5"/>
<rect x="163.02" y="55.88" width="0.9" height="0.9" fill="#7f93f2" opacity="0.5"/>
<rect x="162.17" y="48.45" width="0.9" height="0.9" fill="#9aa8f4" opacity="0.5"/>
<rect x="160.87" y="50.73" width="0.9" height="0.9" fill="#9aa8f4" opacity="0.5"/>
<rect x="165.09" y="52.24" width="0.9" height="0.9" fill="#7f93f2" opacity="0.5"/>
<rect x="157.44" y="50.41" width="0.9" height="0.9" fill="#9aa8f4" opacity="0.5"/>
<rect x="159.98" y="47.01" width="0.9" height="0.9" fill="#5a76ee" opacity="0.5"/>
<rect x="160.23" y="54.66" width="0.9" height="0.9" fill="#7f93f2" opacity="0.5"/>
<rect x="165.52" y="56.17" width="0.9" height="0.9" fill="#7f93f2" opacity="0.5"/>
<rect x="160.38" y="47.68" width="0.9" height="0.9" fill="#b0a8ee" opacity="0.5"/>
<rect x="157.37" y="50.28" width="0.9" height="0.9" fill="#5a76ee" opacity="0.5"/>
<rect x="158.01" y="50.92" width="0.9" height="0.9" fill="#b0a8ee" opacity="0.5"/>
<rect x="162.05" y="51.23" width="0.9" height="0.9" fill="#7f93f2" opacity="0.5"/>
<rect x="165.56" y="57.78" width="0.9" height="0.9" fill="#b0a8ee" opacity="0.5"/>
<rect x="160.59" y="56.65" width="0.9" height="0.9" fill="#7f93f2" opacity="0.5"/>
<rect x="159.13" y="49.45" width="0.9" height="0.9" fill="#5a76ee" opacity="0.5"/>
<rect x="162.04" y="51.87" width="0.9" height="0.9" fill="#b0a8ee" opacity="0.5"/>
<rect x="164.78" y="52.47" width="0.9" height="0.9" fill="#7f93f2" opacity="0.5"/>
<rect x="164.34" y="57.78" width="0.9" height="0.9" fill="#b0a8ee" opacity="0.5"/>
<rect x="161.86" y="57.59" width="0.9" height="0.9" fill="#5a76ee" opacity="0.5"/>
<rect x="160.99" y="47.04" width="0.9" height="0.9" fill="#7f93f2" opacity="0.5"/>
<rect x="164.42" y="55.79" width="0.9" height="0.9" fill="#7f93f2" opacity="0.5"/>
<rect x="160.47" y="58.49" width="0.9" height="0.9" fill="#b0a8ee" opacity="0.5"/>
<rect x="162.20" y="52.58" width="0.9" height="0.9" fill="#b0a8ee" opacity="0.5"/>
<rect x="162.20" y="48.97" width="0.9" height="0.9" fill="#7f93f2" opacity="0.5"/>
<rect x="165.00" y="49.88" width="0.9" height="0.9" fill="#5a76ee" opacity="0.5"/>
<rect x="158.70" y="14.85" width="0.9" height="0.9" fill="#b0a8ee" opacity="0.5"/>
<rect x="157.84" y="27.47" width="0.9" height="0.9" fill="#7f93f2" opacity="0.5"/>
<rect x="162.09" y="24.93" width="0.9" height="0.9" fill="#7f93f2" opacity="0.5"/>
<rect x="157.61" y="24.96" width="0.9" height="0.9" fill="#5a76ee" opacity="0.5"/>
<rect x="162.37" y="28.46" width="0.9" height="0.9" fill="#b0a8ee" opacity="0.5"/>
<rect x="156.56" y="23.08" width="0.9" height="0.9" fill="#7f93f2" opacity="0.5"/>
<rect x="159.82" y="26.18" width="0.9" height="0.9" fill="#7f93f2" opacity="0.5"/>
<rect x="161.90" y="25.59" width="0.9" height="0.9" fill="#9aa8f4" opacity="0.5"/>
<rect x="162.16" y="22.66" width="0.9" height="0.9" fill="#5a76ee" opacity="0.5"/>
<rect x="156.97" y="13.91" width="0.9" height="0.9" fill="#7f93f2" opacity="0.5"/>
<rect x="158.72" y="15.44" width="0.9" height="0.9" fill="#9aa8f4" opacity="0.5"/>
<rect x="157.68" y="17.46" width="0.9" height="0.9" fill="#9aa8f4" opacity="0.5"/>
<rect x="159.99" y="32.63" width="0.9" height="0.9" fill="#5a76ee" opacity="0.5"/>
<rect x="161.91" y="14.22" width="0.9" height="0.9" fill="#7f93f2" opacity="0.5"/>
<rect x="159.54" y="13.96" width="0.9" height="0.9" fill="#5a76ee" opacity="0.5"/>
<rect x="155.38" y="22.33" width="0.9" height="0.9" fill="#7f93f2" opacity="0.5"/>
<rect x="153.36" y="31.97" width="0.9" height="0.9" fill="#7f93f2" opacity="0.5"/>
<rect x="164.72" y="24.42" width="0.9" height="0.9" fill="#7f93f2" opacity="0.5"/>
<rect x="161.54" y="14.89" width="0.9" height="0.9" fill="#9aa8f4" opacity="0.5"/>
<rect x="155.12" y="14.97" width="0.9" height="0.9" fill="#7f93f2" opacity="0.5"/>
<rect x="157.12" y="26.95" width="0.9" height="0.9" fill="#b0a8ee" opacity="0.5"/>
<rect x="156.16" y="31.01" width="0.9" height="0.9" fill="#b0a8ee" opacity="0.5"/>
<rect x="162.86" y="16.53" width="0.9" height="0.9" fill="#b0a8ee" opacity="0.5"/>
<rect x="163.76" y="23.55" width="0.9" height="0.9" fill="#9aa8f4" opacity="0.5"/>
<rect x="163.61" y="21.67" width="0.9" height="0.9" fill="#7f93f2" opacity="0.5"/>
<rect x="160.97" y="22.10" width="0.9" height="0.9" fill="#b0a8ee" opacity="0.5"/>
<rect x="158.96" y="21.68" width="0.9" height="0.9" fill="#9aa8f4" opacity="0.5"/>
<rect x="160.77" y="12.76" width="0.9" height="0.9" fill="#9aa8f4" opacity="0.5"/>
<rect x="165.46" y="14.85" width="0.9" height="0.9" fill="#5a76ee" opacity="0.5"/>
<rect x="161.62" y="24.95" width="0.9" height="0.9" fill="#5a76ee" opacity="0.5"/>
<rect x="158.67" y="18.70" width="0.9" height="0.9" fill="#7f93f2" opacity="0.5"/>
<rect x="163.36" y="30.01" width="0.9" height="0.9" fill="#5a76ee" opacity="0.5"/>
<rect x="157.98" y="14.07" width="0.9" height="0.9" fill="#5a76ee" opacity="0.5"/>
<rect x="166.87" y="25.41" width="0.9" height="0.9" fill="#7f93f2" opacity="0.5"/>
<rect x="164.44" y="13.63" width="0.9" height="0.9" fill="#b0a8ee" opacity="0.5"/>
<rect x="168.23" y="29.40" width="0.9" height="0.9" fill="#b0a8ee" opacity="0.5"/>
<rect x="161.89" y="14.03" width="0.9" height="0.9" fill="#9aa8f4" opacity="0.5"/>
<rect x="158.34" y="26.89" width="0.9" height="0.9" fill="#b0a8ee" opacity="0.5"/>
<rect x="160.67" y="26.33" width="0.9" height="0.9" fill="#5a76ee" opacity="0.5"/>
<rect x="155.95" y="29.18" width="0.9" height="0.9" fill="#5a76ee" opacity="0.5"/>
<rect x="157.85" y="30.82" width="0.9" height="0.9" fill="#9aa8f4" opacity="0.5"/>
<rect x="164.32" y="18.59" width="0.9" height="0.9" fill="#7f93f2" opacity="0.5"/>
<rect x="161.94" y="13.11" width="0.9" height="0.9" fill="#b0a8ee" opacity="0.5"/>
<rect x="164.24" y="29.58" width="0.9" height="0.9" fill="#5a76ee" opacity="0.5"/>
<rect x="161.74" y="17.99" width="0.9" height="0.9" fill="#7f93f2" opacity="0.5"/>
<rect x="132.14" y="51.80" width="0.9" height="0.9" fill="#5a76ee" opacity="0.5"/>
<rect x="131.31" y="51.05" width="0.9" height="0.9" fill="#9aa8f4" opacity="0.5"/>
<rect x="135.36" y="53.51" width="0.9" height="0.9" fill="#5a76ee" opacity="0.5"/>
<rect x="132.95" y="46.89" width="0.9" height="0.9" fill="#5a76ee" opacity="0.5"/>
<rect x="132.72" y="49.52" width="0.9" height="0.9" fill="#b0a8ee" opacity="0.5"/>
<rect x="133.66" y="35.82" width="0.9" height="0.9" fill="#b0a8ee" opacity="0.5"/>
<rect x="131.72" y="50.82" width="0.9" height="0.9" fill="#7f93f2" opacity="0.5"/>
<rect x="131.80" y="49.52" width="0.9" height="0.9" fill="#7f93f2" opacity="0.5"/>
<rect x="134.76" y="49.20" width="0.9" height="0.9" fill="#7f93f2" opacity="0.5"/>
<rect x="133.94" y="40.41" width="0.9" height="0.9" fill="#5a76ee" opacity="0.5"/>
<rect x="132.37" y="50.49" width="0.9" height="0.9" fill="#5a76ee" opacity="0.5"/>
<rect x="131.90" y="45.24" width="0.9" height="0.9" fill="#7f93f2" opacity="0.5"/>
<rect x="129.20" y="42.50" width="0.9" height="0.9" fill="#b0a8ee" opacity="0.5"/>
<rect x="132.35" y="36.91" width="0.9" height="0.9" fill="#9aa8f4" opacity="0.5"/>
<rect x="131.56" y="35.28" width="0.9" height="0.9" fill="#9aa8f4" opacity="0.5"/>
<rect x="135.63" y="36.55" width="0.9" height="0.9" fill="#5a76ee" opacity="0.5"/>
<rect x="133.88" y="39.09" width="0.9" height="0.9" fill="#7f93f2" opacity="0.5"/>
<rect x="135.72" y="50.97" width="0.9" height="0.9" fill="#5a76ee" opacity="0.5"/>
<rect x="132.57" y="38.61" width="0.9" height="0.9" fill="#7f93f2" opacity="0.5"/>
<rect x="129.52" y="42.28" width="0.9" height="0.9" fill="#5a76ee" opacity="0.5"/>
<rect x="131.20" y="38.02" width="0.9" height="0.9" fill="#5a76ee" opacity="0.5"/>
<rect x="135.33" y="46.08" width="0.9" height="0.9" fill="#b0a8ee" opacity="0.5"/>
<rect x="129.67" y="43.04" width="0.9" height="0.9" fill="#b0a8ee" opacity="0.5"/>
<rect x="131.14" y="49.60" width="0.9" height="0.9" fill="#b0a8ee" opacity="0.5"/>
<rect x="132.87" y="34.09" width="0.9" height="0.9" fill="#9aa8f4" opacity="0.5"/>
<rect x="132.57" y="43.36" width="0.9" height="0.9" fill="#9aa8f4" opacity="0.5"/>
<rect x="130.68" y="42.48" width="0.9" height="0.9" fill="#5a76ee" opacity="0.5"/>
<rect x="130.67" y="36.40" width="0.9" height="0.9" fill="#5a76ee" opacity="0.5"/>
<rect x="130.93" y="53.63" width="0.9" height="0.9" fill="#7f93f2" opacity="0.5"/>
<rect x="129.28" y="45.18" width="0.9" height="0.9" fill="#5a76ee" opacity="0.5"/>
<rect x="134.58" y="51.05" width="0.9" height="0.9" fill="#b0a8ee" opacity="0.5"/>
<rect x="132.08" y="47.99" width="0.9" height="0.9" fill="#9aa8f4" opacity="0.5"/>
<rect x="132.17" y="45.10" width="0.9" height="0.9" fill="#5a76ee" opacity="0.5"/>
<rect x="129.92" y="50.16" width="0.9" height="0.9" fill="#9aa8f4" opacity="0.5"/>
<rect x="134.47" y="39.10" width="0.9" height="0.9" fill="#b0a8ee" opacity="0.5"/>
<rect x="160.48" y="34.26" width="0.9" height="0.9" fill="#b0a8ee" opacity="0.5"/>
<rect x="169.95" y="31.98" width="0.9" height="0.9" fill="#b0a8ee" opacity="0.5"/>
<rect x="139.09" y="42.76" width="0.9" height="0.9" fill="#7f93f2" opacity="0.5"/>
<rect x="145.59" y="41.80" width="0.9" height="0.9" fill="#7f93f2" opacity="0.5"/>
<rect x="135.21" y="50.30" width="0.9" height="0.9" fill="#7f93f2" opacity="0.5"/>
<rect x="137.20" y="30.81" width="0.9" height="0.9" fill="#7f93f2" opacity="0.5"/>
<rect x="156.87" y="54.21" width="0.9" height="0.9" fill="#5a76ee" opacity="0.5"/>
<rect x="163.22" y="51.09" width="0.9" height="0.9" fill="#b0a8ee" opacity="0.5"/>
<rect x="142.38" y="39.39" width="0.9" height="0.9" fill="#9aa8f4" opacity="0.5"/>
<rect x="160.05" y="37.56" width="0.9" height="0.9" fill="#9aa8f4" opacity="0.5"/>
<rect x="147.93" y="52.46" width="0.9" height="0.9" fill="#5a76ee" opacity="0.5"/>
<rect x="133.25" y="48.43" width="0.9" height="0.9" fill="#5a76ee" opacity="0.5"/>
<rect x="144.20" y="36.20" width="0.9" height="0.9" fill="#b0a8ee" opacity="0.5"/>
<rect x="171.00" y="54.07" width="0.9" height="0.9" fill="#b0a8ee" opacity="0.5"/>
<rect x="132.27" y="30.68" width="0.9" height="0.9" fill="#b0a8ee" opacity="0.5"/>
<rect x="147.54" y="41.88" width="0.9" height="0.9" fill="#9aa8f4" opacity="0.5"/>
<rect x="149.96" y="48.38" width="0.9" height="0.9" fill="#7f93f2" opacity="0.5"/>
<rect x="148.23" y="35.12" width="0.9" height="0.9" fill="#5a76ee" opacity="0.5"/>
<rect x="179.59" y="59.62" width="0.9" height="0.9" fill="#5a76ee" opacity="0.5"/>
<rect x="171.22" y="54.78" width="0.9" height="0.9" fill="#9aa8f4" opacity="0.5"/>
<rect x="179.81" y="52.89" width="0.9" height="0.9" fill="#9aa8f4" opacity="0.5"/>
<rect x="158.18" y="29.35" width="0.9" height="0.9" fill="#b0a8ee" opacity="0.5"/>
<rect x="139.56" y="46.70" width="0.9" height="0.9" fill="#5a76ee" opacity="0.5"/>
<rect x="154.44" y="54.84" width="0.9" height="0.9" fill="#b0a8ee" opacity="0.5"/>
<rect x="129.52" y="41.23" width="0.9" height="0.9" fill="#b0a8ee" opacity="0.5"/>
<rect x="132.88" y="36.74" width="0.9" height="0.9" fill="#5a76ee" opacity="0.5"/>
<rect x="148.44" y="51.26" width="0.9" height="0.9" fill="#5a76ee" opacity="0.5"/>
<rect x="168.12" y="50.04" width="0.9" height="0.9" fill="#9aa8f4" opacity="0.5"/>
<rect x="151.52" y="44.45" width="0.9" height="0.9" fill="#b0a8ee" opacity="0.5"/>
<rect x="167.66" y="50.01" width="0.9" height="0.9" fill="#7f93f2" opacity="0.5"/>
<rect x="138.69" y="55.33" width="0.9" height="0.9" fill="#5a76ee" opacity="0.5"/>
<rect x="171.16" y="50.95" width="0.9" height="0.9" fill="#7f93f2" opacity="0.5"/>
<rect x="162.54" y="45.12" width="0.9" height="0.9" fill="#7f93f2" opacity="0.5"/>
<rect x="138.33" y="30.19" width="0.9" height="0.9" fill="#9aa8f4" opacity="0.5"/>
<rect x="133.43" y="29.04" width="0.9" height="0.9" fill="#7f93f2" opacity="0.5"/>
<rect x="140.51" y="59.58" width="0.9" height="0.9" fill="#b0a8ee" opacity="0.5"/>
<rect x="158.94" y="27.77" width="0.9" height="0.9" fill="#5a76ee" opacity="0.5"/>
<rect x="172.42" y="29.51" width="0.9" height="0.9" fill="#9aa8f4" opacity="0.5"/>
<rect x="150.27" y="46.01" width="0.9" height="0.9" fill="#5a76ee" opacity="0.5"/>
<rect x="143.10" y="55.41" width="0.9" height="0.9" fill="#b0a8ee" opacity="0.5"/>
<polygon points="131.28,37.59 159.71,28.93 146.41,51.38" fill="#95a6f2" filter="url(#b1)"/>
<ellipse cx="162.7" cy="42.2" rx="6.2" ry="8.6" fill="#95a6f2" filter="url(#b1)"/>
<ellipse cx="146.29999999999998" cy="52.2" rx="2.4" ry="5" fill="#aab6f4" filter="url(#b1)"/>
<ellipse cx="162.5" cy="52.2" rx="2.4" ry="5" fill="#aab6f4" filter="url(#b1)"/>
<polygon points="133.90,37.40 157.20,30.30 146.30,48.70" fill="#3a5cec" filter="url(#b08)"/>
<ellipse cx="162.7" cy="41.800000000000004" rx="5.2" ry="7.2" fill="#3a5cec" filter="url(#b08)"/>
<polygon points="136.91,37.47 155.09,31.93 146.59,46.28" fill="#18b6e2" filter="url(#b08)"/>
<ellipse cx="162.5" cy="40.6" rx="4.5" ry="5.4" fill="#18b6e2" filter="url(#b08)"/>
<polygon points="139.44,36.89 155.28,32.06 147.87,44.57" fill="#28cc60" filter="url(#b08)"/>
<ellipse cx="148.1" cy="37.800000000000004" rx="5" ry="3.8" fill="#28cc60" transform="rotate(-25 147.6 38.2)" filter="url(#b08)"/>
<ellipse cx="162.5" cy="39.2" rx="4.0" ry="3.1" fill="#2cd852" filter="url(#b08)"/>
<ellipse cx="147.6" cy="38.2" rx="3.1" ry="2.5" fill="#c8dc1e" transform="rotate(-20 147.6 38.2)" filter="url(#b05)"/>
<ellipse cx="147.6" cy="38.2" rx="2.1" ry="1.8" fill="#ec5a10" filter="url(#b05)"/>
<ellipse cx="147.6" cy="38.2" rx="1.1" ry="1.0" fill="#e03010" filter="url(#b03)"/>
</g>
<polyline points="157.6,8.5 157.6,25.5 181.3,25.5" fill="none" stroke="#c897bb" stroke-width="0.55"/>
<line x1="127.80000000000001" y1="8.5" x2="129.3" y2="8.5" stroke="#999" stroke-width="0.5"/>
<text x="127.50000000000001" y="9.5" font-size="2.7" text-anchor="end" font-weight="normal" fill="#666">10<tspan font-size="60%" dy="-1">5</tspan></text>
<line x1="129.3" y1="60.2" x2="129.3" y2="61.7" stroke="#999" stroke-width="0.5"/>
<text x="129.3" y="64.4" font-size="2.7" text-anchor="middle" font-weight="normal" fill="#666">10<tspan font-size="60%" dy="-1">1</tspan></text>
<line x1="127.80000000000001" y1="21.425" x2="129.3" y2="21.425" stroke="#999" stroke-width="0.5"/>
<text x="127.50000000000001" y="22.425" font-size="2.7" text-anchor="end" font-weight="normal" fill="#666">10<tspan font-size="60%" dy="-1">4</tspan></text>
<line x1="142.3" y1="60.2" x2="142.3" y2="61.7" stroke="#999" stroke-width="0.5"/>
<text x="142.3" y="64.4" font-size="2.7" text-anchor="middle" font-weight="normal" fill="#666">10<tspan font-size="60%" dy="-1">2</tspan></text>
<line x1="127.80000000000001" y1="34.35" x2="129.3" y2="34.35" stroke="#999" stroke-width="0.5"/>
<text x="127.50000000000001" y="35.35" font-size="2.7" text-anchor="end" font-weight="normal" fill="#666">10<tspan font-size="60%" dy="-1">3</tspan></text>
<line x1="155.3" y1="60.2" x2="155.3" y2="61.7" stroke="#999" stroke-width="0.5"/>
<text x="155.3" y="64.4" font-size="2.7" text-anchor="middle" font-weight="normal" fill="#666">10<tspan font-size="60%" dy="-1">3</tspan></text>
<line x1="127.80000000000001" y1="47.275000000000006" x2="129.3" y2="47.275000000000006" stroke="#999" stroke-width="0.5"/>
<text x="127.50000000000001" y="48.275000000000006" font-size="2.7" text-anchor="end" font-weight="normal" fill="#666">10<tspan font-size="60%" dy="-1">2</tspan></text>
<line x1="168.3" y1="60.2" x2="168.3" y2="61.7" stroke="#999" stroke-width="0.5"/>
<text x="168.3" y="64.4" font-size="2.7" text-anchor="middle" font-weight="normal" fill="#666">10<tspan font-size="60%" dy="-1">4</tspan></text>
<line x1="127.80000000000001" y1="60.2" x2="129.3" y2="60.2" stroke="#999" stroke-width="0.5"/>
<text x="127.50000000000001" y="61.2" font-size="2.7" text-anchor="end" font-weight="normal" fill="#666">10<tspan font-size="60%" dy="-1">1</tspan></text>
<line x1="181.3" y1="60.2" x2="181.3" y2="61.7" stroke="#999" stroke-width="0.5"/>
<text x="181.3" y="64.4" font-size="2.7" text-anchor="middle" font-weight="normal" fill="#666">10<tspan font-size="60%" dy="-1">5</tspan></text>
<rect x="131.4" y="71.2" width="49.900000000000006" height="49.89999999999999" fill="#fff" stroke="#a6a2b0" stroke-width="0.7"/>
<clipPath id="clip2"><rect x="131.8" y="71.60000000000001" width="49.10000000000001" height="49.099999999999994"/></clipPath>
<g clip-path="url(#clip2)">
<polygon points="127.62,101.88 160.77,91.68 145.62,117.63" fill="#dfe2f8" filter="url(#b3)"/>
<ellipse cx="146.2" cy="115.3" rx="4.5" ry="7" fill="#d6dbf6" filter="url(#b2)"/>
<ellipse cx="161.3" cy="105.5" rx="8" ry="13" fill="#dfe2f8" filter="url(#b3)"/>
<ellipse cx="162.3" cy="85.5" rx="5" ry="7" fill="#e3e5f8" filter="url(#b2)"/>
<ellipse cx="134.7" cy="106.3" rx="4" ry="7" fill="#e3e5f8" filter="url(#b2)"/>
<rect x="146.92" y="97.72" width="0.9" height="0.9" fill="#9aa8f4" opacity="0.5"/>
<rect x="141.86" y="109.92" width="0.9" height="0.9" fill="#5a76ee" opacity="0.5"/>
<rect x="140.88" y="101.69" width="0.9" height="0.9" fill="#9aa8f4" opacity="0.5"/>
<rect x="151.35" y="94.65" width="0.9" height="0.9" fill="#7f93f2" opacity="0.5"/>
<rect x="135.78" y="105.08" width="0.9" height="0.9" fill="#9aa8f4" opacity="0.5"/>
<rect x="156.54" y="95.98" width="0.9" height="0.9" fill="#5a76ee" opacity="0.5"/>
<rect x="149.83" y="99.38" width="0.9" height="0.9" fill="#9aa8f4" opacity="0.5"/>
<rect x="134.11" y="98.81" width="0.9" height="0.9" fill="#7f93f2" opacity="0.5"/>
<rect x="147.44" y="93.62" width="0.9" height="0.9" fill="#9aa8f4" opacity="0.5"/>
<rect x="144.37" y="111.25" width="0.9" height="0.9" fill="#b0a8ee" opacity="0.5"/>
<rect x="147.00" y="111.19" width="0.9" height="0.9" fill="#b0a8ee" opacity="0.5"/>
<rect x="145.35" y="103.31" width="0.9" height="0.9" fill="#9aa8f4" opacity="0.5"/>
<rect x="143.42" y="111.08" width="0.9" height="0.9" fill="#9aa8f4" opacity="0.5"/>
<rect x="145.02" y="96.75" width="0.9" height="0.9" fill="#b0a8ee" opacity="0.5"/>
<rect x="154.08" y="97.90" width="0.9" height="0.9" fill="#7f93f2" opacity="0.5"/>
<rect x="158.70" y="91.36" width="0.9" height="0.9" fill="#5a76ee" opacity="0.5"/>
<rect x="145.15" y="94.37" width="0.9" height="0.9" fill="#5a76ee" opacity="0.5"/>
<rect x="146.91" y="110.46" width="0.9" height="0.9" fill="#7f93f2" opacity="0.5"/>
<rect x="135.61" y="98.87" width="0.9" height="0.9" fill="#b0a8ee" opacity="0.5"/>
<rect x="135.28" y="104.99" width="0.9" height="0.9" fill="#9aa8f4" opacity="0.5"/>
<rect x="142.98" y="110.44" width="0.9" height="0.9" fill="#5a76ee" opacity="0.5"/>
<rect x="149.62" y="93.75" width="0.9" height="0.9" fill="#5a76ee" opacity="0.5"/>
<rect x="152.19" y="96.77" width="0.9" height="0.9" fill="#9aa8f4" opacity="0.5"/>
<rect x="145.71" y="109.78" width="0.9" height="0.9" fill="#5a76ee" opacity="0.5"/>
<rect x="143.18" y="95.77" width="0.9" height="0.9" fill="#7f93f2" opacity="0.5"/>
<rect x="151.38" y="99.78" width="0.9" height="0.9" fill="#b0a8ee" opacity="0.5"/>
<rect x="155.43" y="95.52" width="0.9" height="0.9" fill="#7f93f2" opacity="0.5"/>
<rect x="144.92" y="106.79" width="0.9" height="0.9" fill="#9aa8f4" opacity="0.5"/>
<rect x="150.25" y="101.91" width="0.9" height="0.9" fill="#5a76ee" opacity="0.5"/>
<rect x="143.84" y="108.24" width="0.9" height="0.9" fill="#7f93f2" opacity="0.5"/>
<rect x="142.76" y="109.04" width="0.9" height="0.9" fill="#9aa8f4" opacity="0.5"/>
<rect x="151.22" y="94.29" width="0.9" height="0.9" fill="#9aa8f4" opacity="0.5"/>
<rect x="151.51" y="97.94" width="0.9" height="0.9" fill="#5a76ee" opacity="0.5"/>
<rect x="141.65" y="110.87" width="0.9" height="0.9" fill="#9aa8f4" opacity="0.5"/>
<rect x="147.52" y="103.18" width="0.9" height="0.9" fill="#7f93f2" opacity="0.5"/>
<rect x="147.98" y="106.45" width="0.9" height="0.9" fill="#7f93f2" opacity="0.5"/>
<rect x="148.93" y="107.33" width="0.9" height="0.9" fill="#5a76ee" opacity="0.5"/>
<rect x="158.11" y="90.58" width="0.9" height="0.9" fill="#9aa8f4" opacity="0.5"/>
<rect x="157.76" y="90.84" width="0.9" height="0.9" fill="#7f93f2" opacity="0.5"/>
<rect x="147.66" y="99.98" width="0.9" height="0.9" fill="#7f93f2" opacity="0.5"/>
<rect x="152.03" y="97.69" width="0.9" height="0.9" fill="#b0a8ee" opacity="0.5"/>
<rect x="136.65" y="105.34" width="0.9" height="0.9" fill="#5a76ee" opacity="0.5"/>
<rect x="144.19" y="98.61" width="0.9" height="0.9" fill="#5a76ee" opacity="0.5"/>
<rect x="138.92" y="99.31" width="0.9" height="0.9" fill="#9aa8f4" opacity="0.5"/>
<rect x="135.47" y="101.64" width="0.9" height="0.9" fill="#b0a8ee" opacity="0.5"/>
<rect x="141.35" y="104.99" width="0.9" height="0.9" fill="#b0a8ee" opacity="0.5"/>
<rect x="135.87" y="98.79" width="0.9" height="0.9" fill="#b0a8ee" opacity="0.5"/>
<rect x="155.08" y="92.25" width="0.9" height="0.9" fill="#5a76ee" opacity="0.5"/>
<rect x="146.39" y="112.58" width="0.9" height="0.9" fill="#5a76ee" opacity="0.5"/>
<rect x="138.38" y="99.69" width="0.9" height="0.9" fill="#9aa8f4" opacity="0.5"/>
<rect x="149.59" y="105.20" width="0.9" height="0.9" fill="#7f93f2" opacity="0.5"/>
<rect x="132.12" y="100.05" width="0.9" height="0.9" fill="#7f93f2" opacity="0.5"/>
<rect x="152.84" y="96.90" width="0.9" height="0.9" fill="#5a76ee" opacity="0.5"/>
<rect x="149.91" y="98.28" width="0.9" height="0.9" fill="#b0a8ee" opacity="0.5"/>
<rect x="138.61" y="102.38" width="0.9" height="0.9" fill="#b0a8ee" opacity="0.5"/>
<rect x="145.98" y="104.60" width="0.9" height="0.9" fill="#7f93f2" opacity="0.5"/>
<rect x="149.29" y="103.03" width="0.9" height="0.9" fill="#5a76ee" opacity="0.5"/>
<rect x="150.95" y="102.47" width="0.9" height="0.9" fill="#5a76ee" opacity="0.5"/>
<rect x="146.59" y="94.52" width="0.9" height="0.9" fill="#5a76ee" opacity="0.5"/>
<rect x="156.31" y="95.57" width="0.9" height="0.9" fill="#5a76ee" opacity="0.5"/>
<rect x="141.72" y="99.23" width="0.9" height="0.9" fill="#9aa8f4" opacity="0.5"/>
<rect x="140.40" y="96.34" width="0.9" height="0.9" fill="#b0a8ee" opacity="0.5"/>
<rect x="143.94" y="103.55" width="0.9" height="0.9" fill="#9aa8f4" opacity="0.5"/>
<rect x="148.59" y="95.43" width="0.9" height="0.9" fill="#b0a8ee" opacity="0.5"/>
<rect x="148.84" y="105.06" width="0.9" height="0.9" fill="#b0a8ee" opacity="0.5"/>
<rect x="138.21" y="105.56" width="0.9" height="0.9" fill="#7f93f2" opacity="0.5"/>
<rect x="154.28" y="99.05" width="0.9" height="0.9" fill="#9aa8f4" opacity="0.5"/>
<rect x="132.56" y="103.21" width="0.9" height="0.9" fill="#5a76ee" opacity="0.5"/>
<rect x="144.14" y="101.92" width="0.9" height="0.9" fill="#5a76ee" opacity="0.5"/>
<rect x="149.70" y="102.80" width="0.9" height="0.9" fill="#b0a8ee" opacity="0.5"/>
<rect x="148.35" y="97.26" width="0.9" height="0.9" fill="#b0a8ee" opacity="0.5"/>
<rect x="146.98" y="99.82" width="0.9" height="0.9" fill="#7f93f2" opacity="0.5"/>
<rect x="145.35" y="105.56" width="0.9" height="0.9" fill="#5a76ee" opacity="0.5"/>
<rect x="151.29" y="102.78" width="0.9" height="0.9" fill="#7f93f2" opacity="0.5"/>
<rect x="152.23" y="102.92" width="0.9" height="0.9" fill="#b0a8ee" opacity="0.5"/>
<rect x="133.21" y="103.39" width="0.9" height="0.9" fill="#5a76ee" opacity="0.5"/>
<rect x="131.65" y="102.02" width="0.9" height="0.9" fill="#9aa8f4" opacity="0.5"/>
<rect x="149.62" y="98.02" width="0.9" height="0.9" fill="#9aa8f4" opacity="0.5"/>
<rect x="139.65" y="101.48" width="0.9" height="0.9" fill="#b0a8ee" opacity="0.5"/>
<rect x="148.92" y="99.32" width="0.9" height="0.9" fill="#5a76ee" opacity="0.5"/>
<rect x="137.33" y="106.41" width="0.9" height="0.9" fill="#7f93f2" opacity="0.5"/>
<rect x="137.99" y="104.47" width="0.9" height="0.9" fill="#5a76ee" opacity="0.5"/>
<rect x="144.14" y="113.15" width="0.9" height="0.9" fill="#7f93f2" opacity="0.5"/>
<rect x="133.99" y="101.07" width="0.9" height="0.9" fill="#9aa8f4" opacity="0.5"/>
<rect x="138.41" y="107.41" width="0.9" height="0.9" fill="#5a76ee" opacity="0.5"/>
<rect x="156.43" y="95.39" width="0.9" height="0.9" fill="#7f93f2" opacity="0.5"/>
<rect x="142.07" y="98.31" width="0.9" height="0.9" fill="#5a76ee" opacity="0.5"/>
<rect x="144.79" y="106.17" width="0.9" height="0.9" fill="#5a76ee" opacity="0.5"/>
<rect x="139.49" y="107.13" width="0.9" height="0.9" fill="#7f93f2" opacity="0.5"/>
<rect x="143.64" y="105.84" width="0.9" height="0.9" fill="#b0a8ee" opacity="0.5"/>
<rect x="142.91" y="102.13" width="0.9" height="0.9" fill="#5a76ee" opacity="0.5"/>
<rect x="146.00" y="97.74" width="0.9" height="0.9" fill="#7f93f2" opacity="0.5"/>
<rect x="139.37" y="108.30" width="0.9" height="0.9" fill="#b0a8ee" opacity="0.5"/>
<rect x="141.53" y="110.84" width="0.9" height="0.9" fill="#7f93f2" opacity="0.5"/>
<rect x="153.63" y="96.67" width="0.9" height="0.9" fill="#9aa8f4" opacity="0.5"/>
<rect x="155.43" y="91.82" width="0.9" height="0.9" fill="#5a76ee" opacity="0.5"/>
<rect x="149.30" y="107.73" width="0.9" height="0.9" fill="#9aa8f4" opacity="0.5"/>
<rect x="144.36" y="101.41" width="0.9" height="0.9" fill="#9aa8f4" opacity="0.5"/>
<rect x="149.72" y="97.89" width="0.9" height="0.9" fill="#9aa8f4" opacity="0.5"/>
<rect x="149.01" y="98.93" width="0.9" height="0.9" fill="#b0a8ee" opacity="0.5"/>
<rect x="136.58" y="102.07" width="0.9" height="0.9" fill="#b0a8ee" opacity="0.5"/>
<rect x="155.46" y="97.51" width="0.9" height="0.9" fill="#7f93f2" opacity="0.5"/>
<rect x="141.01" y="103.09" width="0.9" height="0.9" fill="#b0a8ee" opacity="0.5"/>
<rect x="153.70" y="91.98" width="0.9" height="0.9" fill="#5a76ee" opacity="0.5"/>
<rect x="156.10" y="94.04" width="0.9" height="0.9" fill="#9aa8f4" opacity="0.5"/>
<rect x="145.23" y="103.23" width="0.9" height="0.9" fill="#5a76ee" opacity="0.5"/>
<rect x="151.92" y="100.20" width="0.9" height="0.9" fill="#b0a8ee" opacity="0.5"/>
<rect x="147.68" y="98.45" width="0.9" height="0.9" fill="#7f93f2" opacity="0.5"/>
<rect x="142.91" y="106.49" width="0.9" height="0.9" fill="#5a76ee" opacity="0.5"/>
<rect x="142.81" y="106.02" width="0.9" height="0.9" fill="#5a76ee" opacity="0.5"/>
<rect x="153.54" y="95.76" width="0.9" height="0.9" fill="#b0a8ee" opacity="0.5"/>
<rect x="132.80" y="98.98" width="0.9" height="0.9" fill="#b0a8ee" opacity="0.5"/>
<rect x="153.90" y="99.48" width="0.9" height="0.9" fill="#b0a8ee" opacity="0.5"/>
<rect x="146.02" y="108.67" width="0.9" height="0.9" fill="#7f93f2" opacity="0.5"/>
<rect x="145.32" y="106.03" width="0.9" height="0.9" fill="#9aa8f4" opacity="0.5"/>
<rect x="154.18" y="96.49" width="0.9" height="0.9" fill="#5a76ee" opacity="0.5"/>
<rect x="139.73" y="100.09" width="0.9" height="0.9" fill="#b0a8ee" opacity="0.5"/>
<rect x="141.71" y="100.34" width="0.9" height="0.9" fill="#7f93f2" opacity="0.5"/>
<rect x="139.59" y="99.93" width="0.9" height="0.9" fill="#5a76ee" opacity="0.5"/>
<rect x="151.52" y="101.19" width="0.9" height="0.9" fill="#7f93f2" opacity="0.5"/>
<rect x="142.59" y="107.87" width="0.9" height="0.9" fill="#7f93f2" opacity="0.5"/>
<rect x="156.02" y="92.37" width="0.9" height="0.9" fill="#b0a8ee" opacity="0.5"/>
<rect x="136.48" y="103.95" width="0.9" height="0.9" fill="#7f93f2" opacity="0.5"/>
<rect x="147.62" y="107.50" width="0.9" height="0.9" fill="#7f93f2" opacity="0.5"/>
<rect x="133.85" y="103.04" width="0.9" height="0.9" fill="#b0a8ee" opacity="0.5"/>
<rect x="152.78" y="94.75" width="0.9" height="0.9" fill="#7f93f2" opacity="0.5"/>
<rect x="139.20" y="106.12" width="0.9" height="0.9" fill="#5a76ee" opacity="0.5"/>
<rect x="134.65" y="99.66" width="0.9" height="0.9" fill="#b0a8ee" opacity="0.5"/>
<rect x="136.02" y="99.41" width="0.9" height="0.9" fill="#7f93f2" opacity="0.5"/>
<rect x="143.26" y="99.53" width="0.9" height="0.9" fill="#b0a8ee" opacity="0.5"/>
<rect x="148.12" y="109.08" width="0.9" height="0.9" fill="#5a76ee" opacity="0.5"/>
<rect x="155.75" y="93.75" width="0.9" height="0.9" fill="#b0a8ee" opacity="0.5"/>
<rect x="143.20" y="106.49" width="0.9" height="0.9" fill="#9aa8f4" opacity="0.5"/>
<rect x="138.27" y="98.03" width="0.9" height="0.9" fill="#7f93f2" opacity="0.5"/>
<rect x="148.90" y="95.01" width="0.9" height="0.9" fill="#5a76ee" opacity="0.5"/>
<rect x="140.25" y="102.30" width="0.9" height="0.9" fill="#9aa8f4" opacity="0.5"/>
<rect x="139.26" y="107.81" width="0.9" height="0.9" fill="#b0a8ee" opacity="0.5"/>
<rect x="141.90" y="109.18" width="0.9" height="0.9" fill="#7f93f2" opacity="0.5"/>
<rect x="151.37" y="101.09" width="0.9" height="0.9" fill="#5a76ee" opacity="0.5"/>
<rect x="141.81" y="101.54" width="0.9" height="0.9" fill="#7f93f2" opacity="0.5"/>
<rect x="132.69" y="99.34" width="0.9" height="0.9" fill="#5a76ee" opacity="0.5"/>
<rect x="156.04" y="95.32" width="0.9" height="0.9" fill="#5a76ee" opacity="0.5"/>
<rect x="141.21" y="102.97" width="0.9" height="0.9" fill="#7f93f2" opacity="0.5"/>
<rect x="133.21" y="99.14" width="0.9" height="0.9" fill="#5a76ee" opacity="0.5"/>
<rect x="146.63" y="106.87" width="0.9" height="0.9" fill="#7f93f2" opacity="0.5"/>
<rect x="148.33" y="102.69" width="0.9" height="0.9" fill="#7f93f2" opacity="0.5"/>
<rect x="147.12" y="108.53" width="0.9" height="0.9" fill="#5a76ee" opacity="0.5"/>
<rect x="136.27" y="98.27" width="0.9" height="0.9" fill="#5a76ee" opacity="0.5"/>
<rect x="151.44" y="101.45" width="0.9" height="0.9" fill="#5a76ee" opacity="0.5"/>
<rect x="151.23" y="95.12" width="0.9" height="0.9" fill="#9aa8f4" opacity="0.5"/>
<rect x="136.17" y="101.83" width="0.9" height="0.9" fill="#5a76ee" opacity="0.5"/>
<rect x="142.52" y="103.37" width="0.9" height="0.9" fill="#7f93f2" opacity="0.5"/>
<rect x="147.28" y="96.68" width="0.9" height="0.9" fill="#5a76ee" opacity="0.5"/>
<rect x="154.60" y="96.31" width="0.9" height="0.9" fill="#5a76ee" opacity="0.5"/>
<rect x="131.02" y="100.08" width="0.9" height="0.9" fill="#9aa8f4" opacity="0.5"/>
<rect x="141.62" y="105.82" width="0.9" height="0.9" fill="#7f93f2" opacity="0.5"/>
<rect x="150.47" y="101.02" width="0.9" height="0.9" fill="#7f93f2" opacity="0.5"/>
<rect x="137.97" y="107.17" width="0.9" height="0.9" fill="#b0a8ee" opacity="0.5"/>
<rect x="143.73" y="111.52" width="0.9" height="0.9" fill="#7f93f2" opacity="0.5"/>
<rect x="137.42" y="106.38" width="0.9" height="0.9" fill="#7f93f2" opacity="0.5"/>
<rect x="139.07" y="101.44" width="0.9" height="0.9" fill="#7f93f2" opacity="0.5"/>
<rect x="131.55" y="101.03" width="0.9" height="0.9" fill="#b0a8ee" opacity="0.5"/>
<rect x="143.89" y="96.48" width="0.9" height="0.9" fill="#5a76ee" opacity="0.5"/>
<rect x="148.39" y="105.90" width="0.9" height="0.9" fill="#9aa8f4" opacity="0.5"/>
<rect x="141.98" y="101.67" width="0.9" height="0.9" fill="#7f93f2" opacity="0.5"/>
<rect x="144.94" y="99.77" width="0.9" height="0.9" fill="#7f93f2" opacity="0.5"/>
<rect x="146.11" y="98.59" width="0.9" height="0.9" fill="#b0a8ee" opacity="0.5"/>
<rect x="138.57" y="107.36" width="0.9" height="0.9" fill="#b0a8ee" opacity="0.5"/>
<rect x="144.57" y="96.15" width="0.9" height="0.9" fill="#b0a8ee" opacity="0.5"/>
<rect x="155.58" y="96.73" width="0.9" height="0.9" fill="#5a76ee" opacity="0.5"/>
<rect x="142.27" y="97.22" width="0.9" height="0.9" fill="#9aa8f4" opacity="0.5"/>
<rect x="133.84" y="102.56" width="0.9" height="0.9" fill="#b0a8ee" opacity="0.5"/>
<rect x="138.15" y="104.10" width="0.9" height="0.9" fill="#7f93f2" opacity="0.5"/>
<rect x="149.30" y="99.79" width="0.9" height="0.9" fill="#5a76ee" opacity="0.5"/>
<rect x="144.79" y="104.83" width="0.9" height="0.9" fill="#7f93f2" opacity="0.5"/>
<rect x="159.73" y="89.97" width="0.9" height="0.9" fill="#b0a8ee" opacity="0.5"/>
<rect x="156.10" y="93.26" width="0.9" height="0.9" fill="#5a76ee" opacity="0.5"/>
<rect x="147.44" y="96.65" width="0.9" height="0.9" fill="#b0a8ee" opacity="0.5"/>
<rect x="151.12" y="105.03" width="0.9" height="0.9" fill="#5a76ee" opacity="0.5"/>
<rect x="159.67" y="90.66" width="0.9" height="0.9" fill="#b0a8ee" opacity="0.5"/>
<rect x="142.69" y="97.30" width="0.9" height="0.9" fill="#b0a8ee" opacity="0.5"/>
<rect x="154.54" y="94.36" width="0.9" height="0.9" fill="#9aa8f4" opacity="0.5"/>
<rect x="157.30" y="94.49" width="0.9" height="0.9" fill="#5a76ee" opacity="0.5"/>
<rect x="145.15" y="112.51" width="0.9" height="0.9" fill="#9aa8f4" opacity="0.5"/>
<rect x="151.75" y="92.34" width="0.9" height="0.9" fill="#7f93f2" opacity="0.5"/>
<rect x="133.31" y="99.91" width="0.9" height="0.9" fill="#b0a8ee" opacity="0.5"/>
<rect x="148.87" y="99.50" width="0.9" height="0.9" fill="#9aa8f4" opacity="0.5"/>
<rect x="154.14" y="97.75" width="0.9" height="0.9" fill="#b0a8ee" opacity="0.5"/>
<rect x="139.12" y="96.49" width="0.9" height="0.9" fill="#b0a8ee" opacity="0.5"/>
<rect x="131.13" y="98.67" width="0.9" height="0.9" fill="#b0a8ee" opacity="0.5"/>
<rect x="147.65" y="96.07" width="0.9" height="0.9" fill="#5a76ee" opacity="0.5"/>
<rect x="151.06" y="99.13" width="0.9" height="0.9" fill="#9aa8f4" opacity="0.5"/>
<rect x="149.64" y="97.73" width="0.9" height="0.9" fill="#5a76ee" opacity="0.5"/>
<rect x="157.75" y="92.33" width="0.9" height="0.9" fill="#b0a8ee" opacity="0.5"/>
<rect x="154.12" y="97.64" width="0.9" height="0.9" fill="#b0a8ee" opacity="0.5"/>
<rect x="135.29" y="102.98" width="0.9" height="0.9" fill="#5a76ee" opacity="0.5"/>
<rect x="147.18" y="100.54" width="0.9" height="0.9" fill="#b0a8ee" opacity="0.5"/>
<rect x="153.89" y="93.06" width="0.9" height="0.9" fill="#7f93f2" opacity="0.5"/>
<rect x="139.24" y="96.91" width="0.9" height="0.9" fill="#5a76ee" opacity="0.5"/>
<rect x="156.60" y="92.26" width="0.9" height="0.9" fill="#9aa8f4" opacity="0.5"/>
<rect x="150.05" y="96.90" width="0.9" height="0.9" fill="#5a76ee" opacity="0.5"/>
<rect x="144.99" y="102.97" width="0.9" height="0.9" fill="#b0a8ee" opacity="0.5"/>
<rect x="145.15" y="111.06" width="0.9" height="0.9" fill="#7f93f2" opacity="0.5"/>
<rect x="141.43" y="96.60" width="0.9" height="0.9" fill="#7f93f2" opacity="0.5"/>
<rect x="151.93" y="100.72" width="0.9" height="0.9" fill="#5a76ee" opacity="0.5"/>
<rect x="148.65" y="108.37" width="0.9" height="0.9" fill="#7f93f2" opacity="0.5"/>
<rect x="144.60" y="104.78" width="0.9" height="0.9" fill="#9aa8f4" opacity="0.5"/>
<rect x="143.46" y="97.47" width="0.9" height="0.9" fill="#b0a8ee" opacity="0.5"/>
<rect x="139.04" y="98.93" width="0.9" height="0.9" fill="#b0a8ee" opacity="0.5"/>
<rect x="139.60" y="103.04" width="0.9" height="0.9" fill="#b0a8ee" opacity="0.5"/>
<rect x="148.84" y="97.47" width="0.9" height="0.9" fill="#b0a8ee" opacity="0.5"/>
<rect x="136.72" y="98.92" width="0.9" height="0.9" fill="#5a76ee" opacity="0.5"/>
<rect x="144.04" y="105.55" width="0.9" height="0.9" fill="#5a76ee" opacity="0.5"/>
<rect x="142.49" y="104.08" width="0.9" height="0.9" fill="#7f93f2" opacity="0.5"/>
<rect x="140.90" y="103.47" width="0.9" height="0.9" fill="#b0a8ee" opacity="0.5"/>
<rect x="136.73" y="99.39" width="0.9" height="0.9" fill="#5a76ee" opacity="0.5"/>
<rect x="149.01" y="107.76" width="0.9" height="0.9" fill="#5a76ee" opacity="0.5"/>
<rect x="144.38" y="107.16" width="0.9" height="0.9" fill="#9aa8f4" opacity="0.5"/>
<rect x="139.44" y="107.56" width="0.9" height="0.9" fill="#b0a8ee" opacity="0.5"/>
<rect x="158.89" y="90.38" width="0.9" height="0.9" fill="#b0a8ee" opacity="0.5"/>
<rect x="140.16" y="95.86" width="0.9" height="0.9" fill="#5a76ee" opacity="0.5"/>
<rect x="148.91" y="105.31" width="0.9" height="0.9" fill="#9aa8f4" opacity="0.5"/>
<rect x="140.10" y="102.72" width="0.9" height="0.9" fill="#7f93f2" opacity="0.5"/>
<rect x="147.45" y="109.76" width="0.9" height="0.9" fill="#5a76ee" opacity="0.5"/>
<rect x="147.42" y="100.59" width="0.9" height="0.9" fill="#b0a8ee" opacity="0.5"/>
<rect x="144.12" y="98.19" width="0.9" height="0.9" fill="#7f93f2" opacity="0.5"/>
<rect x="143.30" y="96.44" width="0.9" height="0.9" fill="#9aa8f4" opacity="0.5"/>
<rect x="132.20" y="98.77" width="0.9" height="0.9" fill="#7f93f2" opacity="0.5"/>
<rect x="141.47" y="105.86" width="0.9" height="0.9" fill="#b0a8ee" opacity="0.5"/>
<rect x="138.69" y="97.97" width="0.9" height="0.9" fill="#b0a8ee" opacity="0.5"/>
<rect x="153.98" y="98.62" width="0.9" height="0.9" fill="#7f93f2" opacity="0.5"/>
<rect x="145.89" y="99.82" width="0.9" height="0.9" fill="#7f93f2" opacity="0.5"/>
<rect x="147.13" y="108.35" width="0.9" height="0.9" fill="#9aa8f4" opacity="0.5"/>
<rect x="141.67" y="96.34" width="0.9" height="0.9" fill="#7f93f2" opacity="0.5"/>
<rect x="147.00" y="103.52" width="0.9" height="0.9" fill="#7f93f2" opacity="0.5"/>
<rect x="134.67" y="103.69" width="0.9" height="0.9" fill="#5a76ee" opacity="0.5"/>
<rect x="149.29" y="108.01" width="0.9" height="0.9" fill="#7f93f2" opacity="0.5"/>
<rect x="144.13" y="96.45" width="0.9" height="0.9" fill="#9aa8f4" opacity="0.5"/>
<rect x="140.28" y="106.04" width="0.9" height="0.9" fill="#b0a8ee" opacity="0.5"/>
<rect x="142.73" y="100.38" width="0.9" height="0.9" fill="#9aa8f4" opacity="0.5"/>
<rect x="155.90" y="96.29" width="0.9" height="0.9" fill="#9aa8f4" opacity="0.5"/>
<rect x="151.53" y="102.79" width="0.9" height="0.9" fill="#7f93f2" opacity="0.5"/>
<rect x="142.48" y="111.66" width="0.9" height="0.9" fill="#5a76ee" opacity="0.5"/>
<rect x="139.63" y="99.32" width="0.9" height="0.9" fill="#7f93f2" opacity="0.5"/>
<rect x="148.43" y="97.67" width="0.9" height="0.9" fill="#9aa8f4" opacity="0.5"/>
<rect x="131.25" y="100.91" width="0.9" height="0.9" fill="#9aa8f4" opacity="0.5"/>
<rect x="135.69" y="104.49" width="0.9" height="0.9" fill="#7f93f2" opacity="0.5"/>
<rect x="142.35" y="99.47" width="0.9" height="0.9" fill="#5a76ee" opacity="0.5"/>
<rect x="157.37" y="93.72" width="0.9" height="0.9" fill="#7f93f2" opacity="0.5"/>
<rect x="148.67" y="101.30" width="0.9" height="0.9" fill="#b0a8ee" opacity="0.5"/>
<rect x="144.61" y="113.46" width="0.9" height="0.9" fill="#9aa8f4" opacity="0.5"/>
<rect x="142.57" y="110.81" width="0.9" height="0.9" fill="#b0a8ee" opacity="0.5"/>
<rect x="149.58" y="105.05" width="0.9" height="0.9" fill="#9aa8f4" opacity="0.5"/>
<rect x="148.39" y="104.43" width="0.9" height="0.9" fill="#9aa8f4" opacity="0.5"/>
<rect x="144.39" y="97.76" width="0.9" height="0.9" fill="#5a76ee" opacity="0.5"/>
<rect x="131.60" y="100.29" width="0.9" height="0.9" fill="#9aa8f4" opacity="0.5"/>
<rect x="153.19" y="97.66" width="0.9" height="0.9" fill="#9aa8f4" opacity="0.5"/>
<rect x="157.75" y="99.97" width="0.9" height="0.9" fill="#9aa8f4" opacity="0.5"/>
<rect x="167.40" y="105.63" width="0.9" height="0.9" fill="#b0a8ee" opacity="0.5"/>
<rect x="162.10" y="108.45" width="0.9" height="0.9" fill="#9aa8f4" opacity="0.5"/>
<rect x="160.52" y="88.66" width="0.9" height="0.9" fill="#7f93f2" opacity="0.5"/>
<rect x="165.99" y="91.30" width="0.9" height="0.9" fill="#7f93f2" opacity="0.5"/>
<rect x="159.74" y="107.35" width="0.9" height="0.9" fill="#7f93f2" opacity="0.5"/>
<rect x="154.32" y="106.18" width="0.9" height="0.9" fill="#9aa8f4" opacity="0.5"/>
<rect x="157.87" y="95.71" width="0.9" height="0.9" fill="#5a76ee" opacity="0.5"/>
<rect x="160.17" y="98.69" width="0.9" height="0.9" fill="#b0a8ee" opacity="0.5"/>
<rect x="157.38" y="100.25" width="0.9" height="0.9" fill="#9aa8f4" opacity="0.5"/>
<rect x="163.12" y="99.23" width="0.9" height="0.9" fill="#5a76ee" opacity="0.5"/>
<rect x="155.95" y="100.52" width="0.9" height="0.9" fill="#9aa8f4" opacity="0.5"/>
<rect x="159.11" y="92.06" width="0.9" height="0.9" fill="#5a76ee" opacity="0.5"/>
<rect x="160.82" y="99.57" width="0.9" height="0.9" fill="#7f93f2" opacity="0.5"/>
<rect x="161.82" y="102.66" width="0.9" height="0.9" fill="#7f93f2" opacity="0.5"/>
<rect x="160.50" y="97.56" width="0.9" height="0.9" fill="#9aa8f4" opacity="0.5"/>
<rect x="163.61" y="106.69" width="0.9" height="0.9" fill="#5a76ee" opacity="0.5"/>
<rect x="162.72" y="105.99" width="0.9" height="0.9" fill="#5a76ee" opacity="0.5"/>
<rect x="167.29" y="100.59" width="0.9" height="0.9" fill="#b0a8ee" opacity="0.5"/>
<rect x="157.97" y="108.58" width="0.9" height="0.9" fill="#5a76ee" opacity="0.5"/>
<rect x="158.29" y="99.75" width="0.9" height="0.9" fill="#5a76ee" opacity="0.5"/>
<rect x="163.42" y="108.30" width="0.9" height="0.9" fill="#7f93f2" opacity="0.5"/>
<rect x="166.02" y="89.42" width="0.9" height="0.9" fill="#5a76ee" opacity="0.5"/>
<rect x="155.81" y="95.72" width="0.9" height="0.9" fill="#5a76ee" opacity="0.5"/>
<rect x="155.34" y="108.63" width="0.9" height="0.9" fill="#5a76ee" opacity="0.5"/>
<rect x="163.71" y="90.00" width="0.9" height="0.9" fill="#5a76ee" opacity="0.5"/>
<rect x="162.38" y="110.48" width="0.9" height="0.9" fill="#7f93f2" opacity="0.5"/>
<rect x="165.10" y="106.89" width="0.9" height="0.9" fill="#7f93f2" opacity="0.5"/>
<rect x="156.11" y="104.54" width="0.9" height="0.9" fill="#b0a8ee" opacity="0.5"/>
<rect x="157.62" y="101.86" width="0.9" height="0.9" fill="#7f93f2" opacity="0.5"/>
<rect x="162.86" y="107.48" width="0.9" height="0.9" fill="#5a76ee" opacity="0.5"/>
<rect x="161.40" y="97.92" width="0.9" height="0.9" fill="#5a76ee" opacity="0.5"/>
<rect x="167.57" y="100.38" width="0.9" height="0.9" fill="#b0a8ee" opacity="0.5"/>
<rect x="160.51" y="110.16" width="0.9" height="0.9" fill="#7f93f2" opacity="0.5"/>
<rect x="161.00" y="102.21" width="0.9" height="0.9" fill="#7f93f2" opacity="0.5"/>
<rect x="161.31" y="96.46" width="0.9" height="0.9" fill="#9aa8f4" opacity="0.5"/>
<rect x="160.63" y="102.28" width="0.9" height="0.9" fill="#b0a8ee" opacity="0.5"/>
<rect x="160.12" y="101.25" width="0.9" height="0.9" fill="#5a76ee" opacity="0.5"/>
<rect x="159.79" y="111.81" width="0.9" height="0.9" fill="#5a76ee" opacity="0.5"/>
<rect x="158.58" y="98.46" width="0.9" height="0.9" fill="#5a76ee" opacity="0.5"/>
<rect x="160.68" y="109.24" width="0.9" height="0.9" fill="#7f93f2" opacity="0.5"/>
<rect x="160.02" y="107.48" width="0.9" height="0.9" fill="#5a76ee" opacity="0.5"/>
<rect x="160.92" y="110.67" width="0.9" height="0.9" fill="#9aa8f4" opacity="0.5"/>
<rect x="160.94" y="90.97" width="0.9" height="0.9" fill="#b0a8ee" opacity="0.5"/>
<rect x="154.04" y="112.71" width="0.9" height="0.9" fill="#7f93f2" opacity="0.5"/>
<rect x="156.94" y="113.17" width="0.9" height="0.9" fill="#b0a8ee" opacity="0.5"/>
<rect x="163.21" y="93.05" width="0.9" height="0.9" fill="#7f93f2" opacity="0.5"/>
<rect x="164.99" y="98.31" width="0.9" height="0.9" fill="#5a76ee" opacity="0.5"/>
<rect x="162.96" y="99.52" width="0.9" height="0.9" fill="#7f93f2" opacity="0.5"/>
<rect x="156.18" y="102.71" width="0.9" height="0.9" fill="#7f93f2" opacity="0.5"/>
<rect x="159.61" y="102.58" width="0.9" height="0.9" fill="#7f93f2" opacity="0.5"/>
<rect x="160.62" y="112.23" width="0.9" height="0.9" fill="#5a76ee" opacity="0.5"/>
<rect x="157.09" y="110.54" width="0.9" height="0.9" fill="#b0a8ee" opacity="0.5"/>
<rect x="160.37" y="94.85" width="0.9" height="0.9" fill="#b0a8ee" opacity="0.5"/>
<rect x="163.48" y="108.28" width="0.9" height="0.9" fill="#9aa8f4" opacity="0.5"/>
<rect x="163.61" y="100.40" width="0.9" height="0.9" fill="#5a76ee" opacity="0.5"/>
<rect x="166.05" y="109.00" width="0.9" height="0.9" fill="#5a76ee" opacity="0.5"/>
<rect x="159.24" y="106.26" width="0.9" height="0.9" fill="#9aa8f4" opacity="0.5"/>
<rect x="152.89" y="101.87" width="0.9" height="0.9" fill="#7f93f2" opacity="0.5"/>
<rect x="158.55" y="101.35" width="0.9" height="0.9" fill="#b0a8ee" opacity="0.5"/>
<rect x="164.61" y="103.42" width="0.9" height="0.9" fill="#b0a8ee" opacity="0.5"/>
<rect x="160.07" y="119.70" width="0.9" height="0.9" fill="#5a76ee" opacity="0.5"/>
<rect x="168.21" y="91.08" width="0.9" height="0.9" fill="#5a76ee" opacity="0.5"/>
<rect x="163.35" y="100.32" width="0.9" height="0.9" fill="#9aa8f4" opacity="0.5"/>
<rect x="157.84" y="96.86" width="0.9" height="0.9" fill="#b0a8ee" opacity="0.5"/>
<rect x="156.45" y="101.41" width="0.9" height="0.9" fill="#9aa8f4" opacity="0.5"/>
<rect x="161.27" y="106.75" width="0.9" height="0.9" fill="#5a76ee" opacity="0.5"/>
<rect x="166.03" y="106.42" width="0.9" height="0.9" fill="#9aa8f4" opacity="0.5"/>
<rect x="164.44" y="114.31" width="0.9" height="0.9" fill="#5a76ee" opacity="0.5"/>
<rect x="159.02" y="98.58" width="0.9" height="0.9" fill="#5a76ee" opacity="0.5"/>
<rect x="162.10" y="101.30" width="0.9" height="0.9" fill="#9aa8f4" opacity="0.5"/>
<rect x="162.73" y="114.11" width="0.9" height="0.9" fill="#7f93f2" opacity="0.5"/>
<rect x="155.46" y="113.36" width="0.9" height="0.9" fill="#7f93f2" opacity="0.5"/>
<rect x="160.81" y="103.05" width="0.9" height="0.9" fill="#7f93f2" opacity="0.5"/>
<rect x="170.55" y="94.84" width="0.9" height="0.9" fill="#9aa8f4" opacity="0.5"/>
<rect x="155.40" y="106.10" width="0.9" height="0.9" fill="#5a76ee" opacity="0.5"/>
<rect x="160.17" y="100.31" width="0.9" height="0.9" fill="#5a76ee" opacity="0.5"/>
<rect x="161.00" y="95.49" width="0.9" height="0.9" fill="#9aa8f4" opacity="0.5"/>
<rect x="160.73" y="102.46" width="0.9" height="0.9" fill="#7f93f2" opacity="0.5"/>
<rect x="158.85" y="105.39" width="0.9" height="0.9" fill="#5a76ee" opacity="0.5"/>
<rect x="161.64" y="102.34" width="0.9" height="0.9" fill="#5a76ee" opacity="0.5"/>
<rect x="164.00" y="103.96" width="0.9" height="0.9" fill="#7f93f2" opacity="0.5"/>
<rect x="161.81" y="99.16" width="0.9" height="0.9" fill="#7f93f2" opacity="0.5"/>
<rect x="158.24" y="92.62" width="0.9" height="0.9" fill="#b0a8ee" opacity="0.5"/>
<rect x="157.91" y="99.42" width="0.9" height="0.9" fill="#9aa8f4" opacity="0.5"/>
<rect x="160.79" y="99.78" width="0.9" height="0.9" fill="#5a76ee" opacity="0.5"/>
<rect x="160.05" y="115.97" width="0.9" height="0.9" fill="#5a76ee" opacity="0.5"/>
<rect x="161.46" y="107.95" width="0.9" height="0.9" fill="#b0a8ee" opacity="0.5"/>
<rect x="163.76" y="109.12" width="0.9" height="0.9" fill="#7f93f2" opacity="0.5"/>
<rect x="162.66" y="101.46" width="0.9" height="0.9" fill="#9aa8f4" opacity="0.5"/>
<rect x="153.26" y="101.88" width="0.9" height="0.9" fill="#9aa8f4" opacity="0.5"/>
<rect x="164.39" y="106.94" width="0.9" height="0.9" fill="#9aa8f4" opacity="0.5"/>
<rect x="159.45" y="110.87" width="0.9" height="0.9" fill="#5a76ee" opacity="0.5"/>
<rect x="168.76" y="97.60" width="0.9" height="0.9" fill="#9aa8f4" opacity="0.5"/>
<rect x="159.66" y="106.85" width="0.9" height="0.9" fill="#9aa8f4" opacity="0.5"/>
<rect x="152.26" y="101.75" width="0.9" height="0.9" fill="#7f93f2" opacity="0.5"/>
<rect x="161.00" y="108.23" width="0.9" height="0.9" fill="#b0a8ee" opacity="0.5"/>
<rect x="154.40" y="113.04" width="0.9" height="0.9" fill="#9aa8f4" opacity="0.5"/>
<rect x="160.16" y="107.13" width="0.9" height="0.9" fill="#9aa8f4" opacity="0.5"/>
<rect x="157.18" y="107.77" width="0.9" height="0.9" fill="#9aa8f4" opacity="0.5"/>
<rect x="161.91" y="114.10" width="0.9" height="0.9" fill="#7f93f2" opacity="0.5"/>
<rect x="162.34" y="110.55" width="0.9" height="0.9" fill="#7f93f2" opacity="0.5"/>
<rect x="156.18" y="113.56" width="0.9" height="0.9" fill="#7f93f2" opacity="0.5"/>
<rect x="164.83" y="101.93" width="0.9" height="0.9" fill="#b0a8ee" opacity="0.5"/>
<rect x="157.89" y="106.96" width="0.9" height="0.9" fill="#5a76ee" opacity="0.5"/>
<rect x="159.36" y="100.28" width="0.9" height="0.9" fill="#9aa8f4" opacity="0.5"/>
<rect x="163.59" y="104.28" width="0.9" height="0.9" fill="#5a76ee" opacity="0.5"/>
<rect x="157.85" y="100.55" width="0.9" height="0.9" fill="#7f93f2" opacity="0.5"/>
<rect x="163.22" y="110.08" width="0.9" height="0.9" fill="#b0a8ee" opacity="0.5"/>
<rect x="169.22" y="99.28" width="0.9" height="0.9" fill="#9aa8f4" opacity="0.5"/>
<rect x="160.90" y="107.31" width="0.9" height="0.9" fill="#9aa8f4" opacity="0.5"/>
<rect x="157.93" y="91.30" width="0.9" height="0.9" fill="#b0a8ee" opacity="0.5"/>
<rect x="163.96" y="108.52" width="0.9" height="0.9" fill="#5a76ee" opacity="0.5"/>
<rect x="157.22" y="118.43" width="0.9" height="0.9" fill="#5a76ee" opacity="0.5"/>
<rect x="163.40" y="101.45" width="0.9" height="0.9" fill="#7f93f2" opacity="0.5"/>
<rect x="162.79" y="102.11" width="0.9" height="0.9" fill="#b0a8ee" opacity="0.5"/>
<rect x="160.82" y="118.39" width="0.9" height="0.9" fill="#5a76ee" opacity="0.5"/>
<rect x="155.83" y="116.43" width="0.9" height="0.9" fill="#9aa8f4" opacity="0.5"/>
<rect x="156.37" y="98.73" width="0.9" height="0.9" fill="#9aa8f4" opacity="0.5"/>
<rect x="165.97" y="97.94" width="0.9" height="0.9" fill="#5a76ee" opacity="0.5"/>
<rect x="159.16" y="109.12" width="0.9" height="0.9" fill="#5a76ee" opacity="0.5"/>
<rect x="159.28" y="106.92" width="0.9" height="0.9" fill="#7f93f2" opacity="0.5"/>
<rect x="158.39" y="112.16" width="0.9" height="0.9" fill="#5a76ee" opacity="0.5"/>
<rect x="159.74" y="103.97" width="0.9" height="0.9" fill="#b0a8ee" opacity="0.5"/>
<rect x="162.90" y="94.18" width="0.9" height="0.9" fill="#7f93f2" opacity="0.5"/>
<rect x="164.93" y="98.81" width="0.9" height="0.9" fill="#b0a8ee" opacity="0.5"/>
<rect x="157.35" y="112.80" width="0.9" height="0.9" fill="#b0a8ee" opacity="0.5"/>
<rect x="159.39" y="94.92" width="0.9" height="0.9" fill="#7f93f2" opacity="0.5"/>
<rect x="158.09" y="99.31" width="0.9" height="0.9" fill="#9aa8f4" opacity="0.5"/>
<rect x="160.68" y="104.71" width="0.9" height="0.9" fill="#7f93f2" opacity="0.5"/>
<rect x="156.91" y="106.14" width="0.9" height="0.9" fill="#5a76ee" opacity="0.5"/>
<rect x="164.69" y="116.46" width="0.9" height="0.9" fill="#9aa8f4" opacity="0.5"/>
<rect x="163.59" y="100.10" width="0.9" height="0.9" fill="#b0a8ee" opacity="0.5"/>
<rect x="161.83" y="105.01" width="0.9" height="0.9" fill="#7f93f2" opacity="0.5"/>
<rect x="156.71" y="94.98" width="0.9" height="0.9" fill="#7f93f2" opacity="0.5"/>
<rect x="155.15" y="107.94" width="0.9" height="0.9" fill="#5a76ee" opacity="0.5"/>
<rect x="160.89" y="108.85" width="0.9" height="0.9" fill="#5a76ee" opacity="0.5"/>
<rect x="160.96" y="104.40" width="0.9" height="0.9" fill="#7f93f2" opacity="0.5"/>
<rect x="168.36" y="103.66" width="0.9" height="0.9" fill="#5a76ee" opacity="0.5"/>
<rect x="161.83" y="105.26" width="0.9" height="0.9" fill="#9aa8f4" opacity="0.5"/>
<rect x="144.26" y="114.76" width="0.9" height="0.9" fill="#5a76ee" opacity="0.5"/>
<rect x="143.75" y="108.24" width="0.9" height="0.9" fill="#9aa8f4" opacity="0.5"/>
<rect x="148.74" y="120.06" width="0.9" height="0.9" fill="#7f93f2" opacity="0.5"/>
<rect x="146.91" y="110.08" width="0.9" height="0.9" fill="#b0a8ee" opacity="0.5"/>
<rect x="148.73" y="117.50" width="0.9" height="0.9" fill="#7f93f2" opacity="0.5"/>
<rect x="149.53" y="114.42" width="0.9" height="0.9" fill="#7f93f2" opacity="0.5"/>
<rect x="145.40" y="110.77" width="0.9" height="0.9" fill="#5a76ee" opacity="0.5"/>
<rect x="143.24" y="112.01" width="0.9" height="0.9" fill="#5a76ee" opacity="0.5"/>
<rect x="145.08" y="117.47" width="0.9" height="0.9" fill="#9aa8f4" opacity="0.5"/>
<rect x="149.34" y="118.20" width="0.9" height="0.9" fill="#5a76ee" opacity="0.5"/>
<rect x="144.80" y="116.94" width="0.9" height="0.9" fill="#b0a8ee" opacity="0.5"/>
<rect x="144.20" y="111.01" width="0.9" height="0.9" fill="#7f93f2" opacity="0.5"/>
<rect x="147.69" y="120.57" width="0.9" height="0.9" fill="#b0a8ee" opacity="0.5"/>
<rect x="147.97" y="113.04" width="0.9" height="0.9" fill="#5a76ee" opacity="0.5"/>
<rect x="143.65" y="115.99" width="0.9" height="0.9" fill="#5a76ee" opacity="0.5"/>
<rect x="141.36" y="110.04" width="0.9" height="0.9" fill="#9aa8f4" opacity="0.5"/>
<rect x="143.34" y="111.32" width="0.9" height="0.9" fill="#7f93f2" opacity="0.5"/>
<rect x="142.28" y="109.40" width="0.9" height="0.9" fill="#9aa8f4" opacity="0.5"/>
<rect x="149.79" y="119.58" width="0.9" height="0.9" fill="#7f93f2" opacity="0.5"/>
<rect x="147.28" y="108.09" width="0.9" height="0.9" fill="#5a76ee" opacity="0.5"/>
<rect x="141.55" y="118.79" width="0.9" height="0.9" fill="#5a76ee" opacity="0.5"/>
<rect x="148.41" y="117.68" width="0.9" height="0.9" fill="#7f93f2" opacity="0.5"/>
<rect x="147.17" y="108.57" width="0.9" height="0.9" fill="#b0a8ee" opacity="0.5"/>
<rect x="147.94" y="112.80" width="0.9" height="0.9" fill="#9aa8f4" opacity="0.5"/>
<rect x="145.67" y="120.30" width="0.9" height="0.9" fill="#5a76ee" opacity="0.5"/>
<rect x="143.57" y="111.19" width="0.9" height="0.9" fill="#b0a8ee" opacity="0.5"/>
<rect x="142.24" y="114.52" width="0.9" height="0.9" fill="#9aa8f4" opacity="0.5"/>
<rect x="145.92" y="116.98" width="0.9" height="0.9" fill="#b0a8ee" opacity="0.5"/>
<rect x="140.67" y="115.28" width="0.9" height="0.9" fill="#b0a8ee" opacity="0.5"/>
<rect x="145.48" y="120.10" width="0.9" height="0.9" fill="#7f93f2" opacity="0.5"/>
<rect x="148.89" y="119.91" width="0.9" height="0.9" fill="#7f93f2" opacity="0.5"/>
<rect x="140.79" y="116.21" width="0.9" height="0.9" fill="#5a76ee" opacity="0.5"/>
<rect x="144.19" y="110.98" width="0.9" height="0.9" fill="#9aa8f4" opacity="0.5"/>
<rect x="146.57" y="114.20" width="0.9" height="0.9" fill="#b0a8ee" opacity="0.5"/>
<rect x="145.94" y="108.52" width="0.9" height="0.9" fill="#b0a8ee" opacity="0.5"/>
<rect x="142.56" y="111.53" width="0.9" height="0.9" fill="#b0a8ee" opacity="0.5"/>
<rect x="144.07" y="119.22" width="0.9" height="0.9" fill="#9aa8f4" opacity="0.5"/>
<rect x="145.26" y="111.77" width="0.9" height="0.9" fill="#5a76ee" opacity="0.5"/>
<rect x="150.46" y="113.74" width="0.9" height="0.9" fill="#9aa8f4" opacity="0.5"/>
<rect x="149.79" y="110.52" width="0.9" height="0.9" fill="#9aa8f4" opacity="0.5"/>
<rect x="148.60" y="119.85" width="0.9" height="0.9" fill="#b0a8ee" opacity="0.5"/>
<rect x="147.63" y="111.88" width="0.9" height="0.9" fill="#b0a8ee" opacity="0.5"/>
<rect x="142.14" y="116.12" width="0.9" height="0.9" fill="#9aa8f4" opacity="0.5"/>
<rect x="149.99" y="117.77" width="0.9" height="0.9" fill="#9aa8f4" opacity="0.5"/>
<rect x="151.30" y="120.51" width="0.9" height="0.9" fill="#b0a8ee" opacity="0.5"/>
<rect x="145.83" y="112.77" width="0.9" height="0.9" fill="#9aa8f4" opacity="0.5"/>
<rect x="146.28" y="111.07" width="0.9" height="0.9" fill="#7f93f2" opacity="0.5"/>
<rect x="144.41" y="119.63" width="0.9" height="0.9" fill="#9aa8f4" opacity="0.5"/>
<rect x="146.23" y="111.92" width="0.9" height="0.9" fill="#7f93f2" opacity="0.5"/>
<rect x="148.44" y="109.74" width="0.9" height="0.9" fill="#7f93f2" opacity="0.5"/>
<rect x="146.71" y="120.03" width="0.9" height="0.9" fill="#b0a8ee" opacity="0.5"/>
<rect x="145.09" y="112.19" width="0.9" height="0.9" fill="#9aa8f4" opacity="0.5"/>
<rect x="144.41" y="111.60" width="0.9" height="0.9" fill="#5a76ee" opacity="0.5"/>
<rect x="143.58" y="115.51" width="0.9" height="0.9" fill="#b0a8ee" opacity="0.5"/>
<rect x="149.36" y="110.52" width="0.9" height="0.9" fill="#7f93f2" opacity="0.5"/>
<rect x="144.09" y="115.75" width="0.9" height="0.9" fill="#7f93f2" opacity="0.5"/>
<rect x="142.26" y="112.86" width="0.9" height="0.9" fill="#9aa8f4" opacity="0.5"/>
<rect x="138.59" y="119.45" width="0.9" height="0.9" fill="#9aa8f4" opacity="0.5"/>
<rect x="137.41" y="114.93" width="0.9" height="0.9" fill="#7f93f2" opacity="0.5"/>
<rect x="147.83" y="111.38" width="0.9" height="0.9" fill="#b0a8ee" opacity="0.5"/>
<rect x="144.42" y="109.72" width="0.9" height="0.9" fill="#9aa8f4" opacity="0.5"/>
<rect x="139.60" y="112.69" width="0.9" height="0.9" fill="#5a76ee" opacity="0.5"/>
<rect x="139.52" y="119.53" width="0.9" height="0.9" fill="#b0a8ee" opacity="0.5"/>
<rect x="146.68" y="111.03" width="0.9" height="0.9" fill="#5a76ee" opacity="0.5"/>
<rect x="143.26" y="115.15" width="0.9" height="0.9" fill="#9aa8f4" opacity="0.5"/>
<rect x="142.55" y="108.53" width="0.9" height="0.9" fill="#7f93f2" opacity="0.5"/>
<rect x="140.38" y="111.33" width="0.9" height="0.9" fill="#b0a8ee" opacity="0.5"/>
<rect x="148.71" y="119.89" width="0.9" height="0.9" fill="#9aa8f4" opacity="0.5"/>
<rect x="146.05" y="110.80" width="0.9" height="0.9" fill="#7f93f2" opacity="0.5"/>
<rect x="142.95" y="110.49" width="0.9" height="0.9" fill="#5a76ee" opacity="0.5"/>
<rect x="163.34" y="118.47" width="0.9" height="0.9" fill="#7f93f2" opacity="0.5"/>
<rect x="158.26" y="113.34" width="0.9" height="0.9" fill="#5a76ee" opacity="0.5"/>
<rect x="159.37" y="110.08" width="0.9" height="0.9" fill="#7f93f2" opacity="0.5"/>
<rect x="159.07" y="113.84" width="0.9" height="0.9" fill="#9aa8f4" opacity="0.5"/>
<rect x="161.71" y="112.45" width="0.9" height="0.9" fill="#5a76ee" opacity="0.5"/>
<rect x="163.67" y="110.23" width="0.9" height="0.9" fill="#7f93f2" opacity="0.5"/>
<rect x="158.95" y="119.11" width="0.9" height="0.9" fill="#5a76ee" opacity="0.5"/>
<rect x="166.02" y="118.98" width="0.9" height="0.9" fill="#9aa8f4" opacity="0.5"/>
<rect x="161.41" y="116.48" width="0.9" height="0.9" fill="#b0a8ee" opacity="0.5"/>
<rect x="163.68" y="110.21" width="0.9" height="0.9" fill="#5a76ee" opacity="0.5"/>
<rect x="157.43" y="120.09" width="0.9" height="0.9" fill="#9aa8f4" opacity="0.5"/>
<rect x="163.69" y="109.91" width="0.9" height="0.9" fill="#b0a8ee" opacity="0.5"/>
<rect x="157.81" y="113.54" width="0.9" height="0.9" fill="#b0a8ee" opacity="0.5"/>
<rect x="160.74" y="119.11" width="0.9" height="0.9" fill="#9aa8f4" opacity="0.5"/>
<rect x="165.64" y="118.55" width="0.9" height="0.9" fill="#9aa8f4" opacity="0.5"/>
<rect x="161.31" y="112.78" width="0.9" height="0.9" fill="#7f93f2" opacity="0.5"/>
<rect x="160.95" y="113.27" width="0.9" height="0.9" fill="#7f93f2" opacity="0.5"/>
<rect x="156.36" y="109.64" width="0.9" height="0.9" fill="#5a76ee" opacity="0.5"/>
<rect x="161.75" y="112.54" width="0.9" height="0.9" fill="#9aa8f4" opacity="0.5"/>
<rect x="166.97" y="117.90" width="0.9" height="0.9" fill="#b0a8ee" opacity="0.5"/>
<rect x="164.87" y="111.49" width="0.9" height="0.9" fill="#9aa8f4" opacity="0.5"/>
<rect x="163.21" y="116.41" width="0.9" height="0.9" fill="#7f93f2" opacity="0.5"/>
<rect x="159.81" y="116.88" width="0.9" height="0.9" fill="#b0a8ee" opacity="0.5"/>
<rect x="164.94" y="120.46" width="0.9" height="0.9" fill="#7f93f2" opacity="0.5"/>
<rect x="161.66" y="119.31" width="0.9" height="0.9" fill="#7f93f2" opacity="0.5"/>
<rect x="163.43" y="116.00" width="0.9" height="0.9" fill="#9aa8f4" opacity="0.5"/>
<rect x="161.82" y="115.53" width="0.9" height="0.9" fill="#b0a8ee" opacity="0.5"/>
<rect x="161.56" y="109.75" width="0.9" height="0.9" fill="#7f93f2" opacity="0.5"/>
<rect x="163.40" y="111.70" width="0.9" height="0.9" fill="#b0a8ee" opacity="0.5"/>
<rect x="162.14" y="114.03" width="0.9" height="0.9" fill="#9aa8f4" opacity="0.5"/>
<rect x="157.05" y="110.07" width="0.9" height="0.9" fill="#7f93f2" opacity="0.5"/>
<rect x="161.24" y="119.76" width="0.9" height="0.9" fill="#7f93f2" opacity="0.5"/>
<rect x="164.93" y="113.23" width="0.9" height="0.9" fill="#b0a8ee" opacity="0.5"/>
<rect x="163.09" y="113.90" width="0.9" height="0.9" fill="#9aa8f4" opacity="0.5"/>
<rect x="158.57" y="113.94" width="0.9" height="0.9" fill="#9aa8f4" opacity="0.5"/>
<rect x="159.57" y="120.30" width="0.9" height="0.9" fill="#b0a8ee" opacity="0.5"/>
<rect x="158.15" y="111.32" width="0.9" height="0.9" fill="#b0a8ee" opacity="0.5"/>
<rect x="158.96" y="119.94" width="0.9" height="0.9" fill="#b0a8ee" opacity="0.5"/>
<rect x="159.71" y="120.20" width="0.9" height="0.9" fill="#9aa8f4" opacity="0.5"/>
<rect x="158.94" y="111.39" width="0.9" height="0.9" fill="#7f93f2" opacity="0.5"/>
<rect x="166.84" y="118.23" width="0.9" height="0.9" fill="#5a76ee" opacity="0.5"/>
<rect x="158.77" y="111.67" width="0.9" height="0.9" fill="#b0a8ee" opacity="0.5"/>
<rect x="163.77" y="108.18" width="0.9" height="0.9" fill="#5a76ee" opacity="0.5"/>
<rect x="159.86" y="113.92" width="0.9" height="0.9" fill="#5a76ee" opacity="0.5"/>
<rect x="158.24" y="108.15" width="0.9" height="0.9" fill="#9aa8f4" opacity="0.5"/>
<rect x="160.23" y="110.06" width="0.9" height="0.9" fill="#9aa8f4" opacity="0.5"/>
<rect x="161.23" y="111.32" width="0.9" height="0.9" fill="#5a76ee" opacity="0.5"/>
<rect x="163.16" y="115.51" width="0.9" height="0.9" fill="#7f93f2" opacity="0.5"/>
<rect x="161.77" y="114.52" width="0.9" height="0.9" fill="#7f93f2" opacity="0.5"/>
<rect x="157.50" y="110.92" width="0.9" height="0.9" fill="#9aa8f4" opacity="0.5"/>
<rect x="158.79" y="113.10" width="0.9" height="0.9" fill="#7f93f2" opacity="0.5"/>
<rect x="161.78" y="111.63" width="0.9" height="0.9" fill="#5a76ee" opacity="0.5"/>
<rect x="164.05" y="113.24" width="0.9" height="0.9" fill="#5a76ee" opacity="0.5"/>
<rect x="160.33" y="119.61" width="0.9" height="0.9" fill="#5a76ee" opacity="0.5"/>
<rect x="156.59" y="118.25" width="0.9" height="0.9" fill="#7f93f2" opacity="0.5"/>
<rect x="157.98" y="120.18" width="0.9" height="0.9" fill="#9aa8f4" opacity="0.5"/>
<rect x="160.33" y="119.29" width="0.9" height="0.9" fill="#5a76ee" opacity="0.5"/>
<rect x="164.68" y="113.04" width="0.9" height="0.9" fill="#9aa8f4" opacity="0.5"/>
<rect x="161.61" y="109.07" width="0.9" height="0.9" fill="#b0a8ee" opacity="0.5"/>
<rect x="160.24" y="110.70" width="0.9" height="0.9" fill="#9aa8f4" opacity="0.5"/>
<rect x="159.17" y="79.29" width="0.9" height="0.9" fill="#b0a8ee" opacity="0.5"/>
<rect x="162.37" y="84.67" width="0.9" height="0.9" fill="#5a76ee" opacity="0.5"/>
<rect x="158.04" y="91.94" width="0.9" height="0.9" fill="#9aa8f4" opacity="0.5"/>
<rect x="158.87" y="93.83" width="0.9" height="0.9" fill="#9aa8f4" opacity="0.5"/>
<rect x="165.41" y="93.22" width="0.9" height="0.9" fill="#9aa8f4" opacity="0.5"/>
<rect x="159.50" y="88.96" width="0.9" height="0.9" fill="#b0a8ee" opacity="0.5"/>
<rect x="163.73" y="93.52" width="0.9" height="0.9" fill="#5a76ee" opacity="0.5"/>
<rect x="158.80" y="74.43" width="0.9" height="0.9" fill="#9aa8f4" opacity="0.5"/>
<rect x="159.26" y="76.44" width="0.9" height="0.9" fill="#b0a8ee" opacity="0.5"/>
<rect x="155.60" y="90.42" width="0.9" height="0.9" fill="#b0a8ee" opacity="0.5"/>
<rect x="155.54" y="93.87" width="0.9" height="0.9" fill="#b0a8ee" opacity="0.5"/>
<rect x="165.48" y="82.87" width="0.9" height="0.9" fill="#5a76ee" opacity="0.5"/>
<rect x="162.23" y="78.44" width="0.9" height="0.9" fill="#9aa8f4" opacity="0.5"/>
<rect x="160.20" y="91.39" width="0.9" height="0.9" fill="#7f93f2" opacity="0.5"/>
<rect x="160.61" y="82.33" width="0.9" height="0.9" fill="#7f93f2" opacity="0.5"/>
<rect x="157.65" y="82.53" width="0.9" height="0.9" fill="#b0a8ee" opacity="0.5"/>
<rect x="160.19" y="85.32" width="0.9" height="0.9" fill="#9aa8f4" opacity="0.5"/>
<rect x="159.48" y="87.71" width="0.9" height="0.9" fill="#9aa8f4" opacity="0.5"/>
<rect x="160.18" y="78.94" width="0.9" height="0.9" fill="#9aa8f4" opacity="0.5"/>
<rect x="159.20" y="78.80" width="0.9" height="0.9" fill="#9aa8f4" opacity="0.5"/>
<rect x="155.95" y="84.58" width="0.9" height="0.9" fill="#9aa8f4" opacity="0.5"/>
<rect x="162.29" y="81.39" width="0.9" height="0.9" fill="#b0a8ee" opacity="0.5"/>
<rect x="155.00" y="93.27" width="0.9" height="0.9" fill="#5a76ee" opacity="0.5"/>
<rect x="163.24" y="89.10" width="0.9" height="0.9" fill="#9aa8f4" opacity="0.5"/>
<rect x="160.07" y="86.49" width="0.9" height="0.9" fill="#9aa8f4" opacity="0.5"/>
<rect x="161.40" y="74.37" width="0.9" height="0.9" fill="#9aa8f4" opacity="0.5"/>
<rect x="160.54" y="78.71" width="0.9" height="0.9" fill="#7f93f2" opacity="0.5"/>
<rect x="161.90" y="74.63" width="0.9" height="0.9" fill="#5a76ee" opacity="0.5"/>
<rect x="167.80" y="92.09" width="0.9" height="0.9" fill="#5a76ee" opacity="0.5"/>
<rect x="163.36" y="74.36" width="0.9" height="0.9" fill="#7f93f2" opacity="0.5"/>
<rect x="164.16" y="92.99" width="0.9" height="0.9" fill="#9aa8f4" opacity="0.5"/>
<rect x="156.01" y="89.96" width="0.9" height="0.9" fill="#b0a8ee" opacity="0.5"/>
<rect x="159.14" y="75.79" width="0.9" height="0.9" fill="#5a76ee" opacity="0.5"/>
<rect x="165.38" y="85.60" width="0.9" height="0.9" fill="#b0a8ee" opacity="0.5"/>
<rect x="160.82" y="77.41" width="0.9" height="0.9" fill="#7f93f2" opacity="0.5"/>
<rect x="159.23" y="92.73" width="0.9" height="0.9" fill="#5a76ee" opacity="0.5"/>
<rect x="158.37" y="81.69" width="0.9" height="0.9" fill="#9aa8f4" opacity="0.5"/>
<rect x="161.03" y="80.85" width="0.9" height="0.9" fill="#5a76ee" opacity="0.5"/>
<rect x="166.31" y="82.33" width="0.9" height="0.9" fill="#7f93f2" opacity="0.5"/>
<rect x="160.94" y="86.26" width="0.9" height="0.9" fill="#7f93f2" opacity="0.5"/>
<rect x="156.39" y="90.70" width="0.9" height="0.9" fill="#5a76ee" opacity="0.5"/>
<rect x="153.67" y="85.08" width="0.9" height="0.9" fill="#5a76ee" opacity="0.5"/>
<rect x="157.33" y="78.46" width="0.9" height="0.9" fill="#9aa8f4" opacity="0.5"/>
<rect x="163.58" y="77.29" width="0.9" height="0.9" fill="#5a76ee" opacity="0.5"/>
<rect x="158.41" y="91.83" width="0.9" height="0.9" fill="#9aa8f4" opacity="0.5"/>
<rect x="131.60" y="110.33" width="0.9" height="0.9" fill="#7f93f2" opacity="0.5"/>
<rect x="135.91" y="110.70" width="0.9" height="0.9" fill="#7f93f2" opacity="0.5"/>
<rect x="133.73" y="105.46" width="0.9" height="0.9" fill="#5a76ee" opacity="0.5"/>
<rect x="136.46" y="98.63" width="0.9" height="0.9" fill="#7f93f2" opacity="0.5"/>
<rect x="133.48" y="97.87" width="0.9" height="0.9" fill="#7f93f2" opacity="0.5"/>
<rect x="135.31" y="101.65" width="0.9" height="0.9" fill="#b0a8ee" opacity="0.5"/>
<rect x="136.24" y="96.54" width="0.9" height="0.9" fill="#b0a8ee" opacity="0.5"/>
<rect x="137.28" y="105.82" width="0.9" height="0.9" fill="#5a76ee" opacity="0.5"/>
<rect x="133.89" y="97.37" width="0.9" height="0.9" fill="#b0a8ee" opacity="0.5"/>
<rect x="133.02" y="109.54" width="0.9" height="0.9" fill="#7f93f2" opacity="0.5"/>
<rect x="133.78" y="99.31" width="0.9" height="0.9" fill="#5a76ee" opacity="0.5"/>
<rect x="131.72" y="107.13" width="0.9" height="0.9" fill="#7f93f2" opacity="0.5"/>
<rect x="131.06" y="107.12" width="0.9" height="0.9" fill="#9aa8f4" opacity="0.5"/>
<rect x="134.20" y="107.37" width="0.9" height="0.9" fill="#9aa8f4" opacity="0.5"/>
<rect x="131.70" y="112.51" width="0.9" height="0.9" fill="#5a76ee" opacity="0.5"/>
<rect x="132.00" y="110.15" width="0.9" height="0.9" fill="#5a76ee" opacity="0.5"/>
<rect x="135.86" y="113.03" width="0.9" height="0.9" fill="#5a76ee" opacity="0.5"/>
<rect x="135.15" y="108.39" width="0.9" height="0.9" fill="#5a76ee" opacity="0.5"/>
<rect x="135.29" y="102.67" width="0.9" height="0.9" fill="#b0a8ee" opacity="0.5"/>
<rect x="132.66" y="100.54" width="0.9" height="0.9" fill="#7f93f2" opacity="0.5"/>
<rect x="136.94" y="106.48" width="0.9" height="0.9" fill="#b0a8ee" opacity="0.5"/>
<rect x="134.24" y="115.25" width="0.9" height="0.9" fill="#b0a8ee" opacity="0.5"/>
<rect x="136.33" y="109.26" width="0.9" height="0.9" fill="#5a76ee" opacity="0.5"/>
<rect x="135.64" y="99.66" width="0.9" height="0.9" fill="#9aa8f4" opacity="0.5"/>
<rect x="134.86" y="99.93" width="0.9" height="0.9" fill="#7f93f2" opacity="0.5"/>
<rect x="136.43" y="107.20" width="0.9" height="0.9" fill="#5a76ee" opacity="0.5"/>
<rect x="132.62" y="103.61" width="0.9" height="0.9" fill="#9aa8f4" opacity="0.5"/>
<rect x="137.79" y="113.35" width="0.9" height="0.9" fill="#9aa8f4" opacity="0.5"/>
<rect x="134.43" y="101.30" width="0.9" height="0.9" fill="#7f93f2" opacity="0.5"/>
<rect x="132.52" y="106.40" width="0.9" height="0.9" fill="#9aa8f4" opacity="0.5"/>
<rect x="131.69" y="106.96" width="0.9" height="0.9" fill="#9aa8f4" opacity="0.5"/>
<rect x="134.52" y="105.11" width="0.9" height="0.9" fill="#b0a8ee" opacity="0.5"/>
<rect x="136.50" y="103.39" width="0.9" height="0.9" fill="#7f93f2" opacity="0.5"/>
<rect x="136.62" y="100.73" width="0.9" height="0.9" fill="#7f93f2" opacity="0.5"/>
<rect x="136.37" y="105.13" width="0.9" height="0.9" fill="#9aa8f4" opacity="0.5"/>
<rect x="152.50" y="101.54" width="0.9" height="0.9" fill="#5a76ee" opacity="0.5"/>
<rect x="140.28" y="100.44" width="0.9" height="0.9" fill="#7f93f2" opacity="0.5"/>
<rect x="131.91" y="102.11" width="0.9" height="0.9" fill="#7f93f2" opacity="0.5"/>
<rect x="160.07" y="95.10" width="0.9" height="0.9" fill="#9aa8f4" opacity="0.5"/>
<rect x="148.62" y="97.53" width="0.9" height="0.9" fill="#9aa8f4" opacity="0.5"/>
<rect x="137.88" y="120.56" width="0.9" height="0.9" fill="#9aa8f4" opacity="0.5"/>
<rect x="179.43" y="112.79" width="0.9" height="0.9" fill="#b0a8ee" opacity="0.5"/>
<rect x="146.34" y="119.61" width="0.9" height="0.9" fill="#5a76ee" opacity="0.5"/>
<rect x="141.37" y="101.49" width="0.9" height="0.9" fill="#b0a8ee" opacity="0.5"/>
<rect x="132.40" y="120.34" width="0.9" height="0.9" fill="#7f93f2" opacity="0.5"/>
<rect x="138.62" y="117.08" width="0.9" height="0.9" fill="#b0a8ee" opacity="0.5"/>
<rect x="171.10" y="113.26" width="0.9" height="0.9" fill="#7f93f2" opacity="0.5"/>
<rect x="175.49" y="119.31" width="0.9" height="0.9" fill="#7f93f2" opacity="0.5"/>
<rect x="156.17" y="111.28" width="0.9" height="0.9" fill="#7f93f2" opacity="0.5"/>
<rect x="155.37" y="100.72" width="0.9" height="0.9" fill="#9aa8f4" opacity="0.5"/>
<rect x="149.61" y="116.43" width="0.9" height="0.9" fill="#b0a8ee" opacity="0.5"/>
<rect x="173.24" y="99.18" width="0.9" height="0.9" fill="#9aa8f4" opacity="0.5"/>
<rect x="151.80" y="105.72" width="0.9" height="0.9" fill="#9aa8f4" opacity="0.5"/>
<rect x="150.75" y="95.30" width="0.9" height="0.9" fill="#7f93f2" opacity="0.5"/>
<rect x="159.56" y="90.18" width="0.9" height="0.9" fill="#5a76ee" opacity="0.5"/>
<rect x="180.72" y="98.53" width="0.9" height="0.9" fill="#5a76ee" opacity="0.5"/>
<rect x="164.21" y="104.82" width="0.9" height="0.9" fill="#5a76ee" opacity="0.5"/>
<rect x="167.22" y="115.80" width="0.9" height="0.9" fill="#5a76ee" opacity="0.5"/>
<rect x="135.07" y="94.21" width="0.9" height="0.9" fill="#5a76ee" opacity="0.5"/>
<rect x="178.11" y="117.32" width="0.9" height="0.9" fill="#b0a8ee" opacity="0.5"/>
<rect x="144.46" y="109.47" width="0.9" height="0.9" fill="#9aa8f4" opacity="0.5"/>
<rect x="140.12" y="103.42" width="0.9" height="0.9" fill="#5a76ee" opacity="0.5"/>
<rect x="156.04" y="112.31" width="0.9" height="0.9" fill="#b0a8ee" opacity="0.5"/>
<rect x="150.32" y="105.84" width="0.9" height="0.9" fill="#5a76ee" opacity="0.5"/>
<rect x="148.84" y="98.98" width="0.9" height="0.9" fill="#5a76ee" opacity="0.5"/>
<rect x="133.98" y="100.93" width="0.9" height="0.9" fill="#5a76ee" opacity="0.5"/>
<rect x="168.86" y="118.66" width="0.9" height="0.9" fill="#b0a8ee" opacity="0.5"/>
<rect x="149.08" y="115.58" width="0.9" height="0.9" fill="#7f93f2" opacity="0.5"/>
<rect x="137.48" y="109.94" width="0.9" height="0.9" fill="#5a76ee" opacity="0.5"/>
<rect x="172.56" y="114.98" width="0.9" height="0.9" fill="#b0a8ee" opacity="0.5"/>
<rect x="178.87" y="117.70" width="0.9" height="0.9" fill="#b0a8ee" opacity="0.5"/>
<rect x="172.75" y="95.26" width="0.9" height="0.9" fill="#9aa8f4" opacity="0.5"/>
<rect x="165.19" y="113.81" width="0.9" height="0.9" fill="#b0a8ee" opacity="0.5"/>
<rect x="167.88" y="110.86" width="0.9" height="0.9" fill="#b0a8ee" opacity="0.5"/>
<rect x="175.49" y="95.77" width="0.9" height="0.9" fill="#9aa8f4" opacity="0.5"/>
<polygon points="131.30,100.73 158.26,92.43 145.94,113.54" fill="#95a6f2" filter="url(#b1)"/>
<ellipse cx="161.5" cy="102.7" rx="6.2" ry="8.6" fill="#95a6f2" filter="url(#b1)"/>
<ellipse cx="146.39999999999998" cy="114.3" rx="2.4" ry="5" fill="#aab6f4" filter="url(#b1)"/>
<ellipse cx="161.3" cy="113.5" rx="2.4" ry="5" fill="#aab6f4" filter="url(#b1)"/>
<polygon points="133.80,100.50 155.90,93.70 145.80,111.00" fill="#3a5cec" filter="url(#b08)"/>
<ellipse cx="161.5" cy="102.3" rx="5.2" ry="7.2" fill="#3a5cec" filter="url(#b08)"/>
<polygon points="136.86,100.35 154.10,95.04 146.22,108.54" fill="#18b6e2" filter="url(#b08)"/>
<ellipse cx="161.3" cy="101.9" rx="4.5" ry="5.4" fill="#18b6e2" filter="url(#b08)"/>
<polygon points="139.40,99.67 154.43,95.04 147.56,106.81" fill="#28cc60" filter="url(#b08)"/>
<ellipse cx="148.2" cy="99.89999999999999" rx="5" ry="3.8" fill="#28cc60" transform="rotate(-25 147.7 100.3)" filter="url(#b08)"/>
<ellipse cx="161.3" cy="100.5" rx="4.0" ry="3.1" fill="#2cd852" filter="url(#b08)"/>
<ellipse cx="147.7" cy="100.3" rx="3.1" ry="2.5" fill="#c8dc1e" transform="rotate(-20 147.7 100.3)" filter="url(#b05)"/>
<ellipse cx="147.7" cy="100.3" rx="2.1" ry="1.8" fill="#ec5a10" filter="url(#b05)"/>
<ellipse cx="147.7" cy="100.3" rx="1.1" ry="1.0" fill="#e03010" filter="url(#b03)"/>
</g>
<polyline points="158.6,71.2 158.6,87.3 181.3,87.3" fill="none" stroke="#c897bb" stroke-width="0.55"/>
<line x1="129.9" y1="71.2" x2="131.4" y2="71.2" stroke="#999" stroke-width="0.5"/>
<text x="129.6" y="72.2" font-size="2.7" text-anchor="end" font-weight="normal" fill="#666">10<tspan font-size="60%" dy="-1">5</tspan></text>
<line x1="131.4" y1="121.1" x2="131.4" y2="122.6" stroke="#999" stroke-width="0.5"/>
<text x="131.4" y="125.3" font-size="2.7" text-anchor="middle" font-weight="normal" fill="#666">10<tspan font-size="60%" dy="-1">1</tspan></text>
<line x1="129.9" y1="83.675" x2="131.4" y2="83.675" stroke="#999" stroke-width="0.5"/>
<text x="129.6" y="84.675" font-size="2.7" text-anchor="end" font-weight="normal" fill="#666">10<tspan font-size="60%" dy="-1">4</tspan></text>
<line x1="143.875" y1="121.1" x2="143.875" y2="122.6" stroke="#999" stroke-width="0.5"/>
<text x="143.875" y="125.3" font-size="2.7" text-anchor="middle" font-weight="normal" fill="#666">10<tspan font-size="60%" dy="-1">2</tspan></text>
<line x1="129.9" y1="96.15" x2="131.4" y2="96.15" stroke="#999" stroke-width="0.5"/>
<text x="129.6" y="97.15" font-size="2.7" text-anchor="end" font-weight="normal" fill="#666">10<tspan font-size="60%" dy="-1">3</tspan></text>
<line x1="156.35000000000002" y1="121.1" x2="156.35000000000002" y2="122.6" stroke="#999" stroke-width="0.5"/>
<text x="156.35000000000002" y="125.3" font-size="2.7" text-anchor="middle" font-weight="normal" fill="#666">10<tspan font-size="60%" dy="-1">3</tspan></text>
<line x1="129.9" y1="108.625" x2="131.4" y2="108.625" stroke="#999" stroke-width="0.5"/>
<text x="129.6" y="109.625" font-size="2.7" text-anchor="end" font-weight="normal" fill="#666">10<tspan font-size="60%" dy="-1">2</tspan></text>
<line x1="168.82500000000002" y1="121.1" x2="168.82500000000002" y2="122.6" stroke="#999" stroke-width="0.5"/>
<text x="168.82500000000002" y="125.3" font-size="2.7" text-anchor="middle" font-weight="normal" fill="#666">10<tspan font-size="60%" dy="-1">4</tspan></text>
<line x1="129.9" y1="121.1" x2="131.4" y2="121.1" stroke="#999" stroke-width="0.5"/>
<text x="129.6" y="122.1" font-size="2.7" text-anchor="end" font-weight="normal" fill="#666">10<tspan font-size="60%" dy="-1">1</tspan></text>
<line x1="181.3" y1="121.1" x2="181.3" y2="122.6" stroke="#999" stroke-width="0.5"/>
<text x="181.3" y="125.3" font-size="2.7" text-anchor="middle" font-weight="normal" fill="#666">10<tspan font-size="60%" dy="-1">5</tspan></text>
<text x="198" y="38.2" font-size="8.6" text-anchor="middle" font-weight="normal" fill="#111">WT</text>
<text x="199" y="48.8" font-size="9" text-anchor="middle" font-weight="normal" fill="#111">(OVA)</text>
<text x="197" y="101.8" font-size="8.6" text-anchor="middle" font-weight="normal" fill="#111">KO</text>
<text x="199" y="112.6" font-size="9" text-anchor="middle" font-weight="normal" fill="#111">(OVA)</text>
<line x1="118.2" y1="131.4" x2="118.2" y2="89.5" stroke="#333" stroke-width="1.3"/>
<polyline points="115.6,91.8 118.2,88.8 120.8,91.8" fill="none" stroke="#333" stroke-width="1.2"/>
<line x1="117.6" y1="131.4" x2="164" y2="131.4" stroke="#333" stroke-width="1.3"/>
<polyline points="161.2,128.8 164.3,131.4 161.2,134" fill="none" stroke="#333" stroke-width="1.2"/>
<text x="120.8" y="65.1" font-size="8.7" text-anchor="middle" font-weight="normal" fill="#111" transform="rotate(-90 120.8 65.1)">CD25</text>
<text x="171.6" y="135.2" font-size="8.6" text-anchor="start" font-weight="normal" fill="#111">CD3ε</text>
</svg></body></html>
